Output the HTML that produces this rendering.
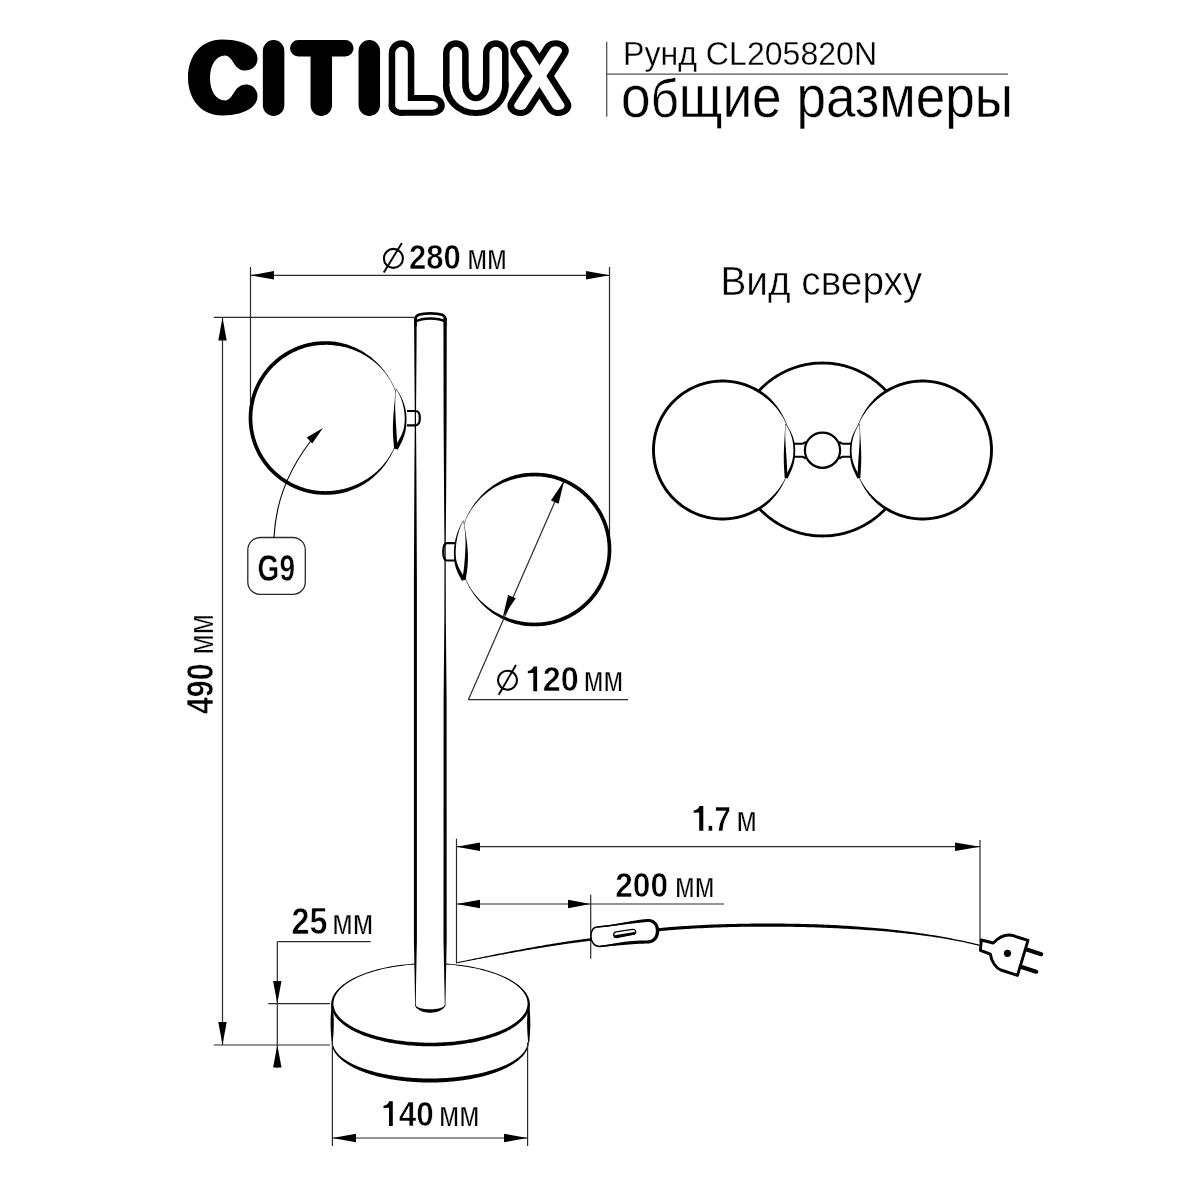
<!DOCTYPE html>
<html><head><meta charset="utf-8"><style>
html,body{margin:0;padding:0;background:#fff;width:1200px;height:1200px;overflow:hidden}
svg{display:block;will-change:transform}
text{font-family:"Liberation Sans",sans-serif;fill:#000}
</style></head><body>
<svg width="1200" height="1200" viewBox="0 0 1200 1200">
<rect width="1200" height="1200" fill="#fff"/>
<g fill="none" stroke="#000" stroke-linecap="round" stroke-linejoin="round">
<path d="M222 39.5 C236 39.5 246 43 251 47 C255 50 257.5 54 257.5 59 C257.5 65.5 252 70.5 245.5 70.5 C240.5 70.5 237.5 68.5 235 65 C232 60 229 55.5 225 55.5 C216 55.5 210 65 210 78 C210 91 216 100.5 225 100.5 C229 100.5 232 96 235 91 C237.5 87.5 240.5 84.5 246 84.5 C252 84.5 257.5 89 257.5 96 C257.5 101 255 105 251 108 C245 112.5 235 115.5 222 115.5 C201 115.5 188 99 188 77.5 C188 56 201 39.5 222 39.5 Z" fill="#000" stroke="none"/>
</g>
<g fill="none" stroke="#000" stroke-linecap="round"><path d="M273.6 50.75 V105.25 M369.3 50.75 V105.25 M321.3 56 V105.25" stroke-width="21.5"/><path d="M298.3 48.25 H345.3" stroke-width="16.5"/></g>
<g fill="none" stroke="#000" stroke-linecap="round" stroke-linejoin="round"><path d="M401.5 53.15 V103 M455.85 53.15 V85 M495.75 53.15 V85" stroke-width="25.6"/></g>
<g transform="translate(380 0) scale(1.25 1)" fill="none" stroke="#000" stroke-width="20.8" stroke-linecap="round" stroke-linejoin="round"><path d="M17.2 105.4 L41.44 105.4"/><path d="M60.68 85 A15.96 20.65 0 0 0 92.6 85"/><path d="M114.56 50.7 L142.64 105.6"/><path d="M140.64 50.7 L112.32 105.6"/></g>
<g fill="none" stroke="#fff" stroke-linecap="round" stroke-linejoin="round"><path d="M401.5 53.15 V103 M455.85 53.15 V85 M495.75 53.15 V85" stroke-width="12.6"/></g>
<g transform="translate(380 0) scale(1.43 1)" fill="none" stroke="#fff" stroke-width="8.8" stroke-linecap="round" stroke-linejoin="round"><path d="M15.03 105.4 L36.22 105.4"/><path d="M53.04 85 A13.95 20.65 0 0 0 80.94 85"/><path d="M100.14 50.7 L124.69 105.6"/><path d="M122.94 50.7 L98.18 105.6"/></g>
<line x1="606.7" y1="41.7" x2="606.7" y2="116.7" stroke="#555" stroke-width="1.3" stroke-linecap="butt"/>
<line x1="606.7" y1="74.2" x2="1008" y2="74.2" stroke="#555" stroke-width="1.3" stroke-linecap="butt"/>
<text x="623.1" y="65" font-size="33.8" font-weight="normal" textLength="254" lengthAdjust="spacingAndGlyphs" stroke="#fff" stroke-width="0.3" >Рунд CL205820N</text>
<text x="621.1" y="116.7" font-size="58.5" font-weight="normal" textLength="391.9" lengthAdjust="spacingAndGlyphs" stroke="#fff" stroke-width="0.45" >о<tspan font-size="54">б</tspan>щие размеры</text>
<line x1="250.5" y1="267" x2="250.5" y2="403" stroke="#2a2a2a" stroke-width="1.2" stroke-linecap="butt"/>
<line x1="609.5" y1="267" x2="609.5" y2="535" stroke="#2a2a2a" stroke-width="1.2" stroke-linecap="butt"/>
<line x1="250.5" y1="275.3" x2="609.5" y2="275.3" stroke="#2a2a2a" stroke-width="1.2" stroke-linecap="butt"/>
<path d="M250.5 275.3L274 271.1L274 279.5Z" fill="#000"/>
<path d="M609.5 275.3L586 279.5L586 271.1Z" fill="#000"/>
<circle cx="393.4" cy="258.4" r="9.5" fill="none" stroke="#000" stroke-width="2.1"/>
<line x1="383.75" y1="272.5" x2="401.9" y2="243" stroke="#000" stroke-width="1.9" stroke-linecap="butt"/>
<text x="409" y="269" font-size="35.6" font-weight="bold" textLength="51.75" lengthAdjust="spacingAndGlyphs" stroke="#fff" stroke-width="0.6" >280</text>
<text x="467.2" y="269" font-size="35" font-weight="normal" textLength="39.8" lengthAdjust="spacingAndGlyphs" stroke="#fff" stroke-width="0.25" >мм</text>
<line x1="213.75" y1="317.3" x2="414" y2="317.3" stroke="#2a2a2a" stroke-width="1.2" stroke-linecap="butt"/>
<line x1="213.75" y1="1045" x2="330" y2="1045" stroke="#2a2a2a" stroke-width="1.2" stroke-linecap="butt"/>
<line x1="222.5" y1="317.5" x2="222.5" y2="1045" stroke="#2a2a2a" stroke-width="1.2" stroke-linecap="butt"/>
<path d="M222.5 317.5L226.7 340.5L218.3 340.5Z" fill="#000"/>
<path d="M222.5 1045L218.3 1022L226.7 1022Z" fill="#000"/>
<g transform="translate(212.5 713) rotate(-90)">
<text x="-1" y="0" font-size="37.5" font-weight="bold" textLength="50.6" lengthAdjust="spacingAndGlyphs" stroke="#fff" stroke-width="0.6" >490</text>
<text x="58.6" y="0" font-size="35" font-weight="normal" textLength="40.4" lengthAdjust="spacingAndGlyphs" stroke="#fff" stroke-width="0.25" >мм</text>
</g>
<ellipse cx="325.5" cy="418" rx="75" ry="75" fill="#fff"/>
<path d="M400.73 418 400.7 416.03 400.62 414.06 400.49 412.1 400.31 410.14 400.08 408.18 399.8 406.23 399.47 404.29 399.08 402.36 398.65 400.44 398.16 398.53 397.63 396.63 397.04 394.75 396.41 392.89 395.73 391.04 395 389.21 394.22 387.4 393.4 385.61 392.53 383.85 391.61 382.1 390.66 380.38 389.66 378.68 388.62 377.01 387.55 375.36 386.43 373.73 385.28 372.13 384.08 370.56 382.85 369.02 381.58 367.51 380.27 366.03 378.92 364.58 377.54 363.16 376.12 361.78 374.66 360.44 373.17 359.13 371.65 357.86 370.09 356.62 368.5 355.43 366.88 354.28 365.23 353.17 363.55 352.1 361.84 351.08 360.1 350.1 358.33 349.16 356.54 348.28 354.73 347.44 352.89 346.65 351.03 345.91 349.15 345.22 347.25 344.58 345.33 343.99 343.4 343.46 341.45 342.98 339.48 342.56 337.51 342.19 335.52 341.87 333.53 341.61 331.53 341.41 329.52 341.27 327.51 341.18 325.5 341.15 323.49 341.18 321.48 341.26 319.47 341.39 317.47 341.57 315.47 341.81 313.48 342.1 311.5 342.44 309.52 342.83 307.56 343.27 305.61 343.77 303.67 344.31 301.75 344.91 299.85 345.56 297.96 346.25 296.09 347 294.24 347.79 292.42 348.64 290.61 349.53 288.83 350.46 287.08 351.45 285.35 352.47 283.64 353.55 281.97 354.67 280.33 355.83 278.72 357.03 277.14 358.28 275.59 359.56 274.08 360.89 272.6 362.25 271.16 363.66 269.75 365.1 268.39 366.58 267.06 368.09 265.78 369.64 264.53 371.22 263.33 372.83 262.17 374.47 261.05 376.14 259.97 377.85 258.95 379.57 257.96 381.33 257.03 383.11 256.14 384.92 255.29 386.74 254.5 388.59 253.75 390.46 253.06 392.35 252.41 394.25 251.81 396.17 251.27 398.11 250.77 400.06 250.33 402.02 249.94 404 249.6 405.98 249.31 407.97 249.07 409.97 248.89 411.97 248.76 413.98 248.68 415.99 248.65 418 248.68 420.01 248.76 422.02 248.89 424.03 249.07 426.03 249.31 428.03 249.6 430.02 249.94 432 250.33 433.98 250.77 435.94 251.27 437.89 251.81 439.83 252.41 441.75 253.06 443.65 253.75 445.54 254.5 447.41 255.29 449.26 256.14 451.08 257.03 452.89 257.96 454.67 258.95 456.43 259.97 458.15 261.05 459.86 262.17 461.53 263.33 463.17 264.53 464.78 265.78 466.36 267.06 467.91 268.39 469.42 269.75 470.9 271.16 472.34 272.6 473.75 274.08 475.11 275.59 476.44 277.14 477.72 278.72 478.97 280.33 480.17 281.97 481.33 283.64 482.45 285.35 483.53 287.07 484.55 288.83 485.54 290.61 486.47 292.42 487.36 294.24 488.21 296.09 489 297.96 489.75 299.85 490.44 301.75 491.09 303.67 491.69 305.61 492.23 307.56 492.73 309.52 493.17 311.5 493.56 313.48 493.9 315.47 494.19 317.47 494.43 319.47 494.61 321.48 494.74 323.49 494.82 325.5 494.85 327.51 494.82 329.52 494.74 331.53 494.61 333.53 494.43 335.53 494.19 337.52 493.9 339.5 493.56 341.48 493.17 343.44 492.71 345.38 492.2 347.31 491.64 349.23 491.02 351.12 490.35 352.99 489.62 354.85 488.85 356.67 488.02 358.48 487.14 360.26 486.21 362.01 485.24 363.73 484.22 365.42 483.15 367.09 482.04 368.72 480.88 370.32 479.69 371.88 478.45 373.41 477.17 374.91 475.85 376.37 474.49 377.79 473.1 379.17 471.67 380.52 470.21 381.82 468.71 383.09 467.19 384.32 465.63 385.5 464.04 386.64 462.42 387.75 460.78 388.81 459.11 389.83 457.42 390.8 455.7 391.73 453.96 392.62 452.2 393.47 450.42 394.27 448.62 395.03 446.8 395.75 444.96 396.42 443.11 397.04 441.25 397.63 439.37 398.16 437.47 398.65 435.56 399.08 433.64 399.47 431.71 399.8 429.77 400.08 427.82 400.31 425.86 400.49 423.9 400.62 421.94 400.7 419.97 400.73 418Z M400.27 418 400.25 419.96 400.17 421.91 400.04 423.87 399.87 425.82 399.64 427.76 399.35 429.7 399.02 431.63 398.64 433.55 398.21 435.46 397.73 437.35 397.2 439.24 396.61 441.11 395.98 442.96 395.29 444.79 394.55 446.6 393.76 448.39 392.92 450.16 392.03 451.9 391.09 453.61 390.1 455.3 389.07 456.96 387.99 458.58 386.87 460.18 385.71 461.74 384.5 463.27 383.26 464.77 381.97 466.23 380.65 467.66 379.29 469.04 377.89 470.39 376.47 471.71 375 472.98 373.51 474.21 371.99 475.4 370.43 476.56 368.85 477.67 367.24 478.73 365.61 479.76 363.95 480.74 362.27 481.69 360.57 482.58 358.84 483.44 357.1 484.25 355.34 485.01 353.56 485.74 351.76 486.41 349.95 487.05 348.13 487.64 346.29 488.18 344.44 488.69 342.58 489.14 340.71 489.56 338.83 489.93 336.94 490.25 335.05 490.52 333.15 490.75 331.24 490.92 329.33 491.05 327.41 491.12 325.5 491.15 323.59 491.12 321.67 491.05 319.76 490.92 317.85 490.75 315.95 490.52 314.06 490.25 312.17 489.93 310.29 489.55 308.42 489.13 306.57 488.66 304.72 488.14 302.9 487.57 301.08 486.95 299.29 486.29 297.51 485.58 295.75 484.83 294.01 484.02 292.29 483.18 290.6 482.29 288.92 481.35 287.28 480.37 285.66 479.35 284.07 478.28 282.5 477.18 280.97 476.03 279.47 474.85 277.99 473.62 276.55 472.36 275.15 471.06 273.78 469.72 272.44 468.35 271.14 466.95 269.88 465.51 268.65 464.03 267.47 462.53 266.32 461 265.22 459.43 264.15 457.84 263.13 456.22 262.15 454.57 261.21 452.9 260.32 451.21 259.48 449.49 258.67 447.75 257.92 445.99 257.21 444.21 256.55 442.42 255.93 440.6 255.36 438.78 254.84 436.93 254.37 435.08 253.95 433.21 253.57 431.33 253.25 429.44 252.98 427.55 252.75 425.65 252.58 423.74 252.45 421.83 252.38 419.91 252.35 418 252.38 416.09 252.45 414.17 252.58 412.26 252.75 410.35 252.98 408.45 253.25 406.56 253.57 404.67 253.95 402.79 254.37 400.92 254.84 399.07 255.36 397.22 255.93 395.4 256.55 393.58 257.21 391.79 257.92 390.01 258.67 388.25 259.48 386.51 260.32 384.79 261.21 383.1 262.15 381.43 263.13 379.78 264.15 378.16 265.22 376.57 266.32 375 267.47 373.47 268.65 371.97 269.88 370.49 271.14 369.05 272.44 367.65 273.78 366.28 275.15 364.94 276.55 363.64 277.99 362.38 279.47 361.15 280.97 359.97 282.5 358.82 284.07 357.72 285.66 356.65 287.28 355.63 288.93 354.65 290.6 353.71 292.29 352.82 294.01 351.98 295.75 351.17 297.51 350.42 299.29 349.71 301.08 349.05 302.9 348.43 304.72 347.86 306.57 347.34 308.42 346.87 310.29 346.45 312.17 346.07 314.06 345.75 315.95 345.48 317.85 345.25 319.76 345.08 321.67 344.95 323.59 344.88 325.5 344.85 327.41 344.87 329.33 344.94 331.24 345.05 333.15 345.21 335.06 345.41 336.96 345.66 338.85 345.96 340.74 346.3 342.62 346.68 344.49 347.12 346.35 347.6 348.2 348.12 350.04 348.7 351.87 349.32 353.67 349.98 355.47 350.69 357.24 351.45 359 352.25 360.74 353.1 362.45 354 364.15 354.94 365.81 355.92 367.46 356.95 369.08 358.02 370.67 359.14 372.23 360.3 373.75 361.5 375.25 362.74 376.72 364.03 378.15 365.35 379.54 366.72 380.9 368.12 382.21 369.56 383.49 371.04 384.73 372.55 385.92 374.1 387.07 375.68 388.18 377.3 389.24 378.94 390.25 380.62 391.21 382.32 392.13 384.05 392.99 385.81 393.81 387.59 394.58 389.38 395.31 391.2 395.99 393.04 396.62 394.89 397.2 396.76 397.73 398.65 398.21 400.54 398.64 402.45 399.02 404.37 399.35 406.3 399.64 408.24 399.87 410.18 400.04 412.13 400.17 414.09 400.25 416.04 400.27 418Z" fill="#000" fill-rule="evenodd"/>
<path d="M396 388.8 C393.9 406.8 393.9 430.8 396 448.8 C401.76 438.37 405.6 432.41 405.6 419 C405.6 405.41 400.32 394.84 396 388.8 Z" fill="#fff"/>
<path d="M395.8 388.78 395.75 389.23 395.7 389.68 395.65 390.14 395.6 390.6 395.55 391.06 395.5 391.52 395.45 391.99 395.41 392.46 395.36 392.93 395.32 393.4 395.28 393.87 395.23 394.35 395.19 394.83 395.15 395.31 395.11 395.79 395.07 396.28 395.03 396.76 394.99 397.25 394.94 397.74 394.9 398.23 394.86 398.72 394.81 399.21 394.77 399.71 394.72 400.21 394.68 400.71 394.63 401.21 394.58 401.71 394.54 402.21 394.49 402.71 394.44 403.22 394.4 403.72 394.35 404.23 394.3 404.74 394.25 405.25 394.21 405.76 394.16 406.27 394.11 406.79 394.07 407.3 394.02 407.82 393.97 408.33 393.93 408.85 393.88 409.37 393.84 409.89 393.79 410.41 393.75 410.93 393.71 411.45 393.66 411.97 393.62 412.49 393.58 413.02 393.54 413.54 393.5 414.07 393.46 414.59 393.42 415.12 393.38 415.64 393.35 416.17 393.31 416.69 393.28 417.22 393.24 417.75 393.21 418.27 393.18 418.8 393.15 419.33 393.12 419.85 393.1 420.38 393.07 420.91 393.05 421.44 393.02 421.96 393 422.49 392.98 423.02 392.96 423.54 392.95 424.07 392.93 424.59 392.92 425.12 392.91 425.64 392.9 426.17 392.89 426.69 392.88 427.22 392.88 427.74 392.88 428.26 392.88 428.78 392.88 429.3 392.88 429.82 392.89 430.34 392.9 430.86 392.91 431.38 392.92 431.89 392.94 432.41 392.95 432.92 392.97 433.43 393 433.95 393.02 434.46 393.05 434.96 393.08 435.47 393.1 435.98 393.13 436.48 393.16 436.99 393.2 437.49 393.23 437.99 393.26 438.49 393.29 438.99 393.33 439.48 393.37 439.98 393.4 440.47 393.44 440.96 393.48 441.45 393.52 441.94 393.56 442.42 393.6 442.91 393.64 443.39 393.68 443.87 393.73 444.35 393.77 444.82 393.82 445.3 393.86 445.77 393.91 446.24 393.96 446.71 394.01 447.17 394.06 447.63 394.11 448.09 394.16 448.55 394.21 449.01 L397.79 448.59 397.74 448.14 397.69 447.7 397.64 447.24 397.59 446.79 397.54 446.33 397.49 445.87 397.45 445.41 397.4 444.95 397.35 444.48 397.31 444.02 397.27 443.55 397.23 443.07 397.18 442.6 397.14 442.12 397.1 441.65 397.07 441.17 397.03 440.68 396.99 440.2 396.96 439.71 396.92 439.23 396.89 438.74 396.85 438.25 396.82 437.76 396.79 437.26 396.76 436.77 396.73 436.27 396.7 435.77 396.67 435.27 396.64 434.77 396.62 434.27 396.59 433.77 396.56 433.26 396.53 432.76 396.51 432.25 396.48 431.74 396.45 431.23 396.42 430.72 396.39 430.21 396.35 429.7 396.32 429.19 396.29 428.67 396.26 428.16 396.23 427.64 396.19 427.13 396.16 426.61 396.13 426.09 396.09 425.57 396.06 425.06 396.03 424.54 395.99 424.02 395.96 423.5 395.93 422.98 395.89 422.46 395.86 421.93 395.83 421.41 395.79 420.89 395.76 420.37 395.73 419.85 395.7 419.32 395.67 418.8 395.64 418.28 395.61 417.75 395.58 417.23 395.55 416.71 395.52 416.18 395.5 415.66 395.47 415.14 395.45 414.62 395.42 414.09 395.4 413.57 395.38 413.05 395.36 412.53 395.33 412.01 395.32 411.49 395.3 410.97 395.28 410.45 395.26 409.93 395.25 409.41 395.24 408.89 395.23 408.38 395.22 407.86 395.21 407.35 395.2 406.83 395.19 406.32 395.19 405.8 395.19 405.29 395.19 404.78 395.19 404.27 395.19 403.76 395.19 403.26 395.2 402.75 395.21 402.25 395.22 401.74 395.23 401.24 395.25 400.74 395.26 400.24 395.28 399.74 395.3 399.25 395.32 398.75 395.35 398.26 395.38 397.77 395.41 397.28 395.44 396.79 395.47 396.31 395.51 395.82 395.55 395.34 395.59 394.86 395.63 394.39 395.67 393.91 395.72 393.44 395.76 392.97 395.81 392.5 395.85 392.03 395.9 391.56 395.95 391.1 396 390.64 396.05 390.18 396.1 389.73 396.15 389.27 396.2 388.82Z" fill="#000"/>
<path d="M397.66 449.72 397.81 449.46 397.95 449.2 398.09 448.95 398.23 448.69 398.37 448.44 398.5 448.19 398.64 447.94 398.78 447.69 398.91 447.44 399.04 447.19 399.17 446.95 399.31 446.7 399.44 446.46 399.56 446.22 399.69 445.97 399.82 445.73 399.94 445.49 400.07 445.25 400.19 445.02 400.31 444.78 400.43 444.54 400.55 444.31 400.67 444.07 400.79 443.84 400.91 443.6 401.02 443.37 401.14 443.13 401.25 442.9 401.36 442.67 401.47 442.44 401.58 442.21 401.69 441.98 401.8 441.75 401.91 441.51 402.01 441.28 402.12 441.05 402.22 440.82 402.32 440.6 402.42 440.37 402.52 440.14 402.62 439.91 402.72 439.68 402.82 439.45 402.91 439.22 403.01 438.99 403.1 438.76 403.19 438.53 403.28 438.3 403.37 438.07 403.46 437.84 403.54 437.61 403.63 437.38 403.71 437.14 403.8 436.91 403.88 436.68 403.96 436.45 404.04 436.21 404.12 435.98 404.19 435.74 404.27 435.51 404.34 435.27 404.42 435.04 404.49 434.8 404.56 434.56 404.63 434.33 404.7 434.09 404.77 433.85 404.83 433.61 404.9 433.36 404.96 433.12 405.02 432.88 405.08 432.63 405.14 432.39 405.2 432.14 405.25 431.89 405.31 431.65 405.36 431.4 405.42 431.14 405.47 430.89 405.52 430.64 405.57 430.38 405.61 430.13 405.66 429.87 405.71 429.61 405.75 429.35 405.79 429.09 405.83 428.83 405.87 428.56 405.91 428.29 405.95 428.03 405.99 427.76 406.02 427.49 406.06 427.21 406.09 426.94 406.12 426.66 406.15 426.38 406.18 426.1 406.21 425.82 406.23 425.53 406.26 425.24 406.28 424.96 406.3 424.66 406.32 424.37 406.34 424.08 406.36 423.78 406.38 423.48 406.4 423.17 406.41 422.87 406.43 422.56 406.44 422.25 406.45 421.94 406.46 421.62 406.47 421.3 406.48 420.98 406.48 420.66 406.49 420.33 406.49 420.01 406.5 419.67 406.5 419.34 406.5 419 L404.7 419 404.7 419.33 404.7 419.66 404.69 419.98 404.68 420.3 404.68 420.62 404.66 420.93 404.65 421.24 404.64 421.55 404.62 421.85 404.6 422.16 404.58 422.46 404.56 422.75 404.54 423.05 404.51 423.34 404.48 423.63 404.45 423.91 404.42 424.2 404.39 424.48 404.36 424.76 404.32 425.03 404.28 425.31 404.24 425.58 404.2 425.85 404.16 426.11 404.12 426.38 404.07 426.64 404.02 426.9 403.97 427.16 403.92 427.41 403.87 427.67 403.82 427.92 403.76 428.17 403.7 428.42 403.64 428.66 403.58 428.91 403.52 429.15 403.46 429.39 403.4 429.63 403.33 429.86 403.26 430.1 403.2 430.33 403.13 430.56 403.05 430.79 402.98 431.02 402.91 431.25 402.83 431.48 402.76 431.7 402.68 431.92 402.6 432.15 402.52 432.37 402.44 432.59 402.36 432.81 402.27 433.02 402.19 433.24 402.1 433.46 402.01 433.67 401.92 433.89 401.83 434.1 401.74 434.31 401.65 434.52 401.56 434.74 401.46 434.95 401.37 435.16 401.27 435.37 401.17 435.58 401.07 435.79 400.97 435.99 400.87 436.2 400.77 436.41 400.66 436.62 400.56 436.83 400.45 437.03 400.35 437.24 400.24 437.45 400.13 437.66 400.02 437.87 399.91 438.07 399.8 438.28 399.69 438.49 399.57 438.7 399.46 438.91 399.34 439.12 399.23 439.33 399.11 439.54 398.99 439.75 398.87 439.97 398.75 440.18 398.63 440.39 398.51 440.61 398.39 440.82 398.26 441.04 398.14 441.25 398.01 441.47 397.88 441.69 397.76 441.91 397.63 442.13 397.5 442.35 397.37 442.58 397.24 442.8 397.11 443.03 396.98 443.25 396.84 443.48 396.71 443.71 396.58 443.94 396.44 444.18 396.31 444.41 396.17 444.65 396.03 444.88 395.89 445.12 395.76 445.37 395.62 445.61 395.48 445.85 395.34 446.1 395.19 446.35 395.05 446.6 394.91 446.85 394.77 447.11 394.62 447.36 394.48 447.62 394.34 447.88Z" fill="#000"/>
<path d="M406.5 419 406.5 418.66 406.49 418.31 406.49 417.97 406.48 417.63 406.47 417.29 406.46 416.95 406.44 416.61 406.42 416.28 406.4 415.94 406.38 415.61 406.35 415.28 406.33 414.95 406.3 414.62 406.26 414.29 406.23 413.97 406.19 413.64 406.16 413.32 406.12 413 406.07 412.68 406.03 412.36 405.98 412.04 405.94 411.72 405.89 411.41 405.83 411.1 405.78 410.79 405.72 410.48 405.67 410.17 405.61 409.86 405.55 409.56 405.48 409.25 405.42 408.95 405.35 408.65 405.29 408.35 405.22 408.05 405.15 407.76 405.07 407.46 405 407.17 404.92 406.88 404.85 406.59 404.77 406.3 404.69 406.01 404.61 405.73 404.52 405.45 404.44 405.16 404.36 404.88 404.27 404.61 404.18 404.33 404.09 404.05 404 403.78 403.91 403.51 403.82 403.24 403.72 402.97 403.63 402.7 403.53 402.44 403.44 402.17 403.34 401.91 403.24 401.65 403.14 401.39 403.04 401.14 402.94 400.88 402.83 400.63 402.73 400.37 402.63 400.12 402.52 399.88 402.42 399.63 402.31 399.38 402.2 399.14 402.09 398.9 401.98 398.66 401.88 398.42 401.77 398.18 401.65 397.95 401.54 397.71 401.43 397.48 401.32 397.25 401.21 397.02 401.09 396.8 400.98 396.57 400.87 396.35 400.75 396.13 400.64 395.91 400.52 395.69 400.41 395.48 400.29 395.26 400.18 395.05 400.06 394.84 399.94 394.63 399.83 394.42 399.71 394.21 399.6 394.01 399.48 393.81 399.36 393.61 399.24 393.41 399.13 393.21 399.01 393.01 398.89 392.82 398.78 392.63 398.66 392.44 398.54 392.25 398.43 392.06 398.31 391.88 398.2 391.69 398.08 391.51 397.96 391.33 397.85 391.15 397.73 390.98 397.62 390.8 397.5 390.63 397.39 390.46 397.28 390.29 397.16 390.12 397.05 389.95 396.94 389.79 396.82 389.62 396.71 389.46 396.6 389.3 396.49 389.15 396.38 388.99 396.27 388.84 396.16 388.68 L395.84 388.92 395.94 389.07 396.05 389.22 396.16 389.38 396.27 389.53 396.38 389.69 396.48 389.85 396.59 390.02 396.7 390.18 396.81 390.35 396.92 390.52 397.03 390.69 397.13 390.87 397.24 391.04 397.35 391.22 397.46 391.4 397.57 391.58 397.67 391.76 397.78 391.94 397.89 392.13 397.99 392.32 398.1 392.51 398.21 392.7 398.31 392.9 398.42 393.09 398.53 393.29 398.63 393.49 398.74 393.69 398.84 393.89 398.95 394.1 399.05 394.3 399.15 394.51 399.26 394.72 399.36 394.93 399.46 395.14 399.56 395.36 399.66 395.58 399.77 395.79 399.87 396.01 399.97 396.24 400.06 396.46 400.16 396.68 400.26 396.91 400.36 397.14 400.46 397.37 400.55 397.6 400.65 397.83 400.74 398.07 400.84 398.3 400.93 398.54 401.02 398.78 401.11 399.02 401.2 399.26 401.29 399.51 401.38 399.75 401.47 400 401.56 400.25 401.65 400.5 401.73 400.75 401.82 401 401.9 401.26 401.99 401.51 402.07 401.77 402.15 402.03 402.23 402.29 402.31 402.55 402.39 402.81 402.47 403.08 402.54 403.35 402.62 403.61 402.69 403.88 402.77 404.15 402.84 404.42 402.91 404.7 402.98 404.97 403.05 405.25 403.12 405.52 403.18 405.8 403.25 406.08 403.31 406.36 403.37 406.65 403.44 406.93 403.5 407.21 403.55 407.5 403.61 407.79 403.67 408.08 403.72 408.37 403.78 408.66 403.83 408.95 403.88 409.25 403.93 409.54 403.98 409.84 404.03 410.14 404.07 410.44 404.11 410.74 404.16 411.04 404.2 411.34 404.24 411.65 404.28 411.95 404.31 412.26 404.35 412.57 404.38 412.88 404.41 413.19 404.44 413.5 404.47 413.82 404.5 414.13 404.52 414.45 404.55 414.76 404.57 415.08 404.59 415.4 404.61 415.72 404.63 416.05 404.64 416.37 404.66 416.69 404.67 417.02 404.68 417.35 404.69 417.67 404.69 418 404.7 418.33 404.7 418.67 404.7 419Z" fill="#000"/>
<ellipse cx="534.5" cy="549.5" rx="75" ry="75" fill="#fff"/>
<path d="M611.35 549.5 611.32 547.49 611.24 545.48 611.11 543.47 610.93 541.47 610.69 539.47 610.4 537.48 610.06 535.5 609.67 533.52 609.23 531.56 608.73 529.61 608.19 527.67 607.59 525.75 606.94 523.85 606.25 521.96 605.5 520.09 604.71 518.24 603.86 516.42 602.97 514.61 602.04 512.83 601.05 511.07 600.03 509.35 598.95 507.64 597.83 505.97 596.67 504.33 595.47 502.72 594.22 501.14 592.94 499.59 591.61 498.08 590.25 496.6 588.84 495.16 587.4 493.75 585.92 492.39 584.41 491.06 582.86 489.78 581.28 488.53 579.67 487.33 578.03 486.17 576.36 485.05 574.65 483.97 572.92 482.95 571.17 481.96 569.39 481.03 567.58 480.14 565.76 479.29 563.91 478.5 562.04 477.75 560.15 477.06 558.25 476.41 556.33 475.81 554.39 475.27 552.44 474.77 550.48 474.33 548.5 473.94 546.52 473.6 544.53 473.31 542.53 473.07 540.53 472.89 538.52 472.76 536.51 472.68 534.5 472.65 532.49 472.68 530.48 472.76 528.47 472.89 526.47 473.07 524.47 473.31 522.48 473.61 520.5 473.97 518.53 474.38 516.58 474.85 514.64 475.37 512.71 475.95 510.81 476.58 508.92 477.26 507.05 478 505.21 478.78 503.39 479.62 501.59 480.5 499.82 481.43 498.07 482.41 496.36 483.43 494.67 484.5 493.01 485.62 491.39 486.77 489.79 487.97 488.23 489.21 486.71 490.48 485.22 491.8 483.76 493.15 482.34 494.54 480.96 495.96 479.62 497.42 478.31 498.91 477.04 500.43 475.81 501.98 474.62 503.56 473.48 505.16 472.37 506.8 471.3 508.46 470.28 510.14 469.29 511.85 468.35 513.58 467.45 515.34 466.59 517.11 465.77 518.9 465 520.71 464.27 522.54 463.59 524.39 462.96 526.25 462.37 528.13 461.84 530.03 461.35 531.94 460.92 533.86 460.53 535.79 460.2 537.73 459.92 539.68 459.69 541.64 459.51 543.6 459.38 545.56 459.3 547.53 459.27 549.5 459.3 551.47 459.38 553.44 459.51 555.4 459.69 557.36 459.92 559.32 460.2 561.27 460.53 563.21 460.92 565.14 461.35 567.06 461.84 568.97 462.37 570.87 462.96 572.75 463.59 574.61 464.27 576.46 465 578.29 465.77 580.1 466.59 581.89 467.45 583.66 468.35 585.42 469.29 587.15 470.28 588.86 471.3 590.54 472.37 592.2 473.48 593.84 474.62 595.44 475.81 597.02 477.04 598.57 478.31 600.09 479.62 601.58 480.96 603.04 482.34 604.46 483.76 605.85 485.22 607.2 486.71 608.52 488.23 609.79 489.79 611.03 491.39 612.23 493.01 613.38 494.67 614.5 496.36 615.57 498.07 616.59 499.82 617.57 501.59 618.5 503.39 619.38 505.21 620.22 507.05 621 508.92 621.74 510.81 622.42 512.71 623.05 514.64 623.63 516.58 624.15 518.53 624.62 520.5 625.03 522.48 625.39 524.47 625.69 526.47 625.93 528.47 626.11 530.48 626.24 532.49 626.32 534.5 626.35 536.51 626.32 538.52 626.24 540.53 626.11 542.53 625.93 544.53 625.69 546.52 625.4 548.5 625.06 550.48 624.67 552.44 624.23 554.39 623.73 556.33 623.19 558.25 622.59 560.15 621.94 562.04 621.25 563.91 620.5 565.76 619.71 567.58 618.86 569.39 617.97 571.17 617.04 572.92 616.05 574.65 615.03 576.36 613.95 578.03 612.83 579.67 611.67 581.28 610.47 582.86 609.22 584.41 607.94 585.92 606.61 587.4 605.25 588.84 603.84 590.25 602.4 591.61 600.92 592.94 599.41 594.22 597.86 595.47 596.28 596.67 594.67 597.83 593.03 598.95 591.36 600.03 589.65 601.05 587.93 602.04 586.17 602.97 584.39 603.86 582.58 604.71 580.76 605.5 578.91 606.25 577.04 606.94 575.15 607.59 573.25 608.19 571.33 608.73 569.39 609.23 567.44 609.67 565.48 610.06 563.5 610.4 561.52 610.69 559.53 610.93 557.53 611.11 555.53 611.24 553.52 611.32 551.51 611.35 549.5Z M607.65 549.5 607.62 551.41 607.55 553.33 607.42 555.24 607.25 557.15 607.02 559.05 606.75 560.94 606.43 562.83 606.05 564.71 605.63 566.58 605.16 568.43 604.64 570.28 604.07 572.1 603.45 573.92 602.79 575.71 602.08 577.49 601.33 579.25 600.52 580.99 599.68 582.71 598.79 584.4 597.85 586.08 596.87 587.72 595.85 589.34 594.78 590.93 593.68 592.5 592.53 594.03 591.35 595.53 590.12 597.01 588.86 598.45 587.56 599.85 586.22 601.22 584.85 602.56 583.45 603.86 582.01 605.12 580.53 606.35 579.03 607.53 577.5 608.68 575.93 609.78 574.34 610.85 572.72 611.87 571.08 612.85 569.4 613.79 567.71 614.68 565.99 615.52 564.25 616.33 562.49 617.08 560.71 617.79 558.92 618.45 557.1 619.07 555.28 619.64 553.43 620.16 551.58 620.63 549.71 621.05 547.83 621.43 545.94 621.75 544.05 622.02 542.15 622.25 540.24 622.42 538.33 622.55 536.41 622.62 534.5 622.65 532.59 622.62 530.67 622.55 528.76 622.42 526.85 622.25 524.95 622.03 523.05 621.77 521.16 621.46 519.28 621.11 517.4 620.71 515.54 620.26 513.68 619.77 511.84 619.24 510.01 618.66 508.19 618.04 506.39 617.36 504.6 616.65 502.83 615.89 501.08 615.08 499.35 614.23 497.64 613.34 495.95 612.4 494.29 611.42 492.65 610.39 491.04 609.32 489.45 608.21 487.89 607.05 486.37 605.86 484.87 604.62 483.4 603.34 481.97 602.03 480.58 600.67 479.22 599.28 477.9 597.84 476.62 596.37 475.37 594.87 474.17 593.33 473.01 591.76 471.9 590.15 470.83 588.52 469.81 586.85 468.83 585.16 467.9 583.43 467.02 581.69 466.19 579.91 465.42 578.12 464.69 576.3 464.01 574.46 463.38 572.61 462.8 570.74 462.27 568.85 461.79 566.96 461.36 565.05 460.98 563.13 460.65 561.2 460.36 559.26 460.13 557.32 459.96 555.37 459.83 553.41 459.75 551.46 459.73 549.5 459.75 547.54 459.83 545.59 459.96 543.63 460.13 541.68 460.36 539.74 460.65 537.8 460.98 535.87 461.36 533.95 461.79 532.04 462.27 530.15 462.8 528.26 463.38 526.39 464.01 524.54 464.69 522.7 465.42 520.88 466.19 519.09 467.02 517.31 467.9 515.57 468.83 513.84 469.81 512.15 470.83 510.48 471.9 508.85 473.01 507.24 474.17 505.67 475.37 504.13 476.62 502.63 477.9 501.16 479.22 499.72 480.58 498.33 481.97 496.97 483.4 495.66 484.87 494.38 486.37 493.14 487.89 491.95 489.45 490.79 491.04 489.68 492.65 488.61 494.29 487.58 495.95 486.6 497.64 485.66 499.35 484.77 501.08 483.92 502.83 483.11 504.6 482.35 506.39 481.64 508.19 480.96 510.01 480.34 511.84 479.76 513.68 479.23 515.54 478.74 517.4 478.29 519.28 477.89 521.16 477.54 523.05 477.23 524.95 476.97 526.85 476.75 528.76 476.58 530.67 476.45 532.59 476.38 534.5 476.35 536.41 476.38 538.33 476.45 540.24 476.58 542.15 476.75 544.05 476.98 545.94 477.25 547.83 477.57 549.71 477.95 551.58 478.37 553.43 478.84 555.28 479.36 557.1 479.93 558.92 480.55 560.71 481.21 562.49 481.92 564.25 482.67 565.99 483.48 567.71 484.32 569.4 485.21 571.08 486.15 572.72 487.13 574.34 488.15 575.93 489.22 577.5 490.32 579.03 491.47 580.53 492.65 582.01 493.88 583.45 495.14 584.85 496.44 586.22 497.78 587.56 499.15 588.86 500.55 590.12 501.99 591.35 503.47 592.53 504.97 593.68 506.5 594.78 508.07 595.85 509.66 596.87 511.28 597.85 512.92 598.79 514.6 599.68 516.29 600.52 518.01 601.33 519.75 602.08 521.51 602.79 523.29 603.45 525.08 604.07 526.9 604.64 528.72 605.16 530.57 605.63 532.42 606.05 534.29 606.43 536.17 606.75 538.06 607.02 539.95 607.25 541.85 607.42 543.76 607.55 545.67 607.62 547.59 607.65 549.5Z" fill="#000" fill-rule="evenodd"/>
<path d="M463.3 520.7 C467.3 538.49 467.7 562.21 463.7 580 C458.36 570.55 454.8 565.15 454.8 553 C454.8 538.47 459.48 527.16 463.3 520.7 Z" fill="#fff"/>
<path d="M463.1 520.74 463.2 521.19 463.3 521.64 463.4 522.09 463.49 522.54 463.59 522.99 463.68 523.45 463.77 523.91 463.86 524.37 463.94 524.83 464.03 525.3 464.11 525.77 464.19 526.24 464.28 526.71 464.35 527.18 464.43 527.66 464.51 528.14 464.58 528.62 464.65 529.1 464.71 529.58 464.78 530.07 464.83 530.55 464.89 531.04 464.95 531.53 465 532.02 465.05 532.52 465.09 533.01 465.14 533.51 465.18 534.01 465.21 534.51 465.25 535.01 465.28 535.51 465.31 536.01 465.34 536.52 465.37 537.02 465.39 537.53 465.41 538.04 465.43 538.54 465.45 539.05 465.46 539.56 465.47 540.07 465.48 540.58 465.49 541.09 465.5 541.61 465.5 542.12 465.5 542.63 465.5 543.15 465.5 543.66 465.5 544.17 465.49 544.69 465.48 545.2 465.47 545.72 465.46 546.24 465.45 546.75 465.44 547.27 465.42 547.78 465.4 548.3 465.39 548.81 465.37 549.33 465.34 549.85 465.32 550.36 465.3 550.88 465.27 551.39 465.24 551.91 465.22 552.42 465.19 552.93 465.16 553.45 465.13 553.96 465.09 554.47 465.06 554.99 465.03 555.5 464.99 556.01 464.95 556.52 464.92 557.03 464.88 557.54 464.84 558.05 464.8 558.56 464.76 559.06 464.72 559.57 464.68 560.08 464.64 560.58 464.59 561.08 464.55 561.59 464.51 562.09 464.46 562.59 464.42 563.09 464.38 563.59 464.33 564.09 464.29 564.58 464.24 565.08 464.19 565.57 464.15 566.07 464.1 566.56 464.05 567.05 464 567.54 463.94 568.03 463.89 568.51 463.83 569 463.77 569.48 463.71 569.96 463.65 570.44 463.59 570.92 463.52 571.4 463.45 571.87 463.39 572.35 463.31 572.82 463.24 573.29 463.17 573.75 463.09 574.22 463.01 574.68 462.93 575.14 462.85 575.6 462.77 576.06 462.68 576.51 462.6 576.96 462.51 577.41 462.42 577.86 462.33 578.31 462.23 578.75 462.14 579.19 462.04 579.63 L465.36 580.37 465.46 579.92 465.56 579.46 465.66 579 465.75 578.54 465.84 578.08 465.94 577.61 466.03 577.14 466.11 576.67 466.2 576.2 466.28 575.73 466.37 575.25 466.45 574.78 466.52 574.3 466.6 573.81 466.68 573.33 466.75 572.85 466.82 572.36 466.89 571.87 466.96 571.38 467.02 570.89 467.09 570.39 467.15 569.9 467.21 569.4 467.27 568.9 467.32 568.4 467.38 567.9 467.43 567.4 467.48 566.9 467.53 566.39 467.58 565.89 467.63 565.38 467.67 564.87 467.71 564.36 467.74 563.85 467.77 563.34 467.8 562.83 467.83 562.31 467.85 561.8 467.87 561.28 467.89 560.76 467.9 560.25 467.91 559.73 467.92 559.21 467.93 558.69 467.93 558.17 467.93 557.65 467.93 557.13 467.92 556.61 467.92 556.09 467.91 555.56 467.89 555.04 467.88 554.52 467.86 554 467.84 553.47 467.82 552.95 467.8 552.43 467.77 551.91 467.74 551.38 467.71 550.86 467.68 550.34 467.64 549.82 467.61 549.29 467.57 548.77 467.53 548.25 467.49 547.73 467.44 547.21 467.4 546.69 467.35 546.17 467.3 545.65 467.25 545.13 467.2 544.61 467.15 544.1 467.09 543.58 467.03 543.06 466.98 542.55 466.92 542.03 466.86 541.52 466.8 541.01 466.73 540.49 466.67 539.98 466.6 539.47 466.54 538.96 466.47 538.46 466.4 537.95 466.33 537.44 466.26 536.94 466.19 536.43 466.12 535.93 466.05 535.43 465.98 534.93 465.9 534.43 465.83 533.93 465.75 533.44 465.68 532.94 465.6 532.45 465.53 531.96 465.45 531.47 465.37 530.98 465.3 530.49 465.22 530 465.14 529.52 465.06 529.03 464.98 528.55 464.91 528.07 464.83 527.59 464.75 527.12 464.67 526.64 464.59 526.17 464.51 525.7 464.42 525.23 464.34 524.76 464.25 524.3 464.16 523.83 464.07 523.37 463.98 522.91 463.88 522.46 463.79 522 463.69 521.55 463.59 521.1 463.5 520.66Z" fill="#000"/>
<path d="M465.4 579.04 465.26 578.8 465.13 578.57 465 578.34 464.86 578.11 464.73 577.88 464.6 577.65 464.47 577.43 464.34 577.2 464.21 576.98 464.08 576.76 463.95 576.54 463.82 576.33 463.7 576.11 463.57 575.9 463.44 575.69 463.32 575.48 463.19 575.27 463.07 575.06 462.94 574.85 462.82 574.65 462.7 574.44 462.58 574.24 462.46 574.04 462.34 573.84 462.22 573.64 462.1 573.44 461.98 573.25 461.86 573.05 461.75 572.85 461.63 572.66 461.52 572.47 461.4 572.27 461.29 572.08 461.18 571.89 461.07 571.7 460.95 571.51 460.85 571.32 460.74 571.13 460.63 570.94 460.52 570.75 460.42 570.56 460.31 570.38 460.21 570.19 460.1 570 460 569.82 459.9 569.63 459.8 569.44 459.7 569.26 459.6 569.07 459.5 568.88 459.4 568.7 459.31 568.51 459.21 568.32 459.12 568.13 459.03 567.95 458.93 567.76 458.84 567.57 458.75 567.38 458.67 567.19 458.58 567 458.49 566.81 458.41 566.62 458.32 566.43 458.24 566.24 458.15 566.04 458.07 565.85 457.99 565.65 457.91 565.46 457.84 565.26 457.76 565.06 457.68 564.86 457.61 564.66 457.54 564.46 457.47 564.26 457.39 564.06 457.32 563.85 457.26 563.65 457.19 563.44 457.12 563.23 457.06 563.02 457 562.81 456.93 562.6 456.87 562.38 456.81 562.16 456.76 561.95 456.7 561.73 456.64 561.51 456.59 561.28 456.54 561.06 456.49 560.83 456.44 560.6 456.39 560.37 456.34 560.14 456.3 559.9 456.25 559.67 456.21 559.43 456.17 559.19 456.13 558.95 456.1 558.7 456.06 558.45 456.03 558.2 455.99 557.95 455.96 557.7 455.93 557.44 455.91 557.18 455.88 556.92 455.86 556.66 455.83 556.39 455.81 556.13 455.79 555.86 455.78 555.58 455.76 555.31 455.75 555.03 455.73 554.75 455.72 554.46 455.72 554.17 455.71 553.89 455.7 553.59 455.7 553.3 455.7 553 L453.9 553 453.9 553.31 453.9 553.61 453.9 553.91 453.91 554.21 453.91 554.51 453.92 554.8 453.93 555.09 453.93 555.38 453.94 555.67 453.95 555.95 453.97 556.23 453.98 556.51 453.99 556.79 454.01 557.06 454.02 557.34 454.04 557.61 454.06 557.88 454.08 558.14 454.1 558.41 454.12 558.67 454.14 558.93 454.16 559.19 454.19 559.45 454.21 559.7 454.24 559.96 454.27 560.21 454.3 560.46 454.33 560.71 454.36 560.96 454.39 561.2 454.43 561.44 454.46 561.69 454.5 561.93 454.53 562.17 454.57 562.41 454.61 562.64 454.65 562.88 454.69 563.11 454.74 563.35 454.78 563.58 454.83 563.81 454.87 564.04 454.92 564.27 454.97 564.5 455.02 564.72 455.07 564.95 455.13 565.17 455.18 565.4 455.23 565.62 455.29 565.84 455.35 566.07 455.41 566.29 455.47 566.51 455.53 566.72 455.59 566.94 455.65 567.16 455.72 567.38 455.78 567.59 455.85 567.81 455.92 568.02 455.99 568.24 456.06 568.45 456.13 568.67 456.2 568.88 456.27 569.09 456.35 569.3 456.43 569.52 456.5 569.73 456.58 569.94 456.66 570.15 456.74 570.36 456.82 570.57 456.91 570.78 456.99 570.99 457.08 571.2 457.16 571.41 457.25 571.62 457.34 571.83 457.43 572.04 457.52 572.25 457.61 572.46 457.7 572.67 457.8 572.88 457.89 573.09 457.99 573.29 458.08 573.5 458.18 573.71 458.28 573.93 458.38 574.14 458.48 574.35 458.58 574.56 458.69 574.77 458.79 574.98 458.9 575.19 459 575.41 459.11 575.62 459.22 575.83 459.33 576.05 459.44 576.26 459.55 576.48 459.67 576.69 459.78 576.91 459.89 577.13 460.01 577.34 460.13 577.56 460.24 577.78 460.36 578 460.48 578.22 460.6 578.45 460.73 578.67 460.85 578.89 460.97 579.12 461.1 579.34 461.22 579.57 461.35 579.8 461.48 580.03 461.61 580.26 461.74 580.49 461.87 580.72 462 580.96Z" fill="#000"/>
<path d="M455.7 553 455.7 552.64 455.7 552.29 455.71 551.93 455.71 551.58 455.72 551.22 455.73 550.87 455.74 550.52 455.75 550.17 455.76 549.83 455.78 549.48 455.8 549.14 455.81 548.79 455.83 548.45 455.85 548.11 455.88 547.77 455.9 547.43 455.92 547.1 455.95 546.76 455.98 546.43 456.01 546.1 456.04 545.77 456.07 545.44 456.1 545.11 456.14 544.78 456.17 544.46 456.21 544.13 456.25 543.81 456.29 543.49 456.33 543.17 456.37 542.85 456.41 542.53 456.46 542.22 456.51 541.9 456.55 541.59 456.6 541.28 456.65 540.97 456.7 540.66 456.75 540.36 456.8 540.05 456.86 539.75 456.91 539.44 456.97 539.14 457.03 538.84 457.08 538.54 457.14 538.25 457.2 537.95 457.26 537.66 457.33 537.37 457.39 537.08 457.45 536.79 457.52 536.5 457.58 536.21 457.65 535.93 457.72 535.65 457.79 535.36 457.86 535.08 457.93 534.81 458 534.53 458.07 534.25 458.14 533.98 458.22 533.71 458.29 533.44 458.37 533.17 458.44 532.9 458.52 532.64 458.6 532.37 458.67 532.11 458.75 531.85 458.83 531.59 458.91 531.33 458.99 531.08 459.08 530.83 459.16 530.57 459.24 530.32 459.32 530.07 459.41 529.83 459.49 529.58 459.58 529.34 459.66 529.1 459.75 528.86 459.84 528.62 459.93 528.38 460.01 528.15 460.1 527.91 460.19 527.68 460.28 527.45 460.37 527.23 460.46 527 460.55 526.78 460.64 526.55 460.73 526.33 460.82 526.12 460.92 525.9 461.01 525.68 461.1 525.47 461.19 525.26 461.29 525.05 461.38 524.85 461.47 524.64 461.57 524.44 461.66 524.24 461.76 524.04 461.85 523.84 461.95 523.65 462.04 523.45 462.14 523.26 462.23 523.07 462.33 522.88 462.42 522.7 462.52 522.52 462.61 522.34 462.71 522.16 462.8 521.98 462.9 521.81 462.99 521.63 463.09 521.46 463.19 521.29 463.28 521.13 463.38 520.96 463.47 520.8 L463.13 520.6 463.03 520.76 462.93 520.93 462.84 521.09 462.74 521.26 462.64 521.43 462.54 521.6 462.44 521.78 462.34 521.96 462.24 522.13 462.14 522.31 462.04 522.5 461.94 522.68 461.84 522.86 461.73 523.05 461.63 523.24 461.53 523.43 461.43 523.62 461.32 523.82 461.22 524.02 461.12 524.21 461.01 524.42 460.91 524.62 460.8 524.82 460.7 525.03 460.6 525.24 460.49 525.45 460.39 525.66 460.28 525.87 460.18 526.09 460.08 526.3 459.97 526.52 459.87 526.74 459.76 526.96 459.66 527.19 459.56 527.42 459.45 527.64 459.35 527.87 459.25 528.11 459.14 528.34 459.04 528.57 458.94 528.81 458.84 529.05 458.74 529.29 458.64 529.53 458.53 529.78 458.43 530.03 458.33 530.27 458.24 530.52 458.14 530.78 458.04 531.03 457.94 531.28 457.84 531.54 457.75 531.8 457.65 532.06 457.56 532.32 457.46 532.59 457.37 532.85 457.27 533.12 457.18 533.39 457.09 533.66 457 533.94 456.91 534.21 456.82 534.49 456.73 534.77 456.64 535.05 456.56 535.33 456.47 535.61 456.38 535.9 456.3 536.18 456.22 536.47 456.14 536.76 456.06 537.06 455.98 537.35 455.9 537.65 455.82 537.94 455.74 538.24 455.67 538.54 455.59 538.85 455.52 539.15 455.45 539.46 455.38 539.76 455.31 540.07 455.24 540.39 455.18 540.7 455.11 541.01 455.05 541.33 454.99 541.65 454.93 541.96 454.87 542.29 454.81 542.61 454.75 542.93 454.7 543.26 454.65 543.59 454.59 543.91 454.54 544.24 454.5 544.58 454.45 544.91 454.4 545.25 454.36 545.58 454.32 545.92 454.28 546.26 454.24 546.6 454.21 546.95 454.17 547.29 454.14 547.64 454.11 547.98 454.08 548.33 454.06 548.68 454.03 549.03 454.01 549.39 453.99 549.74 453.97 550.1 453.95 550.46 453.94 550.82 453.93 551.18 453.92 551.54 453.91 551.9 453.9 552.27 453.9 552.63 453.9 553Z" fill="#000"/>
<line x1="564" y1="481" x2="468.3" y2="699.7" stroke="#2a2a2a" stroke-width="1.2" stroke-linecap="butt"/>
<line x1="468.3" y1="699.7" x2="628" y2="699.7" stroke="#2a2a2a" stroke-width="1.2" stroke-linecap="butt"/>
<path d="M564 481L558.63 503.75L550.93 500.39Z" fill="#000"/>
<path d="M502.7 617.7L508.07 594.95L515.77 598.31Z" fill="#000"/>
<circle cx="507.5" cy="680.2" r="9.5" fill="none" stroke="#000" stroke-width="2.1"/>
<line x1="498.7" y1="694.7" x2="516" y2="665" stroke="#000" stroke-width="1.9" stroke-linecap="butt"/>
<text x="542.7" y="691" font-size="35.6" font-weight="bold" textLength="35.9" lengthAdjust="spacingAndGlyphs" stroke="#fff" stroke-width="0.6" >20</text>
<path d="M537.1 691.2 L537.1 666.4 L533.5 666.4 C532.8 668.9 530.8 670.6 527.8 671 L527.8 673.3 L533.3 672.9 L533.3 691.2 Z" fill="#000"/>
<text x="583.8" y="691" font-size="35" font-weight="normal" textLength="39.4" lengthAdjust="spacingAndGlyphs" stroke="#fff" stroke-width="0.25" >мм</text>
<rect x="247.8" y="537.5" width="57.5" height="56.9" rx="12.5" fill="#fff" stroke="#2a2a2a" stroke-width="1.3"/>
<text x="257.6" y="580.8" font-size="36" font-weight="bold" textLength="37.4" lengthAdjust="spacingAndGlyphs" stroke="#fff" stroke-width="0.6" >G9</text>
<path d="M274 537.5 Q276.5 480.6 318 432" fill="none" stroke="#000" stroke-width="1.1"/>
<path d="M323 428L312.22 443.44L306.78 437.56Z" fill="#000"/>
<path d="M529.85 1004 529.79 1002.91 529.66 1001.82 529.47 1000.74 529.2 999.66 528.87 998.58 528.48 997.51 528.01 996.44 527.48 995.38 526.89 994.33 526.23 993.28 525.5 992.25 524.71 991.22 523.86 990.2 522.94 989.19 521.96 988.2 520.92 987.21 519.82 986.24 518.65 985.28 517.43 984.33 516.15 983.4 514.81 982.48 513.42 981.58 511.97 980.69 510.47 979.82 508.91 978.96 507.3 978.12 505.63 977.3 503.92 976.5 502.16 975.72 500.34 974.96 498.49 974.21 496.58 973.49 494.63 972.78 492.64 972.1 490.61 971.44 488.53 970.8 486.42 970.19 484.27 969.59 482.08 969.02 479.86 968.48 477.6 967.96 475.31 967.46 473 966.99 470.65 966.54 468.27 966.12 465.87 965.72 463.45 965.35 461 965 458.53 964.69 456.05 964.4 453.54 964.13 451.02 963.9 448.49 963.69 445.94 963.5 443.38 963.35 440.82 963.22 438.24 963.13 435.67 963.06 433.08 963.01 430.5 963 427.92 963.01 425.33 963.06 422.76 963.13 420.18 963.22 417.62 963.35 415.06 963.5 412.51 963.69 409.98 963.9 407.46 964.13 404.95 964.4 402.47 964.69 400 965 397.55 965.35 395.13 965.72 392.73 966.12 390.35 966.54 388 966.99 385.69 967.46 383.4 967.96 381.14 968.48 378.92 969.02 376.73 969.59 374.58 970.19 372.47 970.8 370.39 971.44 368.36 972.1 366.37 972.78 364.42 973.49 362.51 974.21 360.66 974.96 358.84 975.72 357.08 976.5 355.37 977.3 353.7 978.12 352.09 978.96 350.53 979.82 349.03 980.69 347.58 981.58 346.19 982.48 344.85 983.4 343.57 984.33 342.35 985.28 341.18 986.24 340.08 987.21 339.04 988.2 338.06 989.19 337.14 990.2 336.29 991.22 335.5 992.25 334.77 993.28 334.11 994.33 333.52 995.38 332.99 996.44 332.52 997.51 332.13 998.58 331.8 999.66 331.53 1000.74 331.34 1001.82 331.21 1002.91 331.15 1004 331.16 1005.09 331.24 1006.18 331.38 1007.27 331.59 1008.36 331.87 1009.45 332.22 1010.54 332.64 1011.62 333.13 1012.7 333.68 1013.78 334.3 1014.84 334.98 1015.91 335.74 1016.96 336.55 1018.01 337.44 1019.05 338.38 1020.07 339.4 1021.09 340.47 1022.1 341.61 1023.1 342.81 1024.08 344.07 1025.05 345.4 1026 346.78 1026.94 348.22 1027.87 349.71 1028.78 351.27 1029.67 352.88 1030.55 354.54 1031.4 356.26 1032.24 358.02 1033.06 359.84 1033.86 361.71 1034.63 363.63 1035.39 365.59 1036.13 367.6 1036.84 369.65 1037.53 371.74 1038.19 373.88 1038.84 376.05 1039.46 378.26 1040.05 380.51 1040.62 382.79 1041.16 385.11 1041.68 387.45 1042.17 389.83 1042.64 392.23 1043.08 394.66 1043.49 397.12 1043.87 399.6 1044.23 402.1 1044.56 404.62 1044.86 407.16 1045.13 409.71 1045.38 412.28 1045.59 414.86 1045.78 417.45 1045.94 420.05 1046.07 422.65 1046.17 425.27 1046.24 427.88 1046.29 430.5 1046.3 433.12 1046.29 435.73 1046.24 438.35 1046.17 440.95 1046.07 443.55 1045.94 446.14 1045.78 448.72 1045.59 451.29 1045.38 453.84 1045.13 456.38 1044.86 458.9 1044.56 461.4 1044.23 463.88 1043.87 466.34 1043.49 468.77 1043.08 471.17 1042.64 473.55 1042.17 475.89 1041.68 478.21 1041.16 480.49 1040.62 482.74 1040.05 484.95 1039.46 487.12 1038.84 489.26 1038.19 491.35 1037.53 493.4 1036.84 495.41 1036.13 497.37 1035.39 499.29 1034.63 501.16 1033.86 502.98 1033.06 504.74 1032.24 506.46 1031.4 508.12 1030.55 509.73 1029.67 511.29 1028.78 512.78 1027.87 514.22 1026.94 515.6 1026 516.93 1025.05 518.19 1024.08 519.39 1023.1 520.53 1022.1 521.6 1021.09 522.62 1020.07 523.56 1019.05 524.45 1018.01 525.26 1016.96 526.02 1015.91 526.7 1014.84 527.32 1013.78 527.87 1012.7 528.36 1011.62 528.78 1010.54 529.13 1009.45 529.41 1008.36 529.62 1007.27 529.76 1006.18 529.84 1005.09 529.85 1004Z M527.55 1004 527.49 1005.03 527.37 1006.06 527.17 1007.08 526.92 1008.1 526.59 1009.12 526.21 1010.13 525.75 1011.14 525.23 1012.14 524.65 1013.13 524 1014.12 523.3 1015.1 522.52 1016.07 521.69 1017.03 520.79 1017.98 519.83 1018.92 518.82 1019.85 517.74 1020.77 516.6 1021.68 515.41 1022.57 514.16 1023.45 512.85 1024.32 511.49 1025.17 510.07 1026.01 508.6 1026.83 507.08 1027.64 505.51 1028.43 503.88 1029.2 502.21 1029.96 500.49 1030.7 498.72 1031.42 496.9 1032.12 495.04 1032.8 493.14 1033.47 491.19 1034.11 489.21 1034.73 487.18 1035.34 485.12 1035.92 483.02 1036.48 480.88 1037.01 478.71 1037.53 476.5 1038.02 474.27 1038.49 472.01 1038.94 469.71 1039.36 467.39 1039.76 465.05 1040.13 462.68 1040.48 460.29 1040.81 457.88 1041.11 455.45 1041.38 453 1041.63 450.54 1041.85 448.07 1042.05 445.58 1042.22 443.08 1042.37 440.58 1042.49 438.06 1042.58 435.55 1042.65 433.02 1042.69 430.5 1042.7 427.98 1042.69 425.45 1042.65 422.94 1042.58 420.42 1042.49 417.92 1042.37 415.42 1042.22 412.93 1042.05 410.46 1041.85 408 1041.63 405.55 1041.38 403.12 1041.11 400.71 1040.81 398.32 1040.48 395.95 1040.13 393.61 1039.76 391.29 1039.36 388.99 1038.94 386.73 1038.49 384.5 1038.02 382.29 1037.53 380.12 1037.01 377.98 1036.48 375.88 1035.92 373.82 1035.34 371.79 1034.73 369.81 1034.11 367.86 1033.47 365.96 1032.8 364.1 1032.12 362.28 1031.42 360.51 1030.7 358.79 1029.96 357.12 1029.2 355.49 1028.43 353.92 1027.64 352.4 1026.83 350.93 1026.01 349.51 1025.17 348.15 1024.32 346.84 1023.45 345.59 1022.57 344.4 1021.68 343.26 1020.77 342.18 1019.85 341.17 1018.92 340.21 1017.98 339.31 1017.03 338.48 1016.07 337.7 1015.1 337 1014.12 336.35 1013.13 335.77 1012.14 335.25 1011.14 334.79 1010.13 334.41 1009.12 334.08 1008.1 333.83 1007.08 333.63 1006.06 333.51 1005.03 333.45 1004 333.46 1002.97 333.53 1001.94 333.67 1000.91 333.88 999.88 334.15 998.85 334.5 997.82 334.9 996.8 335.38 995.78 335.91 994.76 336.52 993.75 337.19 992.75 337.92 991.75 338.72 990.76 339.58 989.78 340.51 988.81 341.5 987.84 342.55 986.89 343.66 985.95 344.83 985.02 346.07 984.1 347.36 983.2 348.71 982.31 350.11 981.43 351.57 980.57 353.09 979.73 354.66 978.9 356.29 978.09 357.97 977.3 359.69 976.52 361.47 975.77 363.29 975.03 365.17 974.32 367.08 973.62 369.04 972.95 371.05 972.3 373.09 971.67 375.18 971.06 377.3 970.47 379.46 969.91 381.66 969.37 383.89 968.86 386.15 968.37 388.44 967.9 390.76 967.46 393.11 967.05 395.49 966.66 397.89 966.3 400.31 965.96 402.75 965.65 405.21 965.36 407.69 965.11 410.19 964.87 412.7 964.67 415.22 964.49 417.75 964.34 420.29 964.22 422.83 964.12 425.39 964.05 427.94 964.01 430.5 964 433.06 964.01 435.61 964.05 438.17 964.12 440.71 964.22 443.25 964.34 445.78 964.49 448.3 964.67 450.81 964.87 453.31 965.11 455.79 965.36 458.25 965.65 460.69 965.96 463.11 966.3 465.51 966.66 467.89 967.05 470.24 967.46 472.56 967.9 474.85 968.37 477.11 968.86 479.34 969.37 481.54 969.91 483.7 970.47 485.82 971.06 487.91 971.67 489.95 972.3 491.96 972.95 493.92 973.62 495.83 974.32 497.71 975.03 499.53 975.77 501.31 976.52 503.03 977.3 504.71 978.09 506.34 978.9 507.91 979.73 509.43 980.57 510.89 981.43 512.29 982.31 513.64 983.2 514.93 984.1 516.17 985.02 517.34 985.95 518.45 986.89 519.5 987.84 520.49 988.81 521.42 989.78 522.28 990.76 523.08 991.75 523.81 992.75 524.48 993.75 525.09 994.76 525.62 995.78 526.1 996.8 526.5 997.82 526.85 998.85 527.12 999.88 527.33 1000.91 527.47 1001.94 527.54 1002.97 527.55 1004Z" fill="#000" fill-rule="evenodd"/>
<path d="M331.6 1042 331.61 1042.51 331.63 1043.02 331.67 1043.54 331.72 1044.05 331.79 1044.56 331.88 1045.07 331.98 1045.58 332.1 1046.09 332.23 1046.6 332.38 1047.11 332.54 1047.62 332.72 1048.13 332.92 1048.64 333.13 1049.15 333.36 1049.66 333.6 1050.16 333.86 1050.67 334.14 1051.17 334.43 1051.68 334.73 1052.18 335.06 1052.68 335.4 1053.18 335.75 1053.68 336.12 1054.18 336.51 1054.68 336.91 1055.17 337.33 1055.67 337.77 1056.16 338.22 1056.65 338.68 1057.14 339.16 1057.62 339.66 1058.11 340.18 1058.59 340.7 1059.07 341.25 1059.55 341.81 1060.03 342.38 1060.5 342.98 1060.97 343.58 1061.44 344.2 1061.9 344.84 1062.36 345.49 1062.82 346.16 1063.28 346.84 1063.73 347.54 1064.18 348.25 1064.62 348.98 1065.06 349.72 1065.5 350.47 1065.94 351.24 1066.37 352.03 1066.79 352.82 1067.21 353.63 1067.63 354.46 1068.05 355.3 1068.46 356.15 1068.86 357.02 1069.26 357.9 1069.66 358.79 1070.05 359.69 1070.43 360.61 1070.81 361.54 1071.19 362.49 1071.56 363.44 1071.93 364.41 1072.29 365.39 1072.64 366.38 1072.99 367.38 1073.34 368.39 1073.68 369.42 1074.01 370.45 1074.34 371.5 1074.66 372.56 1074.97 373.62 1075.28 374.7 1075.59 375.79 1075.88 376.89 1076.18 377.99 1076.46 379.11 1076.74 380.23 1077.01 381.37 1077.28 382.51 1077.54 383.66 1077.8 384.82 1078.04 385.99 1078.29 387.16 1078.52 388.35 1078.75 389.54 1078.97 390.74 1079.19 391.94 1079.4 393.15 1079.6 394.37 1079.79 395.59 1079.98 396.82 1080.16 398.06 1080.34 399.3 1080.51 400.55 1080.67 401.8 1080.83 403.06 1080.97 404.32 1081.12 405.59 1081.25 406.86 1081.38 408.13 1081.5 409.41 1081.61 410.69 1081.72 411.98 1081.82 413.27 1081.91 414.56 1082 415.85 1082.08 417.15 1082.15 418.45 1082.22 419.75 1082.28 421.05 1082.33 422.35 1082.38 423.66 1082.41 424.97 1082.44 426.27 1082.47 427.58 1082.49 428.89 1082.5 430.2 1082.5 431.51 1082.5 432.82 1082.49 434.13 1082.47 435.43 1082.44 436.74 1082.41 438.05 1082.38 439.35 1082.33 440.65 1082.28 441.95 1082.22 443.25 1082.15 444.55 1082.08 445.84 1082 447.13 1081.91 448.42 1081.82 449.71 1081.72 450.99 1081.61 452.27 1081.5 453.54 1081.38 454.81 1081.25 456.08 1081.12 457.34 1080.97 458.6 1080.83 459.85 1080.67 461.1 1080.51 462.34 1080.34 463.58 1080.16 464.81 1079.98 466.03 1079.79 467.25 1079.6 468.46 1079.4 469.66 1079.19 470.86 1078.97 472.05 1078.75 473.24 1078.52 474.41 1078.29 475.58 1078.04 476.74 1077.8 477.89 1077.54 479.03 1077.28 480.17 1077.01 481.29 1076.74 482.41 1076.46 483.51 1076.18 484.61 1075.88 485.7 1075.59 486.78 1075.28 487.84 1074.97 488.9 1074.66 489.95 1074.34 490.98 1074.01 492.01 1073.68 493.02 1073.34 494.02 1072.99 495.01 1072.64 495.99 1072.29 496.96 1071.93 497.91 1071.56 498.86 1071.19 499.79 1070.81 500.71 1070.43 501.61 1070.05 502.5 1069.66 503.38 1069.26 504.25 1068.86 505.1 1068.46 505.94 1068.05 506.77 1067.63 507.58 1067.21 508.37 1066.79 509.16 1066.37 509.93 1065.94 510.68 1065.5 511.42 1065.06 512.15 1064.62 512.86 1064.18 513.56 1063.73 514.24 1063.28 514.91 1062.82 515.56 1062.36 516.2 1061.9 516.82 1061.44 517.42 1060.97 518.02 1060.5 518.59 1060.03 519.15 1059.55 519.7 1059.07 520.22 1058.59 520.74 1058.11 521.24 1057.62 521.72 1057.14 522.18 1056.65 522.63 1056.16 523.07 1055.67 523.49 1055.17 523.89 1054.68 524.28 1054.18 524.65 1053.68 525 1053.18 525.34 1052.68 525.67 1052.18 525.97 1051.68 526.26 1051.17 526.54 1050.67 526.8 1050.16 527.04 1049.66 527.27 1049.15 527.48 1048.64 527.68 1048.13 527.86 1047.62 528.02 1047.11 528.17 1046.6 528.3 1046.09 528.42 1045.58 528.52 1045.07 528.61 1044.56 528.68 1044.05 528.73 1043.54 528.77 1043.02 528.79 1042.51 528.8 1042 L527.6 1042 527.59 1042.5 527.56 1042.99 527.52 1043.49 527.46 1043.98 527.37 1044.48 527.28 1044.97 527.16 1045.46 527.02 1045.96 526.87 1046.45 526.7 1046.94 526.51 1047.43 526.31 1047.91 526.09 1048.4 525.85 1048.88 525.59 1049.37 525.32 1049.85 525.03 1050.33 524.72 1050.8 524.4 1051.28 524.06 1051.75 523.7 1052.22 523.33 1052.69 522.94 1053.15 522.53 1053.61 522.11 1054.07 521.67 1054.53 521.22 1054.98 520.75 1055.44 520.26 1055.88 519.76 1056.33 519.25 1056.77 518.72 1057.21 518.17 1057.65 517.61 1058.08 517.04 1058.51 516.45 1058.93 515.84 1059.35 515.22 1059.77 514.59 1060.19 513.94 1060.6 513.28 1061.01 512.61 1061.41 511.92 1061.81 511.22 1062.21 510.51 1062.6 509.78 1062.99 509.04 1063.38 508.28 1063.76 507.52 1064.14 506.74 1064.51 505.95 1064.88 505.14 1065.24 504.33 1065.6 503.5 1065.96 502.66 1066.31 501.81 1066.66 500.95 1067.01 500.07 1067.35 499.18 1067.68 498.29 1068.01 497.38 1068.34 496.46 1068.66 495.53 1068.98 494.59 1069.3 493.64 1069.6 492.68 1069.91 491.71 1070.21 490.73 1070.5 489.74 1070.79 488.74 1071.08 487.73 1071.36 486.71 1071.64 485.68 1071.91 484.64 1072.18 483.59 1072.44 482.54 1072.69 481.47 1072.94 480.4 1073.19 479.32 1073.43 478.23 1073.67 477.14 1073.9 476.03 1074.13 474.92 1074.35 473.8 1074.56 472.68 1074.77 471.55 1074.98 470.41 1075.18 469.26 1075.37 468.11 1075.56 466.95 1075.74 465.78 1075.92 464.61 1076.09 463.43 1076.26 462.25 1076.42 461.06 1076.57 459.87 1076.72 458.67 1076.87 457.47 1077 456.26 1077.14 455.05 1077.26 453.83 1077.38 452.61 1077.49 451.39 1077.6 450.16 1077.7 448.93 1077.8 447.69 1077.89 446.46 1077.97 445.22 1078.05 443.98 1078.12 442.73 1078.19 441.48 1078.25 440.23 1078.3 438.98 1078.35 437.73 1078.39 436.48 1078.42 435.22 1078.45 433.97 1078.47 432.71 1078.49 431.46 1078.5 430.2 1078.5 428.94 1078.5 427.69 1078.49 426.43 1078.47 425.18 1078.45 423.92 1078.42 422.67 1078.39 421.42 1078.35 420.17 1078.3 418.92 1078.25 417.67 1078.19 416.42 1078.12 415.18 1078.05 413.94 1077.97 412.71 1077.89 411.47 1077.8 410.24 1077.7 409.01 1077.6 407.79 1077.49 406.57 1077.38 405.35 1077.26 404.14 1077.14 402.93 1077 401.73 1076.87 400.53 1076.72 399.34 1076.57 398.15 1076.42 396.97 1076.26 395.79 1076.09 394.62 1075.92 393.45 1075.74 392.29 1075.56 391.14 1075.37 389.99 1075.18 388.85 1074.98 387.72 1074.77 386.6 1074.56 385.48 1074.35 384.37 1074.13 383.26 1073.9 382.17 1073.67 381.08 1073.43 380 1073.19 378.93 1072.94 377.86 1072.69 376.81 1072.44 375.76 1072.18 374.72 1071.91 373.69 1071.64 372.67 1071.36 371.66 1071.08 370.66 1070.79 369.67 1070.5 368.69 1070.21 367.72 1069.91 366.76 1069.6 365.81 1069.3 364.87 1068.98 363.94 1068.66 363.02 1068.34 362.11 1068.01 361.22 1067.68 360.33 1067.35 359.45 1067.01 358.59 1066.66 357.74 1066.31 356.9 1065.96 356.07 1065.6 355.26 1065.24 354.45 1064.88 353.66 1064.51 352.88 1064.14 352.12 1063.76 351.36 1063.38 350.62 1062.99 349.89 1062.6 349.18 1062.21 348.48 1061.81 347.79 1061.41 347.12 1061.01 346.46 1060.6 345.81 1060.19 345.18 1059.77 344.56 1059.35 343.95 1058.93 343.36 1058.51 342.79 1058.08 342.23 1057.65 341.68 1057.21 341.15 1056.77 340.64 1056.33 340.14 1055.88 339.65 1055.44 339.18 1054.98 338.73 1054.53 338.29 1054.07 337.87 1053.61 337.46 1053.15 337.07 1052.69 336.7 1052.22 336.34 1051.75 336 1051.28 335.68 1050.8 335.37 1050.33 335.08 1049.85 334.81 1049.37 334.55 1048.88 334.31 1048.4 334.09 1047.91 333.89 1047.43 333.7 1046.94 333.53 1046.45 333.38 1045.96 333.24 1045.46 333.12 1044.97 333.03 1044.48 332.94 1043.98 332.88 1043.49 332.84 1042.99 332.81 1042.5 332.8 1042Z" fill="#000" fill-rule="evenodd"/>
<path d="M331.6 1004 331.57 1004.32 331.55 1004.63 331.52 1004.95 331.5 1005.27 331.47 1005.58 331.44 1005.9 331.42 1006.22 331.39 1006.53 331.37 1006.85 331.34 1007.17 331.32 1007.48 331.29 1007.8 331.27 1008.12 331.24 1008.43 331.22 1008.75 331.19 1009.07 331.17 1009.38 331.15 1009.7 331.12 1010.02 331.1 1010.33 331.08 1010.65 331.06 1010.97 331.03 1011.28 331.01 1011.6 330.99 1011.92 330.97 1012.23 330.95 1012.55 330.93 1012.87 330.91 1013.18 330.89 1013.5 330.87 1013.82 330.86 1014.13 330.84 1014.45 330.82 1014.77 330.81 1015.08 330.79 1015.4 330.78 1015.72 330.76 1016.03 330.75 1016.35 330.73 1016.67 330.72 1016.98 330.71 1017.3 330.7 1017.62 330.69 1017.93 330.68 1018.25 330.67 1018.57 330.66 1018.88 330.65 1019.2 330.64 1019.52 330.63 1019.83 330.63 1020.15 330.62 1020.47 330.62 1020.78 330.61 1021.1 330.61 1021.42 330.61 1021.73 330.6 1022.05 330.6 1022.37 330.6 1022.68 330.6 1023 330.6 1023.32 330.6 1023.63 330.6 1023.95 330.61 1024.27 330.61 1024.58 330.61 1024.9 330.62 1025.22 330.62 1025.53 330.63 1025.85 330.63 1026.17 330.64 1026.48 330.65 1026.8 330.66 1027.12 330.67 1027.43 330.68 1027.75 330.69 1028.07 330.7 1028.38 330.71 1028.7 330.72 1029.02 330.73 1029.33 330.75 1029.65 330.76 1029.97 330.78 1030.28 330.79 1030.6 330.81 1030.92 330.82 1031.23 330.84 1031.55 330.86 1031.87 330.87 1032.18 330.89 1032.5 330.91 1032.82 330.93 1033.13 330.95 1033.45 330.97 1033.77 330.99 1034.08 331.01 1034.4 331.03 1034.72 331.06 1035.03 331.08 1035.35 331.1 1035.67 331.12 1035.98 331.15 1036.3 331.17 1036.62 331.19 1036.93 331.22 1037.25 331.24 1037.57 331.27 1037.88 331.29 1038.2 331.32 1038.52 331.34 1038.83 331.37 1039.15 331.39 1039.47 331.42 1039.78 331.44 1040.1 331.47 1040.42 331.5 1040.73 331.52 1041.05 331.55 1041.37 331.57 1041.68 331.6 1042 L332.8 1042 332.83 1041.68 332.85 1041.37 332.88 1041.05 332.9 1040.73 332.93 1040.42 332.96 1040.1 332.98 1039.78 333.01 1039.47 333.03 1039.15 333.06 1038.83 333.08 1038.52 333.11 1038.2 333.13 1037.88 333.16 1037.57 333.18 1037.25 333.21 1036.93 333.23 1036.62 333.25 1036.3 333.28 1035.98 333.3 1035.67 333.32 1035.35 333.34 1035.03 333.37 1034.72 333.39 1034.4 333.41 1034.08 333.43 1033.77 333.45 1033.45 333.47 1033.13 333.49 1032.82 333.51 1032.5 333.53 1032.18 333.54 1031.87 333.56 1031.55 333.58 1031.23 333.59 1030.92 333.61 1030.6 333.62 1030.28 333.64 1029.97 333.65 1029.65 333.67 1029.33 333.68 1029.02 333.69 1028.7 333.7 1028.38 333.71 1028.07 333.72 1027.75 333.73 1027.43 333.74 1027.12 333.75 1026.8 333.76 1026.48 333.77 1026.17 333.77 1025.85 333.78 1025.53 333.78 1025.22 333.79 1024.9 333.79 1024.58 333.79 1024.27 333.8 1023.95 333.8 1023.63 333.8 1023.32 333.8 1023 333.8 1022.68 333.8 1022.37 333.8 1022.05 333.79 1021.73 333.79 1021.42 333.79 1021.1 333.78 1020.78 333.78 1020.47 333.77 1020.15 333.77 1019.83 333.76 1019.52 333.75 1019.2 333.74 1018.88 333.73 1018.57 333.72 1018.25 333.71 1017.93 333.7 1017.62 333.69 1017.3 333.68 1016.98 333.67 1016.67 333.65 1016.35 333.64 1016.03 333.62 1015.72 333.61 1015.4 333.59 1015.08 333.58 1014.77 333.56 1014.45 333.54 1014.13 333.53 1013.82 333.51 1013.5 333.49 1013.18 333.47 1012.87 333.45 1012.55 333.43 1012.23 333.41 1011.92 333.39 1011.6 333.37 1011.28 333.34 1010.97 333.32 1010.65 333.3 1010.33 333.28 1010.02 333.25 1009.7 333.23 1009.38 333.21 1009.07 333.18 1008.75 333.16 1008.43 333.13 1008.12 333.11 1007.8 333.08 1007.48 333.06 1007.17 333.03 1006.85 333.01 1006.53 332.98 1006.22 332.96 1005.9 332.93 1005.58 332.9 1005.27 332.88 1004.95 332.85 1004.63 332.83 1004.32 332.8 1004Z" fill="#000"/>
<path d="M528.1 1004 528.07 1004.32 528.05 1004.63 528.02 1004.95 528 1005.27 527.97 1005.58 527.94 1005.9 527.92 1006.22 527.89 1006.53 527.87 1006.85 527.84 1007.17 527.82 1007.48 527.79 1007.8 527.77 1008.12 527.74 1008.43 527.72 1008.75 527.69 1009.07 527.67 1009.38 527.65 1009.7 527.62 1010.02 527.6 1010.33 527.58 1010.65 527.56 1010.97 527.53 1011.28 527.51 1011.6 527.49 1011.92 527.47 1012.23 527.45 1012.55 527.43 1012.87 527.41 1013.18 527.39 1013.5 527.37 1013.82 527.36 1014.13 527.34 1014.45 527.32 1014.77 527.31 1015.08 527.29 1015.4 527.28 1015.72 527.26 1016.03 527.25 1016.35 527.23 1016.67 527.22 1016.98 527.21 1017.3 527.2 1017.62 527.19 1017.93 527.18 1018.25 527.17 1018.57 527.16 1018.88 527.15 1019.2 527.14 1019.52 527.13 1019.83 527.13 1020.15 527.12 1020.47 527.12 1020.78 527.11 1021.1 527.11 1021.42 527.11 1021.73 527.1 1022.05 527.1 1022.37 527.1 1022.68 527.1 1023 527.1 1023.32 527.1 1023.63 527.1 1023.95 527.11 1024.27 527.11 1024.58 527.11 1024.9 527.12 1025.22 527.12 1025.53 527.13 1025.85 527.13 1026.17 527.14 1026.48 527.15 1026.8 527.16 1027.12 527.17 1027.43 527.18 1027.75 527.19 1028.07 527.2 1028.38 527.21 1028.7 527.22 1029.02 527.23 1029.33 527.25 1029.65 527.26 1029.97 527.28 1030.28 527.29 1030.6 527.31 1030.92 527.32 1031.23 527.34 1031.55 527.36 1031.87 527.37 1032.18 527.39 1032.5 527.41 1032.82 527.43 1033.13 527.45 1033.45 527.47 1033.77 527.49 1034.08 527.51 1034.4 527.53 1034.72 527.56 1035.03 527.58 1035.35 527.6 1035.67 527.62 1035.98 527.65 1036.3 527.67 1036.62 527.69 1036.93 527.72 1037.25 527.74 1037.57 527.77 1037.88 527.79 1038.2 527.82 1038.52 527.84 1038.83 527.87 1039.15 527.89 1039.47 527.92 1039.78 527.94 1040.1 527.97 1040.42 528 1040.73 528.02 1041.05 528.05 1041.37 528.07 1041.68 528.1 1042 L529.3 1042 529.33 1041.68 529.35 1041.37 529.38 1041.05 529.4 1040.73 529.43 1040.42 529.46 1040.1 529.48 1039.78 529.51 1039.47 529.53 1039.15 529.56 1038.83 529.58 1038.52 529.61 1038.2 529.63 1037.88 529.66 1037.57 529.68 1037.25 529.71 1036.93 529.73 1036.62 529.75 1036.3 529.78 1035.98 529.8 1035.67 529.82 1035.35 529.84 1035.03 529.87 1034.72 529.89 1034.4 529.91 1034.08 529.93 1033.77 529.95 1033.45 529.97 1033.13 529.99 1032.82 530.01 1032.5 530.03 1032.18 530.04 1031.87 530.06 1031.55 530.08 1031.23 530.09 1030.92 530.11 1030.6 530.12 1030.28 530.14 1029.97 530.15 1029.65 530.17 1029.33 530.18 1029.02 530.19 1028.7 530.2 1028.38 530.21 1028.07 530.22 1027.75 530.23 1027.43 530.24 1027.12 530.25 1026.8 530.26 1026.48 530.27 1026.17 530.27 1025.85 530.28 1025.53 530.28 1025.22 530.29 1024.9 530.29 1024.58 530.29 1024.27 530.3 1023.95 530.3 1023.63 530.3 1023.32 530.3 1023 530.3 1022.68 530.3 1022.37 530.3 1022.05 530.29 1021.73 530.29 1021.42 530.29 1021.1 530.28 1020.78 530.28 1020.47 530.27 1020.15 530.27 1019.83 530.26 1019.52 530.25 1019.2 530.24 1018.88 530.23 1018.57 530.22 1018.25 530.21 1017.93 530.2 1017.62 530.19 1017.3 530.18 1016.98 530.17 1016.67 530.15 1016.35 530.14 1016.03 530.12 1015.72 530.11 1015.4 530.09 1015.08 530.08 1014.77 530.06 1014.45 530.04 1014.13 530.03 1013.82 530.01 1013.5 529.99 1013.18 529.97 1012.87 529.95 1012.55 529.93 1012.23 529.91 1011.92 529.89 1011.6 529.87 1011.28 529.84 1010.97 529.82 1010.65 529.8 1010.33 529.78 1010.02 529.75 1009.7 529.73 1009.38 529.71 1009.07 529.68 1008.75 529.66 1008.43 529.63 1008.12 529.61 1007.8 529.58 1007.48 529.56 1007.17 529.53 1006.85 529.51 1006.53 529.48 1006.22 529.46 1005.9 529.43 1005.58 529.4 1005.27 529.38 1004.95 529.35 1004.63 529.33 1004.32 529.3 1004Z" fill="#000"/>
<rect x="416" y="318" width="28.5" height="688" fill="#fff"/>
<path d="M414.1 318 414.12 321.44 414.14 324.88 414.16 328.32 414.18 331.76 414.2 335.2 414.22 338.64 414.24 342.08 414.26 345.52 414.28 348.96 414.3 352.4 414.33 355.84 414.35 359.28 414.37 362.72 414.4 366.16 414.42 369.6 414.45 373.04 414.48 376.48 414.5 379.92 414.53 383.36 414.56 386.8 414.58 390.24 414.61 393.68 414.64 397.12 414.66 400.56 414.69 404 414.72 407.44 414.74 410.88 414.77 414.32 414.8 417.76 414.78 421.2 414.75 424.64 414.72 428.08 414.7 431.52 414.67 434.96 414.64 438.4 414.62 441.84 414.59 445.28 414.56 448.72 414.54 452.16 414.51 455.6 414.48 459.04 414.46 462.48 414.43 465.92 414.4 469.36 414.39 472.8 414.37 476.24 414.36 479.68 414.34 483.12 414.32 486.56 414.31 490 414.29 493.44 414.28 496.88 414.26 500.32 414.25 503.76 414.23 507.2 414.22 510.64 414.2 514.08 414.18 517.52 414.17 520.96 414.15 524.4 414.14 527.84 414.12 531.28 414.11 534.72 414.09 538.16 414.07 541.6 414.06 545.04 414.04 548.48 414.03 551.92 414.01 555.36 414 558.8 413.98 562.24 413.97 565.68 413.95 569.12 413.93 572.56 413.92 576 413.9 579.44 413.9 582.88 413.9 586.32 413.9 589.76 413.9 593.2 413.9 596.64 413.9 600.08 413.9 603.52 413.9 606.96 413.9 610.4 413.9 613.84 413.9 617.28 413.9 620.72 413.9 624.16 413.9 627.6 413.9 631.04 413.9 634.48 413.9 637.92 413.9 641.36 413.9 644.8 413.9 648.24 413.9 651.68 413.9 655.12 413.9 658.56 413.9 662 413.9 665.44 413.9 668.88 413.9 672.32 413.9 675.76 413.9 679.2 413.9 682.64 413.9 686.08 413.9 689.52 413.9 692.96 413.9 696.4 413.9 699.84 413.9 703.28 413.9 706.72 413.9 710.16 413.9 713.6 413.9 717.04 413.9 720.48 413.9 723.92 413.9 727.36 413.9 730.8 413.9 734.24 413.9 737.68 413.9 741.12 413.9 744.56 413.9 748 413.9 751.44 413.9 754.88 413.9 758.32 413.9 761.76 413.9 765.2 413.9 768.64 413.9 772.08 413.9 775.52 413.9 778.96 413.9 782.4 413.9 785.84 413.9 789.28 413.9 792.72 413.9 796.16 413.9 799.6 413.9 803.04 413.9 806.48 413.9 809.92 413.9 813.36 413.9 816.8 413.9 820.24 413.9 823.68 413.9 827.12 413.9 830.56 413.9 834 413.9 837.44 413.9 840.88 413.9 844.32 413.9 847.76 413.9 851.2 413.9 854.64 413.9 858.08 413.9 861.52 413.9 864.96 413.9 868.4 413.9 871.84 413.9 875.28 413.9 878.72 413.9 882.16 413.9 885.6 413.9 889.04 413.9 892.48 413.9 895.92 413.9 899.36 413.9 902.8 413.9 906.24 413.9 909.68 413.9 913.12 413.9 916.56 413.9 920 413.9 923.44 413.9 926.88 413.9 930.32 413.9 933.76 413.9 937.2 413.91 940.64 413.98 944.08 414.05 947.52 414.12 950.96 414.19 954.4 414.26 957.84 414.33 961.28 414.39 964.72 414.46 968.16 414.53 971.6 414.6 975.04 414.66 978.48 414.71 981.92 414.77 985.36 414.82 988.8 414.88 992.24 414.93 995.68 414.99 999.12 415.04 1002.56 415.1 1006 L415.7 1006 415.76 1002.56 415.81 999.12 415.87 995.68 415.92 992.24 415.98 988.8 416.03 985.36 416.09 981.92 416.14 978.48 416.2 975.04 416.27 971.6 416.34 968.16 416.41 964.72 416.47 961.28 416.54 957.84 416.61 954.4 416.68 950.96 416.75 947.52 416.82 944.08 416.89 940.64 416.9 937.2 416.9 933.76 416.9 930.32 416.9 926.88 416.9 923.44 416.9 920 416.9 916.56 416.9 913.12 416.9 909.68 416.9 906.24 416.9 902.8 416.9 899.36 416.9 895.92 416.9 892.48 416.9 889.04 416.9 885.6 416.9 882.16 416.9 878.72 416.9 875.28 416.9 871.84 416.9 868.4 416.9 864.96 416.9 861.52 416.9 858.08 416.9 854.64 416.9 851.2 416.9 847.76 416.9 844.32 416.9 840.88 416.9 837.44 416.9 834 416.9 830.56 416.9 827.12 416.9 823.68 416.9 820.24 416.9 816.8 416.9 813.36 416.9 809.92 416.9 806.48 416.9 803.04 416.9 799.6 416.9 796.16 416.9 792.72 416.9 789.28 416.9 785.84 416.9 782.4 416.9 778.96 416.9 775.52 416.9 772.08 416.9 768.64 416.9 765.2 416.9 761.76 416.9 758.32 416.9 754.88 416.9 751.44 416.9 748 416.9 744.56 416.9 741.12 416.9 737.68 416.9 734.24 416.9 730.8 416.9 727.36 416.9 723.92 416.9 720.48 416.9 717.04 416.9 713.6 416.9 710.16 416.9 706.72 416.9 703.28 416.9 699.84 416.9 696.4 416.9 692.96 416.9 689.52 416.9 686.08 416.9 682.64 416.9 679.2 416.9 675.76 416.9 672.32 416.9 668.88 416.9 665.44 416.9 662 416.9 658.56 416.9 655.12 416.9 651.68 416.9 648.24 416.9 644.8 416.9 641.36 416.9 637.92 416.9 634.48 416.9 631.04 416.9 627.6 416.9 624.16 416.9 620.72 416.9 617.28 416.9 613.84 416.9 610.4 416.9 606.96 416.9 603.52 416.9 600.08 416.9 596.64 416.9 593.2 416.9 589.76 416.9 586.32 416.9 582.88 416.9 579.44 416.88 576 416.87 572.56 416.85 569.12 416.83 565.68 416.82 562.24 416.8 558.8 416.79 555.36 416.77 551.92 416.76 548.48 416.74 545.04 416.73 541.6 416.71 538.16 416.69 534.72 416.68 531.28 416.66 527.84 416.65 524.4 416.63 520.96 416.62 517.52 416.6 514.08 416.58 510.64 416.57 507.2 416.55 503.76 416.54 500.32 416.52 496.88 416.51 493.44 416.49 490 416.48 486.56 416.46 483.12 416.44 479.68 416.43 476.24 416.41 472.8 416.4 469.36 416.37 465.92 416.34 462.48 416.32 459.04 416.29 455.6 416.26 452.16 416.24 448.72 416.21 445.28 416.18 441.84 416.16 438.4 416.13 434.96 416.1 431.52 416.08 428.08 416.05 424.64 416.02 421.2 416 417.76 416.03 414.32 416.06 410.88 416.08 407.44 416.11 404 416.14 400.56 416.16 397.12 416.19 393.68 416.22 390.24 416.24 386.8 416.27 383.36 416.3 379.92 416.32 376.48 416.35 373.04 416.38 369.6 416.4 366.16 416.43 362.72 416.45 359.28 416.47 355.84 416.5 352.4 416.52 348.96 416.54 345.52 416.56 342.08 416.58 338.64 416.6 335.2 416.62 331.76 416.64 328.32 416.66 324.88 416.68 321.44 416.7 318Z" fill="#000"/>
<path d="M443.45 318 443.46 321.44 443.46 324.88 443.47 328.32 443.47 331.76 443.48 335.2 443.48 338.64 443.49 342.08 443.49 345.52 443.5 348.96 443.5 352.4 443.51 355.84 443.51 359.28 443.52 362.72 443.52 366.16 443.53 369.6 443.53 373.04 443.54 376.48 443.54 379.92 443.55 383.36 443.55 386.8 443.56 390.24 443.56 393.68 443.57 397.12 443.57 400.56 443.58 404 443.58 407.44 443.59 410.88 443.59 414.32 443.6 417.76 443.61 421.2 443.63 424.64 443.65 428.08 443.67 431.52 443.69 434.96 443.72 438.4 443.74 441.84 443.76 445.28 443.78 448.72 443.8 452.16 443.82 455.6 443.84 459.04 443.87 462.48 443.89 465.92 443.91 469.36 443.93 472.8 443.95 476.24 443.97 479.68 443.99 483.12 444.02 486.56 444.04 490 444.06 493.44 444.08 496.88 444.1 500.32 444.13 503.76 444.16 507.2 444.19 510.64 444.21 514.08 444.24 517.52 444.27 520.96 444.3 524.4 444.32 527.84 444.35 531.28 444.38 534.72 444.41 538.16 444.43 541.6 444.46 545.04 444.49 548.48 444.5 551.92 444.49 555.36 444.48 558.8 444.47 562.24 444.47 565.68 444.46 569.12 444.45 572.56 444.44 576 444.44 579.44 444.43 582.88 444.42 586.32 444.41 589.76 444.41 593.2 444.4 596.64 444.39 600.08 444.39 603.52 444.38 606.96 444.37 610.4 444.36 613.84 444.36 617.28 444.34 620.72 444.31 624.16 444.28 627.6 444.25 631.04 444.21 634.48 444.18 637.92 444.15 641.36 444.12 644.8 444.09 648.24 444.05 651.68 444.02 655.12 443.99 658.56 443.96 662 443.92 665.44 443.89 668.88 443.86 672.32 443.83 675.76 443.8 679.2 443.76 682.64 443.73 686.08 443.7 689.52 443.67 692.96 443.63 696.4 443.6 699.84 443.6 703.28 443.6 706.72 443.6 710.16 443.59 713.6 443.59 717.04 443.59 720.48 443.59 723.92 443.59 727.36 443.59 730.8 443.59 734.24 443.58 737.68 443.58 741.12 443.58 744.56 443.58 748 443.58 751.44 443.58 754.88 443.58 758.32 443.57 761.76 443.57 765.2 443.57 768.64 443.57 772.08 443.57 775.52 443.57 778.96 443.57 782.4 443.56 785.84 443.56 789.28 443.56 792.72 443.56 796.16 443.56 799.6 443.56 803.04 443.56 806.48 443.55 809.92 443.55 813.36 443.55 816.8 443.55 820.24 443.55 823.68 443.55 827.12 443.55 830.56 443.54 834 443.54 837.44 443.54 840.88 443.54 844.32 443.54 847.76 443.54 851.2 443.54 854.64 443.53 858.08 443.53 861.52 443.53 864.96 443.53 868.4 443.53 871.84 443.53 875.28 443.53 878.72 443.52 882.16 443.52 885.6 443.52 889.04 443.52 892.48 443.52 895.92 443.52 899.36 443.52 902.8 443.51 906.24 443.51 909.68 443.51 913.12 443.51 916.56 443.51 920 443.51 923.44 443.51 926.88 443.5 930.32 443.5 933.76 443.5 937.2 443.51 940.64 443.58 944.08 443.65 947.52 443.72 950.96 443.79 954.4 443.86 957.84 443.93 961.28 443.99 964.72 444.06 968.16 444.13 971.6 444.2 975.04 444.27 978.48 444.33 981.92 444.4 985.36 444.47 988.8 444.53 992.24 444.6 995.68 444.67 999.12 444.73 1002.56 444.8 1006 L445.4 1006 445.47 1002.56 445.53 999.12 445.6 995.68 445.67 992.24 445.73 988.8 445.8 985.36 445.87 981.92 445.93 978.48 446 975.04 446.07 971.6 446.14 968.16 446.21 964.72 446.27 961.28 446.34 957.84 446.41 954.4 446.48 950.96 446.55 947.52 446.62 944.08 446.69 940.64 446.7 937.2 446.7 933.76 446.7 930.32 446.69 926.88 446.69 923.44 446.69 920 446.69 916.56 446.69 913.12 446.69 909.68 446.69 906.24 446.68 902.8 446.68 899.36 446.68 895.92 446.68 892.48 446.68 889.04 446.68 885.6 446.68 882.16 446.67 878.72 446.67 875.28 446.67 871.84 446.67 868.4 446.67 864.96 446.67 861.52 446.67 858.08 446.66 854.64 446.66 851.2 446.66 847.76 446.66 844.32 446.66 840.88 446.66 837.44 446.66 834 446.65 830.56 446.65 827.12 446.65 823.68 446.65 820.24 446.65 816.8 446.65 813.36 446.65 809.92 446.64 806.48 446.64 803.04 446.64 799.6 446.64 796.16 446.64 792.72 446.64 789.28 446.64 785.84 446.63 782.4 446.63 778.96 446.63 775.52 446.63 772.08 446.63 768.64 446.63 765.2 446.63 761.76 446.62 758.32 446.62 754.88 446.62 751.44 446.62 748 446.62 744.56 446.62 741.12 446.62 737.68 446.61 734.24 446.61 730.8 446.61 727.36 446.61 723.92 446.61 720.48 446.61 717.04 446.61 713.6 446.6 710.16 446.6 706.72 446.6 703.28 446.6 699.84 446.57 696.4 446.53 692.96 446.5 689.52 446.47 686.08 446.44 682.64 446.41 679.2 446.37 675.76 446.34 672.32 446.31 668.88 446.28 665.44 446.24 662 446.21 658.56 446.18 655.12 446.15 651.68 446.11 648.24 446.08 644.8 446.05 641.36 446.02 637.92 445.99 634.48 445.95 631.04 445.92 627.6 445.89 624.16 445.86 620.72 445.84 617.28 445.84 613.84 445.83 610.4 445.82 606.96 445.81 603.52 445.81 600.08 445.8 596.64 445.79 593.2 445.79 589.76 445.78 586.32 445.77 582.88 445.76 579.44 445.76 576 445.75 572.56 445.74 569.12 445.73 565.68 445.73 562.24 445.72 558.8 445.71 555.36 445.7 551.92 445.71 548.48 445.74 545.04 445.77 541.6 445.79 538.16 445.82 534.72 445.85 531.28 445.88 527.84 445.9 524.4 445.93 520.96 445.96 517.52 445.99 514.08 446.01 510.64 446.04 507.2 446.07 503.76 446.1 500.32 446.12 496.88 446.14 493.44 446.16 490 446.18 486.56 446.21 483.12 446.23 479.68 446.25 476.24 446.27 472.8 446.29 469.36 446.31 465.92 446.33 462.48 446.36 459.04 446.38 455.6 446.4 452.16 446.42 448.72 446.44 445.28 446.46 441.84 446.49 438.4 446.51 434.96 446.53 431.52 446.55 428.08 446.57 424.64 446.59 421.2 446.6 417.76 446.61 414.32 446.61 410.88 446.62 407.44 446.62 404 446.63 400.56 446.63 397.12 446.64 393.68 446.64 390.24 446.65 386.8 446.65 383.36 446.66 379.92 446.66 376.48 446.67 373.04 446.67 369.6 446.68 366.16 446.68 362.72 446.69 359.28 446.69 355.84 446.7 352.4 446.7 348.96 446.71 345.52 446.71 342.08 446.72 338.64 446.72 335.2 446.73 331.76 446.73 328.32 446.74 324.88 446.74 321.44 446.75 318Z" fill="#000"/>
<path d="M415.5 326 L415.5 318.5 C415.5 314.5 422 313.4 430.4 313.4 C438.8 313.4 445.2 314.5 445.2 318.5 L445.2 326" fill="none" stroke="#000" stroke-width="2.7" stroke-linejoin="round"/>
<path d="M416.2 321.2 C419.5 319.2 425 318.4 430.4 318.4 C435.8 318.4 441.3 319.2 444.6 321.2" fill="none" stroke="#000" stroke-width="2.5"/>
<path d="M415.05 1004.5 415.05 1004.78 415.07 1005.06 415.11 1005.34 415.16 1005.63 415.24 1005.92 415.35 1006.22 415.48 1006.51 415.63 1006.81 415.8 1007.1 416 1007.4 416.22 1007.69 416.47 1007.98 416.73 1008.26 417.02 1008.55 417.34 1008.82 417.67 1009.09 418.02 1009.36 418.4 1009.62 418.79 1009.87 419.2 1010.12 419.63 1010.35 420.08 1010.58 420.55 1010.79 421.03 1011 421.52 1011.2 422.03 1011.39 422.55 1011.56 423.09 1011.73 423.64 1011.88 424.19 1012.02 424.76 1012.15 425.34 1012.26 425.92 1012.36 426.51 1012.45 427.11 1012.53 427.71 1012.59 428.32 1012.64 428.93 1012.67 429.54 1012.69 430.15 1012.7 430.76 1012.69 431.37 1012.67 431.98 1012.64 432.59 1012.59 433.19 1012.53 433.79 1012.45 434.38 1012.36 434.96 1012.26 435.54 1012.15 436.11 1012.02 436.66 1011.88 437.21 1011.73 437.75 1011.56 438.27 1011.39 438.78 1011.2 439.27 1011 439.75 1010.79 440.22 1010.58 440.67 1010.35 441.1 1010.12 441.51 1009.87 441.9 1009.62 442.28 1009.36 442.63 1009.09 442.96 1008.82 443.28 1008.55 443.57 1008.26 443.83 1007.98 444.08 1007.69 444.3 1007.4 444.5 1007.1 444.67 1006.81 444.82 1006.51 444.95 1006.22 445.06 1005.92 445.14 1005.63 445.19 1005.34 445.23 1005.06 445.25 1004.78 445.25 1004.5 L444.75 1004.5 444.73 1004.73 444.68 1004.96 444.6 1005.18 444.5 1005.4 444.37 1005.61 444.23 1005.82 444.06 1006.02 443.87 1006.21 443.67 1006.4 443.44 1006.58 443.19 1006.76 442.93 1006.92 442.65 1007.09 442.35 1007.25 442.03 1007.4 441.7 1007.55 441.35 1007.69 440.98 1007.82 440.6 1007.95 440.2 1008.08 439.79 1008.2 439.37 1008.31 438.93 1008.41 438.48 1008.51 438.02 1008.61 437.55 1008.7 437.07 1008.78 436.57 1008.86 436.07 1008.93 435.56 1008.99 435.04 1009.05 434.51 1009.1 433.98 1009.15 433.45 1009.19 432.9 1009.22 432.36 1009.25 431.81 1009.27 431.26 1009.29 430.7 1009.3 430.15 1009.3 429.6 1009.3 429.04 1009.29 428.49 1009.27 427.94 1009.25 427.4 1009.22 426.85 1009.19 426.32 1009.15 425.79 1009.1 425.26 1009.05 424.74 1008.99 424.23 1008.93 423.73 1008.86 423.23 1008.78 422.75 1008.7 422.28 1008.61 421.82 1008.51 421.37 1008.41 420.93 1008.31 420.51 1008.2 420.1 1008.08 419.7 1007.95 419.32 1007.82 418.95 1007.69 418.6 1007.55 418.27 1007.4 417.95 1007.25 417.65 1007.09 417.37 1006.92 417.11 1006.76 416.86 1006.58 416.63 1006.4 416.43 1006.21 416.24 1006.02 416.07 1005.82 415.93 1005.61 415.8 1005.4 415.7 1005.18 415.62 1004.96 415.57 1004.73 415.55 1004.5Z" fill="#000"/>
<path d="M407 411 L415.5 411 C418.5 411 419.8 414 419.8 418 C419.8 422 418.5 425.3 415.5 425.3 L407 425.3" fill="none" stroke="#000" stroke-width="2.2"/>
<path d="M455.5 543.2 L447 543.2 C444.5 543.2 443.2 546.5 443.2 551.8 C443.2 557 444.5 560.5 447 560.5 L455.5 560.5" fill="none" stroke="#000" stroke-width="2.2"/>
<line x1="277.3" y1="941.6" x2="277.3" y2="1068" stroke="#2a2a2a" stroke-width="1.2" stroke-linecap="butt"/>
<line x1="277.3" y1="941.6" x2="370.75" y2="941.6" stroke="#2a2a2a" stroke-width="1.2" stroke-linecap="butt"/>
<line x1="268.3" y1="1003.6" x2="330" y2="1003.6" stroke="#2a2a2a" stroke-width="1.2" stroke-linecap="butt"/>
<path d="M277.3 1003.6L273.1 981L281.5 981Z" fill="#000"/>
<path d="M277.3 1045L281.5 1067.6L273.1 1067.6Z" fill="#000"/>
<text x="291.4" y="933.7" font-size="36" font-weight="bold" textLength="36" lengthAdjust="spacingAndGlyphs" stroke="#fff" stroke-width="0.6" >25</text>
<text x="332.2" y="933.5" font-size="35" font-weight="normal" textLength="41" lengthAdjust="spacingAndGlyphs" stroke="#fff" stroke-width="0.25" >мм</text>
<line x1="332.4" y1="1043" x2="332.4" y2="1146" stroke="#2a2a2a" stroke-width="1.2" stroke-linecap="butt"/>
<line x1="527.6" y1="1043" x2="527.6" y2="1146" stroke="#2a2a2a" stroke-width="1.2" stroke-linecap="butt"/>
<line x1="332.4" y1="1138" x2="527.6" y2="1138" stroke="#2a2a2a" stroke-width="1.2" stroke-linecap="butt"/>
<path d="M332.4 1138L356 1133.8L356 1142.2Z" fill="#000"/>
<path d="M527.6 1138L504 1142.2L504 1133.8Z" fill="#000"/>
<text x="398.7" y="1126.2" font-size="35.6" font-weight="bold" textLength="35" lengthAdjust="spacingAndGlyphs" stroke="#fff" stroke-width="0.6" >40</text>
<path d="M392.8 1126 L392.8 1101.2 L389.2 1101.2 C388.5 1103.7 386.5 1105.4 383.5 1105.8 L383.5 1108.1 L389 1107.7 L389 1126 Z" fill="#000"/>
<text x="439" y="1126" font-size="35" font-weight="normal" textLength="40.4" lengthAdjust="spacingAndGlyphs" stroke="#fff" stroke-width="0.25" >мм</text>
<line x1="456.5" y1="838.7" x2="456.5" y2="963" stroke="#2a2a2a" stroke-width="1.2" stroke-linecap="butt"/>
<line x1="980" y1="840" x2="980" y2="942" stroke="#2a2a2a" stroke-width="1.2" stroke-linecap="butt"/>
<line x1="456.5" y1="846.7" x2="980" y2="846.7" stroke="#2a2a2a" stroke-width="1.2" stroke-linecap="butt"/>
<path d="M456.5 846.7L480 842.5L480 850.9Z" fill="#000"/>
<path d="M980 846.7L955 850.9L955 842.5Z" fill="#000"/>
<text x="706.3" y="830.5" font-size="35.6" font-weight="bold" textLength="24.4" lengthAdjust="spacingAndGlyphs" stroke="#fff" stroke-width="0.6" >.7</text>
<path d="M703.3 830.7 L703.3 805.9 L699.4 805.9 C698.7 808.4 696.7 810.1 693.7 810.5 L693.7 812.8 L699.2 812.4 L699.2 830.7 Z" fill="#000"/>
<text x="736.6" y="830.5" font-size="35" font-weight="normal" textLength="20.4" lengthAdjust="spacingAndGlyphs" stroke="#fff" stroke-width="0.25" >м</text>
<line x1="456.5" y1="904" x2="724" y2="904" stroke="#2a2a2a" stroke-width="1.2" stroke-linecap="butt"/>
<line x1="590.7" y1="894.7" x2="590.7" y2="958.7" stroke="#2a2a2a" stroke-width="1.2" stroke-linecap="butt"/>
<path d="M456.5 904L480 899.8L480 908.2Z" fill="#000"/>
<path d="M590.7 904L568 908.2L568 899.8Z" fill="#000"/>
<text x="615.2" y="897" font-size="35.6" font-weight="bold" textLength="52.8" lengthAdjust="spacingAndGlyphs" stroke="#fff" stroke-width="0.6" >200</text>
<text x="675" y="897" font-size="35" font-weight="normal" textLength="39.4" lengthAdjust="spacingAndGlyphs" stroke="#fff" stroke-width="0.25" >мм</text>
<path d="M456.09 963.44 456.95 963.27 457.81 963.1 458.69 962.93 459.58 962.75 460.48 962.58 461.39 962.4 462.31 962.22 463.23 962.03 464.17 961.85 465.12 961.66 466.08 961.48 467.04 961.29 468.02 961.1 469 960.9 469.99 960.71 470.99 960.52 472 960.32 473.02 960.12 474.04 959.92 475.08 959.72 476.12 959.52 477.17 959.32 478.22 959.11 479.29 958.91 480.36 958.7 481.43 958.49 482.52 958.29 483.61 958.08 484.7 957.87 485.81 957.66 486.92 957.45 488.03 957.23 489.15 957.02 490.28 956.81 491.41 956.59 492.55 956.38 493.7 956.16 494.85 955.95 496 955.73 497.16 955.52 498.32 955.3 499.49 955.08 500.66 954.87 501.84 954.65 503.02 954.43 504.2 954.21 505.39 953.99 506.58 953.78 507.77 953.56 508.97 953.34 510.17 953.12 511.38 952.9 512.58 952.69 513.79 952.47 515 952.25 516.22 952.04 517.43 951.82 518.65 951.6 519.87 951.39 521.09 951.17 522.32 950.96 523.54 950.74 524.77 950.53 525.99 950.32 527.22 950.11 528.45 949.9 529.68 949.69 530.91 949.48 532.14 949.27 533.37 949.06 534.6 948.85 535.83 948.65 537.06 948.44 538.29 948.24 539.52 948.03 540.75 947.83 541.97 947.63 543.2 947.43 544.42 947.24 545.65 947.04 546.87 946.85 548.09 946.65 549.31 946.46 550.52 946.27 551.74 946.08 552.95 945.89 554.16 945.71 555.36 945.52 556.57 945.34 557.77 945.16 558.97 944.98 560.16 944.81 561.35 944.63 562.54 944.46 563.72 944.29 564.9 944.12 566.08 943.95 567.25 943.79 568.42 943.62 569.58 943.46 570.74 943.31 571.89 943.15 573.04 943 574.18 942.85 575.32 942.7 576.45 942.55 577.58 942.41 578.7 942.27 579.81 942.13 580.92 941.99 582.02 941.86 583.12 941.73 584.21 941.6 585.29 941.48 586.37 941.36 587.44 941.24 588.5 941.12 589.55 941.01 590.6 940.9 591.64 940.79 L591.36 938.21 590.32 938.33 589.27 938.45 588.21 938.58 587.14 938.71 586.07 938.84 584.99 938.98 583.91 939.12 582.81 939.26 581.71 939.41 580.61 939.55 579.5 939.7 578.38 939.86 577.26 940.01 576.13 940.17 575 940.33 573.86 940.49 572.71 940.66 571.56 940.83 570.41 941 569.25 941.17 568.09 941.35 566.92 941.52 565.75 941.7 564.57 941.88 563.39 942.07 562.21 942.25 561.02 942.44 559.83 942.63 558.63 942.82 557.43 943.01 556.23 943.21 555.03 943.4 553.82 943.6 552.61 943.8 551.4 944 550.19 944.21 548.97 944.41 547.76 944.62 546.54 944.82 545.32 945.03 544.09 945.24 542.87 945.46 541.64 945.67 540.42 945.88 539.19 946.1 537.96 946.32 536.73 946.53 535.5 946.75 534.28 946.97 533.05 947.2 531.82 947.42 530.59 947.64 529.36 947.86 528.13 948.09 526.9 948.31 525.68 948.54 524.45 948.77 523.23 948.99 522 949.22 520.78 949.45 519.56 949.68 518.34 949.91 517.13 950.14 515.91 950.37 514.7 950.6 513.49 950.83 512.28 951.06 511.08 951.3 509.87 951.53 508.67 951.76 507.48 951.99 506.29 952.22 505.1 952.46 503.91 952.69 502.73 952.92 501.55 953.15 500.38 953.38 499.21 953.61 498.04 953.85 496.88 954.08 495.72 954.31 494.57 954.54 493.43 954.77 492.28 955 491.15 955.22 490.02 955.45 488.89 955.68 487.77 955.91 486.66 956.13 485.55 956.36 484.45 956.58 483.36 956.81 482.27 957.03 481.19 957.25 480.11 957.47 479.04 957.69 477.98 957.91 476.93 958.13 475.88 958.35 474.84 958.56 473.81 958.78 472.79 958.99 471.78 959.2 470.77 959.41 469.77 959.62 468.78 959.83 467.8 960.03 466.83 960.24 465.87 960.44 464.91 960.64 463.97 960.84 463.03 961.04 462.11 961.24 461.19 961.43 460.28 961.62 459.39 961.82 458.5 962 457.63 962.19 456.76 962.38 455.91 962.56Z" fill="#000"/>
<path d="M656.17 931.54 657.78 931.37 659.44 931.2 661.13 931.03 662.86 930.86 664.63 930.69 666.44 930.53 668.28 930.36 670.16 930.21 672.08 930.05 674.03 929.89 676.02 929.74 678.04 929.59 680.09 929.44 682.18 929.3 684.3 929.16 686.45 929.02 688.63 928.88 690.84 928.75 693.09 928.62 695.36 928.49 697.66 928.37 699.99 928.25 702.35 928.14 704.74 928.02 707.15 927.91 709.59 927.81 712.06 927.71 714.55 927.61 717.07 927.52 719.61 927.43 722.17 927.34 724.76 927.26 727.37 927.19 730 927.12 732.65 927.05 735.33 926.99 738.02 926.93 740.74 926.87 743.47 926.83 746.23 926.78 749 926.74 751.79 926.71 754.59 926.68 757.42 926.66 760.25 926.64 763.11 926.63 765.98 926.63 768.86 926.63 771.76 926.63 774.67 926.64 777.6 926.66 780.53 926.68 783.48 926.71 786.44 926.74 789.41 926.79 792.39 926.83 795.38 926.89 798.38 926.95 801.38 927.01 804.4 927.09 807.42 927.17 810.45 927.25 813.48 927.35 816.53 927.45 819.57 927.56 822.62 927.67 825.68 927.79 828.74 927.92 831.8 928.05 834.86 928.19 837.93 928.33 841 928.48 844.06 928.64 847.13 928.8 850.2 928.97 853.27 929.15 856.34 929.33 859.4 929.52 862.47 929.72 865.53 929.92 868.58 930.13 871.64 930.35 874.68 930.58 877.73 930.81 880.77 931.06 883.8 931.31 886.82 931.57 889.84 931.84 892.85 932.11 895.86 932.4 898.85 932.69 901.83 933 904.81 933.31 907.77 933.63 910.72 933.97 913.67 934.31 916.6 934.66 919.51 935.02 922.42 935.4 925.31 935.78 928.18 936.18 931.04 936.58 933.89 937 936.72 937.42 939.53 937.86 942.33 938.31 945.1 938.77 947.86 939.24 950.6 939.73 953.33 940.22 956.03 940.73 958.71 941.25 961.37 941.79 964.01 942.33 966.62 942.89 969.22 943.46 971.79 944.05 974.33 944.65 976.86 945.26 979.35 945.88 L979.65 944.72 977.14 944.09 974.62 943.47 972.06 942.86 969.49 942.26 966.89 941.67 964.27 941.1 961.63 940.53 958.97 939.97 956.29 939.42 953.58 938.88 950.86 938.35 948.12 937.83 945.36 937.32 942.58 936.81 939.78 936.32 936.97 935.84 934.14 935.37 931.3 934.91 928.44 934.45 925.56 934.01 922.67 933.58 919.77 933.15 916.85 932.74 913.92 932.33 910.98 931.94 908.02 931.55 905.06 931.18 902.08 930.81 899.09 930.45 896.1 930.1 893.09 929.77 890.08 929.44 887.06 929.12 884.03 928.81 880.99 928.51 877.95 928.22 874.91 927.93 871.85 927.66 868.79 927.4 865.73 927.15 862.67 926.9 859.6 926.67 856.53 926.44 853.46 926.23 850.38 926.02 847.31 925.82 844.23 925.63 841.16 925.45 838.08 925.28 835.01 925.12 831.94 924.97 828.87 924.83 825.8 924.7 822.74 924.57 819.68 924.46 816.63 924.35 813.58 924.25 810.54 924.16 807.51 924.07 804.48 923.99 801.46 923.91 798.44 923.85 795.44 923.79 792.44 923.73 789.45 923.69 786.48 923.64 783.51 923.61 780.56 923.58 777.62 923.56 774.69 923.54 771.77 923.53 768.87 923.53 765.98 923.53 763.1 923.53 760.24 923.54 757.39 923.56 754.57 923.58 751.75 923.61 748.96 923.65 746.18 923.68 743.42 923.73 740.68 923.78 737.96 923.83 735.26 923.89 732.58 923.95 729.92 924.02 727.28 924.09 724.67 924.16 722.07 924.25 719.5 924.33 716.96 924.42 714.43 924.51 711.94 924.61 709.46 924.71 707.02 924.82 704.6 924.93 702.2 925.04 699.84 925.16 697.5 925.27 695.19 925.4 692.91 925.52 690.66 925.65 688.44 925.79 686.25 925.92 684.09 926.06 681.97 926.21 679.87 926.35 677.81 926.5 675.78 926.65 673.79 926.8 671.83 926.96 669.9 927.12 668.02 927.28 666.16 927.44 664.35 927.6 662.57 927.77 660.83 927.94 659.12 928.11 657.46 928.28 655.83 928.46Z" fill="#000"/>
<path d="M597 927 C612 926 630 922 647 920.5 C654 920 657.5 925 657.5 931 C657.5 937 654 942 647 942 C630 942 612 945 600 946.5 C594 946.5 591 942 591 936.5 C591 931 592.5 927.3 597 927 Z" fill="#fff" stroke="#000" stroke-width="1.4"/>
<path d="M597.04 927.6 597.42 927.57 597.8 927.55 598.18 927.52 598.56 927.49 598.94 927.46 599.32 927.43 599.71 927.39 600.09 927.36 600.48 927.32 600.87 927.29 601.26 927.25 601.65 927.21 602.04 927.17 602.43 927.13 602.82 927.09 603.22 927.05 603.61 927.01 604.01 926.96 604.4 926.92 604.8 926.87 605.2 926.82 605.6 926.78 606 926.73 606.4 926.68 606.8 926.63 607.21 926.58 607.61 926.53 608.02 926.48 608.42 926.43 608.83 926.38 609.24 926.33 609.65 926.28 610.06 926.23 610.47 926.17 610.88 926.12 611.29 926.07 611.7 926.02 612.12 925.97 612.53 925.92 612.95 925.86 613.36 925.81 613.78 925.76 614.2 925.71 614.62 925.65 615.03 925.6 615.45 925.55 615.87 925.5 616.29 925.44 616.72 925.39 617.14 925.34 617.56 925.29 617.98 925.23 618.41 925.18 618.83 925.13 619.26 925.08 619.68 925.02 620.11 924.97 620.53 924.92 620.96 924.86 621.39 924.81 621.81 924.76 622.24 924.71 622.67 924.65 623.1 924.6 623.53 924.55 623.95 924.5 624.38 924.45 624.81 924.39 625.24 924.34 625.67 924.29 626.1 924.24 626.53 924.19 626.97 924.13 627.4 924.08 627.83 924.03 628.26 923.98 628.69 923.93 629.12 923.88 629.55 923.83 629.99 923.78 630.42 923.73 630.85 923.68 631.28 923.63 631.71 923.58 632.14 923.53 632.58 923.48 633.01 923.43 633.44 923.38 633.87 923.33 634.3 923.29 634.73 923.24 635.17 923.19 635.6 923.14 636.03 923.1 636.46 923.05 636.89 923 637.32 922.96 637.75 922.91 638.18 922.87 638.61 922.82 639.04 922.78 639.47 922.73 639.9 922.69 640.33 922.64 640.76 922.6 641.18 922.56 641.61 922.51 642.04 922.47 642.47 922.43 642.89 922.39 643.32 922.35 643.74 922.31 644.17 922.27 644.59 922.23 645.02 922.19 645.44 922.15 645.86 922.11 646.29 922.07 646.71 922.03 647.13 921.99 L646.87 919.01 646.44 919.04 646.01 919.08 645.58 919.13 645.15 919.17 644.72 919.21 644.29 919.26 643.86 919.31 643.43 919.36 643 919.41 642.57 919.46 642.14 919.51 641.71 919.57 641.28 919.62 640.85 919.68 640.42 919.74 639.98 919.8 639.55 919.86 639.12 919.92 638.69 919.98 638.26 920.04 637.83 920.11 637.4 920.17 636.97 920.24 636.53 920.31 636.1 920.38 635.67 920.45 635.24 920.52 634.81 920.59 634.38 920.66 633.95 920.73 633.52 920.8 633.08 920.87 632.65 920.95 632.22 921.02 631.79 921.1 631.36 921.17 630.93 921.25 630.5 921.33 630.07 921.4 629.64 921.48 629.22 921.56 628.79 921.64 628.36 921.71 627.93 921.79 627.5 921.87 627.07 921.95 626.64 922.03 626.22 922.11 625.79 922.19 625.36 922.27 624.94 922.35 624.51 922.43 624.09 922.51 623.66 922.59 623.23 922.67 622.81 922.75 622.39 922.83 621.96 922.91 621.54 922.98 621.11 923.06 620.69 923.14 620.27 923.22 619.85 923.3 619.43 923.38 619.01 923.45 618.59 923.53 618.17 923.61 617.75 923.68 617.33 923.76 616.91 923.83 616.49 923.91 616.07 923.98 615.66 924.05 615.24 924.13 614.83 924.2 614.41 924.27 614 924.34 613.58 924.41 613.17 924.48 612.76 924.54 612.34 924.61 611.93 924.68 611.52 924.74 611.11 924.81 610.7 924.87 610.3 924.93 609.89 924.99 609.48 925.05 609.08 925.11 608.67 925.17 608.27 925.23 607.86 925.28 607.46 925.33 607.06 925.39 606.65 925.44 606.25 925.49 605.85 925.54 605.46 925.59 605.06 925.63 604.66 925.68 604.27 925.73 603.87 925.77 603.48 925.81 603.09 925.86 602.69 925.9 602.3 925.94 601.91 925.98 601.53 926.02 601.14 926.06 600.75 926.09 600.37 926.13 599.99 926.16 599.6 926.2 599.22 926.23 598.84 926.26 598.46 926.29 598.09 926.32 597.71 926.35 597.33 926.38 596.96 926.4Z" fill="#000"/>
<path d="M647.11 922 647.26 921.99 647.42 921.98 647.57 921.98 647.72 921.97 647.87 921.97 648.01 921.98 648.16 921.98 648.3 921.98 648.45 921.99 648.59 922 648.72 922.01 648.86 922.02 649 922.04 649.13 922.06 649.26 922.07 649.39 922.09 649.52 922.11 649.65 922.14 649.77 922.16 649.9 922.19 650.02 922.22 650.14 922.25 650.26 922.28 650.38 922.31 650.49 922.34 650.61 922.38 650.72 922.42 650.83 922.46 650.94 922.5 651.05 922.54 651.16 922.58 651.26 922.62 651.37 922.67 651.47 922.72 651.57 922.77 651.67 922.82 651.77 922.87 651.87 922.92 651.96 922.97 652.06 923.03 652.15 923.08 652.24 923.14 652.33 923.2 652.42 923.26 652.51 923.32 652.6 923.38 652.68 923.45 652.77 923.51 652.85 923.58 652.93 923.65 653.01 923.71 653.09 923.78 653.17 923.85 653.25 923.93 653.32 924 653.4 924.07 653.47 924.15 653.55 924.23 653.62 924.31 653.69 924.38 653.76 924.47 653.83 924.55 653.89 924.63 653.96 924.71 654.02 924.8 654.09 924.89 654.15 924.97 654.21 925.06 654.27 925.15 654.33 925.24 654.39 925.33 654.45 925.43 654.5 925.52 654.56 925.62 654.61 925.71 654.66 925.81 654.71 925.91 654.77 926.01 654.81 926.11 654.86 926.21 654.91 926.31 654.96 926.42 655 926.52 655.04 926.63 655.09 926.73 655.13 926.84 655.17 926.95 655.21 927.06 655.24 927.17 655.28 927.28 655.31 927.39 655.35 927.51 655.38 927.62 655.41 927.74 655.44 927.85 655.47 927.97 655.5 928.09 655.53 928.21 655.55 928.33 655.58 928.45 655.6 928.57 655.62 928.69 655.64 928.81 655.66 928.94 655.68 929.06 655.7 929.19 655.71 929.31 655.73 929.44 655.74 929.56 655.75 929.69 655.76 929.82 655.77 929.95 655.78 930.08 655.79 930.21 655.79 930.34 655.8 930.47 655.8 930.6 655.8 930.73 655.8 930.87 655.8 931 L659.2 931 659.2 930.83 659.19 930.67 659.19 930.5 659.18 930.34 659.17 930.17 659.16 930.01 659.15 929.84 659.13 929.68 659.12 929.52 659.1 929.36 659.08 929.19 659.06 929.03 659.04 928.87 659.02 928.71 658.99 928.55 658.96 928.39 658.94 928.23 658.91 928.07 658.87 927.92 658.84 927.76 658.8 927.6 658.77 927.45 658.73 927.29 658.69 927.14 658.65 926.99 658.6 926.84 658.56 926.68 658.51 926.53 658.46 926.38 658.41 926.23 658.36 926.08 658.3 925.94 658.25 925.79 658.19 925.64 658.13 925.5 658.07 925.36 658 925.21 657.94 925.07 657.87 924.93 657.8 924.79 657.73 924.65 657.66 924.51 657.59 924.38 657.51 924.24 657.44 924.11 657.36 923.97 657.28 923.84 657.19 923.71 657.11 923.58 657.02 923.45 656.94 923.32 656.85 923.2 656.75 923.07 656.66 922.95 656.57 922.83 656.47 922.71 656.37 922.59 656.27 922.47 656.17 922.35 656.06 922.24 655.96 922.13 655.85 922.02 655.74 921.91 655.63 921.8 655.51 921.69 655.4 921.59 655.28 921.48 655.16 921.38 655.04 921.28 654.92 921.18 654.8 921.09 654.67 920.99 654.55 920.9 654.42 920.81 654.29 920.72 654.16 920.63 654.02 920.55 653.89 920.47 653.75 920.39 653.61 920.31 653.47 920.23 653.33 920.16 653.19 920.08 653.04 920.01 652.89 919.94 652.75 919.88 652.6 919.81 652.44 919.75 652.29 919.69 652.14 919.63 651.98 919.58 651.83 919.53 651.67 919.48 651.51 919.43 651.35 919.38 651.18 919.34 651.02 919.3 650.85 919.26 650.69 919.22 650.52 919.19 650.35 919.15 650.18 919.12 650.01 919.1 649.83 919.07 649.66 919.05 649.48 919.03 649.31 919.01 649.13 919 648.95 918.98 648.77 918.97 648.59 918.97 648.4 918.96 648.22 918.96 648.03 918.96 647.85 918.96 647.66 918.96 647.47 918.97 647.28 918.98 647.09 918.99 646.89 919Z" fill="#000"/>
<path d="M655.8 931 655.8 931.13 655.8 931.27 655.8 931.4 655.79 931.53 655.79 931.66 655.78 931.79 655.77 931.92 655.77 932.05 655.76 932.18 655.74 932.31 655.73 932.44 655.72 932.56 655.7 932.69 655.69 932.81 655.67 932.94 655.65 933.06 655.63 933.19 655.61 933.31 655.58 933.43 655.56 933.55 655.54 933.67 655.51 933.79 655.48 933.91 655.45 934.03 655.42 934.15 655.39 934.26 655.36 934.38 655.33 934.49 655.29 934.61 655.25 934.72 655.22 934.83 655.18 934.94 655.14 935.05 655.1 935.16 655.06 935.27 655.01 935.38 654.97 935.49 654.92 935.59 654.88 935.7 654.83 935.8 654.78 935.9 654.73 936.01 654.68 936.11 654.63 936.21 654.57 936.3 654.52 936.4 654.46 936.5 654.41 936.6 654.35 936.69 654.29 936.78 654.23 936.88 654.17 936.97 654.1 937.06 654.04 937.15 653.97 937.24 653.91 937.32 653.84 937.41 653.77 937.5 653.7 937.58 653.63 937.66 653.56 937.75 653.49 937.83 653.41 937.91 653.34 937.99 653.26 938.06 653.19 938.14 653.11 938.21 653.03 938.29 652.95 938.36 652.86 938.43 652.78 938.51 652.7 938.58 652.61 938.64 652.52 938.71 652.43 938.78 652.34 938.84 652.25 938.91 652.16 938.97 652.07 939.03 651.97 939.09 651.88 939.15 651.78 939.21 651.68 939.27 651.58 939.32 651.48 939.38 651.38 939.43 651.27 939.48 651.17 939.53 651.06 939.58 650.95 939.63 650.84 939.68 650.73 939.72 650.62 939.77 650.51 939.81 650.39 939.85 650.27 939.89 650.16 939.93 650.04 939.97 649.91 940.01 649.79 940.04 649.67 940.07 649.54 940.1 649.41 940.13 649.28 940.16 649.15 940.19 649.02 940.22 648.89 940.24 648.75 940.26 648.62 940.28 648.48 940.3 648.34 940.32 648.19 940.34 648.05 940.35 647.91 940.36 647.76 940.37 647.61 940.38 647.46 940.39 647.31 940.39 647.16 940.4 647 940.4 L647 943.6 647.19 943.6 647.39 943.6 647.58 943.59 647.77 943.58 647.95 943.58 648.14 943.56 648.33 943.55 648.51 943.53 648.7 943.51 648.88 943.49 649.06 943.47 649.24 943.45 649.42 943.42 649.59 943.39 649.77 943.36 649.94 943.32 650.11 943.29 650.29 943.25 650.46 943.21 650.62 943.16 650.79 943.12 650.96 943.07 651.12 943.02 651.29 942.97 651.45 942.92 651.61 942.86 651.77 942.8 651.92 942.74 652.08 942.68 652.23 942.62 652.39 942.55 652.54 942.48 652.69 942.41 652.84 942.34 652.98 942.27 653.13 942.19 653.27 942.12 653.41 942.04 653.55 941.95 653.69 941.87 653.83 941.78 653.97 941.7 654.1 941.61 654.23 941.52 654.36 941.43 654.49 941.33 654.62 941.23 654.74 941.14 654.87 941.04 654.99 940.94 655.11 940.83 655.23 940.73 655.35 940.62 655.46 940.51 655.58 940.41 655.69 940.29 655.8 940.18 655.91 940.07 656.01 939.95 656.12 939.84 656.22 939.72 656.32 939.6 656.42 939.48 656.52 939.36 656.61 939.23 656.71 939.11 656.8 938.98 656.89 938.85 656.98 938.73 657.07 938.6 657.15 938.46 657.23 938.33 657.32 938.2 657.4 938.06 657.47 937.93 657.55 937.79 657.62 937.66 657.7 937.52 657.77 937.38 657.84 937.24 657.9 937.09 657.97 936.95 658.03 936.81 658.1 936.66 658.16 936.52 658.22 936.37 658.27 936.23 658.33 936.08 658.38 935.93 658.43 935.78 658.48 935.63 658.53 935.48 658.58 935.33 658.62 935.17 658.67 935.02 658.71 934.87 658.75 934.71 658.78 934.56 658.82 934.4 658.86 934.24 658.89 934.09 658.92 933.93 658.95 933.77 658.98 933.61 659 933.45 659.03 933.29 659.05 933.13 659.07 932.97 659.09 932.81 659.11 932.65 659.13 932.48 659.14 932.32 659.15 932.16 659.17 931.99 659.18 931.83 659.18 931.66 659.19 931.5 659.2 931.33 659.2 931.17 659.2 931Z" fill="#000"/>
<path d="M647 940.4 646.57 940.4 646.14 940.4 645.71 940.41 645.28 940.41 644.85 940.42 644.42 940.42 643.98 940.43 643.55 940.44 643.12 940.45 642.69 940.46 642.26 940.47 641.83 940.49 641.39 940.5 640.96 940.52 640.53 940.53 640.1 940.55 639.66 940.57 639.23 940.59 638.8 940.61 638.37 940.63 637.94 940.65 637.5 940.68 637.07 940.7 636.64 940.73 636.21 940.75 635.78 940.78 635.35 940.81 634.92 940.84 634.49 940.87 634.06 940.9 633.63 940.93 633.2 940.96 632.77 940.99 632.34 941.03 631.92 941.06 631.49 941.09 631.06 941.13 630.64 941.17 630.21 941.21 629.78 941.25 629.36 941.29 628.94 941.33 628.51 941.37 628.09 941.42 627.67 941.46 627.25 941.51 626.83 941.56 626.41 941.61 625.99 941.66 625.58 941.71 625.16 941.76 624.75 941.82 624.33 941.87 623.92 941.93 623.51 941.98 623.1 942.04 622.69 942.1 622.28 942.16 621.87 942.22 621.46 942.28 621.06 942.34 620.65 942.4 620.25 942.46 619.85 942.52 619.45 942.58 619.05 942.65 618.65 942.71 618.25 942.77 617.85 942.84 617.46 942.9 617.07 942.97 616.68 943.03 616.29 943.1 615.9 943.16 615.51 943.23 615.12 943.29 614.74 943.36 614.36 943.43 613.97 943.49 613.6 943.56 613.22 943.62 612.84 943.69 612.47 943.76 612.09 943.82 611.72 943.89 611.35 943.95 610.98 944.02 610.61 944.08 610.25 944.15 609.89 944.21 609.53 944.27 609.17 944.34 608.81 944.4 608.45 944.46 608.1 944.52 607.75 944.59 607.4 944.65 607.05 944.71 606.7 944.77 606.36 944.82 606.01 944.88 605.67 944.94 605.33 945 605 945.05 604.66 945.11 604.33 945.16 604 945.21 603.67 945.27 603.35 945.32 603.02 945.37 602.7 945.42 602.38 945.46 602.07 945.51 601.75 945.56 601.44 945.6 601.13 945.65 600.82 945.69 600.52 945.73 600.21 945.77 599.91 945.81 L600.09 947.19 600.39 947.16 600.69 947.12 601 947.08 601.31 947.05 601.62 947.01 601.94 946.97 602.25 946.93 602.57 946.9 602.89 946.86 603.22 946.83 603.54 946.79 603.87 946.75 604.2 946.72 604.54 946.68 604.87 946.64 605.21 946.61 605.55 946.57 605.89 946.54 606.23 946.5 606.58 946.47 606.93 946.43 607.28 946.4 607.63 946.36 607.98 946.33 608.34 946.29 608.7 946.26 609.06 946.22 609.42 946.19 609.78 946.15 610.14 946.12 610.51 946.08 610.88 946.05 611.25 946.01 611.62 945.98 612 945.95 612.37 945.91 612.75 945.88 613.13 945.84 613.51 945.81 613.89 945.78 614.27 945.74 614.65 945.71 615.04 945.67 615.43 945.64 615.81 945.61 616.2 945.57 616.6 945.54 616.99 945.5 617.38 945.47 617.78 945.44 618.17 945.4 618.57 945.37 618.97 945.34 619.37 945.3 619.77 945.27 620.17 945.23 620.57 945.2 620.98 945.17 621.38 945.13 621.79 945.1 622.19 945.07 622.6 945.03 623.01 945 623.42 944.96 623.83 944.93 624.24 944.9 624.65 944.86 625.07 944.83 625.48 944.8 625.89 944.76 626.31 944.73 626.72 944.69 627.14 944.66 627.56 944.63 627.97 944.59 628.39 944.56 628.81 944.52 629.23 944.49 629.65 944.46 630.07 944.42 630.49 944.39 630.91 944.35 631.33 944.32 631.75 944.28 632.17 944.25 632.59 944.22 633.02 944.18 633.44 944.15 633.86 944.12 634.29 944.09 634.71 944.06 635.13 944.03 635.56 944 635.98 943.97 636.41 943.95 636.83 943.92 637.26 943.9 637.68 943.87 638.11 943.85 638.53 943.83 638.96 943.81 639.38 943.79 639.81 943.77 640.23 943.75 640.66 943.73 641.08 943.71 641.5 943.7 641.93 943.68 642.35 943.67 642.78 943.66 643.2 943.65 643.62 943.64 644.05 943.63 644.47 943.62 644.89 943.62 645.32 943.61 645.74 943.61 646.16 943.6 646.58 943.6 647 943.6Z" fill="#000"/>
<path d="M616 931.8 L632.5 929.4 C635.5 929 637 932.3 634.5 934 L616.5 937.5 C613 938 612.7 932.3 616 931.8 Z" fill="#fff" stroke="#000" stroke-width="1.3"/>
<path d="M614.28 938.07 614.42 938.04 614.57 938.01 614.72 937.98 614.87 937.94 615.02 937.91 615.18 937.88 615.33 937.85 615.48 937.82 615.64 937.79 615.79 937.76 615.95 937.73 616.11 937.69 616.26 937.66 616.42 937.63 616.58 937.6 616.74 937.57 616.9 937.54 617.06 937.51 617.23 937.48 617.39 937.45 617.55 937.42 617.72 937.39 617.88 937.36 618.05 937.33 618.21 937.3 618.38 937.27 618.55 937.24 618.71 937.21 618.88 937.18 619.05 937.15 619.22 937.12 619.39 937.09 619.56 937.06 619.73 937.04 619.9 937.01 620.08 936.98 620.25 936.95 620.42 936.92 620.6 936.89 620.77 936.86 620.94 936.83 621.12 936.8 621.29 936.77 621.47 936.74 621.65 936.72 621.82 936.69 622 936.66 622.18 936.63 622.35 936.6 622.53 936.57 622.71 936.54 622.89 936.51 623.07 936.48 623.25 936.46 623.43 936.43 623.61 936.4 623.79 936.37 623.97 936.34 624.15 936.31 624.33 936.28 624.51 936.26 624.69 936.23 624.87 936.2 625.05 936.17 625.24 936.14 625.42 936.11 625.6 936.08 625.78 936.05 625.97 936.03 626.15 936 626.33 935.97 626.51 935.94 626.7 935.91 626.88 935.88 627.06 935.85 627.25 935.82 627.43 935.79 627.61 935.76 627.8 935.74 627.98 935.71 628.17 935.68 628.35 935.65 628.53 935.62 628.72 935.59 628.9 935.56 629.08 935.53 629.27 935.5 629.45 935.47 629.63 935.44 629.82 935.41 630 935.38 630.18 935.35 630.37 935.32 630.55 935.29 630.73 935.26 630.92 935.23 631.1 935.2 631.28 935.17 631.46 935.14 631.65 935.11 631.83 935.08 632.01 935.05 632.19 935.02 632.37 934.99 632.55 934.96 632.73 934.92 632.92 934.89 633.1 934.86 633.28 934.83 633.46 934.8 633.64 934.77 633.81 934.74 633.99 934.7 634.17 934.67 634.35 934.64 634.53 934.61 634.71 934.58 634.88 934.54 635.06 934.51 635.24 934.48 L634.76 931.92 634.59 931.95 634.41 931.99 634.24 932.02 634.06 932.05 633.89 932.08 633.71 932.11 633.54 932.14 633.36 932.18 633.18 932.21 633.01 932.24 632.83 932.27 632.65 932.3 632.47 932.33 632.29 932.36 632.11 932.39 631.94 932.42 631.76 932.45 631.58 932.48 631.4 932.52 631.22 932.55 631.03 932.58 630.85 932.61 630.67 932.64 630.49 932.67 630.31 932.7 630.13 932.73 629.95 932.76 629.77 932.79 629.58 932.82 629.4 932.84 629.22 932.87 629.04 932.9 628.85 932.93 628.67 932.96 628.49 932.99 628.31 933.02 628.12 933.05 627.94 933.08 627.76 933.11 627.57 933.14 627.39 933.17 627.21 933.2 627.02 933.23 626.84 933.25 626.66 933.28 626.48 933.31 626.29 933.34 626.11 933.37 625.93 933.4 625.74 933.43 625.56 933.46 625.38 933.49 625.2 933.51 625.01 933.54 624.83 933.57 624.65 933.6 624.47 933.63 624.28 933.66 624.1 933.69 623.92 933.72 623.74 933.74 623.56 933.77 623.38 933.8 623.2 933.83 623.02 933.86 622.84 933.89 622.66 933.92 622.48 933.95 622.3 933.98 622.12 934 621.94 934.03 621.76 934.06 621.58 934.09 621.4 934.12 621.23 934.15 621.05 934.18 620.87 934.21 620.69 934.24 620.52 934.27 620.34 934.3 620.17 934.32 619.99 934.35 619.82 934.38 619.64 934.41 619.47 934.44 619.29 934.47 619.12 934.5 618.95 934.53 618.78 934.56 618.6 934.59 618.43 934.62 618.26 934.65 618.09 934.68 617.92 934.71 617.75 934.74 617.59 934.77 617.42 934.8 617.25 934.83 617.08 934.86 616.92 934.89 616.75 934.92 616.59 934.96 616.42 934.99 616.26 935.02 616.09 935.05 615.93 935.08 615.77 935.11 615.61 935.14 615.45 935.17 615.29 935.21 615.13 935.24 614.97 935.27 614.81 935.3 614.65 935.33 614.5 935.37 614.34 935.4 614.19 935.43 614.03 935.46 613.88 935.5 613.72 935.53Z" fill="#000"/>
<path d="M981.3 940 L993.3 943 C998 938 1003 935 1009 935 C1012 935 1015 936 1017 937 L1028 940.4 L1017.5 975.4 L1000.8 970 C996 968 991.5 962 990.4 954.2 L980.4 950.4 Z" fill="#fff" stroke="#000" stroke-width="2.9" stroke-linejoin="round"/>
<circle cx="1007.5" cy="953.3" r="3.6" fill="#000"/>
<line x1="1026.7" y1="949.6" x2="1041.2" y2="954.2" stroke="#000" stroke-width="4.2" stroke-linecap="round"/>
<line x1="1020.8" y1="966.7" x2="1036.2" y2="971.7" stroke="#000" stroke-width="4.2" stroke-linecap="round"/>
<text x="720.5" y="295" font-size="40.5" font-weight="normal" textLength="201.75" lengthAdjust="spacingAndGlyphs" stroke="#fff" stroke-width="0.5" >Вид сверху</text>
<path d="M910.4 449.5 910.37 447.2 910.28 444.9 910.13 442.6 909.92 440.31 909.65 438.03 909.32 435.75 908.93 433.48 908.48 431.22 907.97 428.98 907.4 426.75 906.78 424.54 906.1 422.34 905.36 420.16 904.56 418 903.71 415.86 902.8 413.75 901.84 411.66 900.82 409.59 899.75 407.56 898.62 405.55 897.45 403.57 896.22 401.63 894.94 399.71 893.61 397.83 892.24 395.99 890.81 394.18 889.34 392.41 887.82 390.68 886.26 388.99 884.65 387.35 883.01 385.74 881.32 384.18 879.59 382.66 877.82 381.19 876.01 379.76 874.17 378.39 872.29 377.06 870.37 375.78 868.43 374.55 866.45 373.38 864.44 372.25 862.41 371.18 860.34 370.16 858.25 369.2 856.14 368.29 854 367.44 851.84 366.64 849.66 365.9 847.46 365.22 845.25 364.6 843.02 364.03 840.78 363.52 838.52 363.07 836.25 362.68 833.97 362.35 831.69 362.08 829.4 361.87 827.1 361.72 824.8 361.63 822.5 361.6 820.2 361.63 817.9 361.72 815.6 361.87 813.31 362.08 811.03 362.35 808.75 362.68 806.48 363.07 804.22 363.52 801.98 364.03 799.75 364.6 797.54 365.22 795.34 365.9 793.16 366.64 791 367.44 788.86 368.29 786.75 369.2 784.66 370.16 782.59 371.18 780.56 372.25 778.55 373.38 776.57 374.55 774.63 375.78 772.71 377.06 770.83 378.39 768.99 379.76 767.18 381.19 765.41 382.66 763.68 384.18 761.99 385.74 760.35 387.35 758.74 388.99 757.18 390.68 755.66 392.41 754.19 394.18 752.76 395.99 751.39 397.83 750.06 399.71 748.78 401.63 747.55 403.57 746.38 405.55 745.25 407.56 744.18 409.59 743.16 411.66 742.2 413.75 741.29 415.86 740.44 418 739.64 420.16 738.9 422.34 738.22 424.54 737.6 426.75 737.03 428.98 736.52 431.22 736.07 433.48 735.68 435.75 735.35 438.03 735.08 440.31 734.87 442.6 734.72 444.9 734.63 447.2 734.6 449.5 734.63 451.8 734.72 454.1 734.87 456.4 735.08 458.69 735.35 460.97 735.68 463.25 736.07 465.52 736.52 467.78 737.03 470.02 737.6 472.25 738.22 474.46 738.9 476.66 739.64 478.84 740.44 481 741.29 483.14 742.2 485.25 743.16 487.34 744.18 489.41 745.25 491.44 746.38 493.45 747.55 495.43 748.78 497.37 750.06 499.29 751.39 501.17 752.76 503.01 754.19 504.82 755.66 506.59 757.18 508.32 758.74 510.01 760.35 511.65 761.99 513.26 763.68 514.82 765.41 516.34 767.18 517.81 768.99 519.24 770.83 520.61 772.71 521.94 774.63 523.22 776.57 524.45 778.55 525.62 780.56 526.75 782.59 527.82 784.66 528.84 786.75 529.8 788.86 530.71 791 531.56 793.16 532.36 795.34 533.1 797.54 533.78 799.75 534.4 801.98 534.97 804.22 535.48 806.48 535.93 808.75 536.32 811.03 536.65 813.31 536.92 815.6 537.13 817.9 537.28 820.2 537.37 822.5 537.4 824.8 537.37 827.1 537.28 829.4 537.13 831.69 536.92 833.97 536.65 836.25 536.32 838.52 535.93 840.78 535.48 843.02 534.97 845.25 534.4 847.46 533.78 849.66 533.1 851.84 532.36 854 531.56 856.14 530.71 858.25 529.8 860.34 528.84 862.41 527.82 864.44 526.75 866.45 525.62 868.43 524.45 870.37 523.22 872.29 521.94 874.17 520.61 876.01 519.24 877.82 517.81 879.59 516.34 881.32 514.82 883.01 513.26 884.65 511.65 886.26 510.01 887.82 508.32 889.34 506.59 890.81 504.82 892.24 503.01 893.61 501.17 894.94 499.29 896.22 497.37 897.45 495.43 898.62 493.45 899.75 491.44 900.82 489.41 901.84 487.34 902.8 485.25 903.71 483.14 904.56 481 905.36 478.84 906.1 476.66 906.78 474.46 907.4 472.25 907.97 470.02 908.48 467.78 908.93 465.52 909.32 463.25 909.65 460.97 909.92 458.69 910.13 456.4 910.28 454.1 910.37 451.8 910.4 449.5Z M907.6 449.5 907.57 451.73 907.48 453.95 907.34 456.18 907.13 458.4 906.87 460.61 906.55 462.81 906.17 465.01 905.74 467.19 905.25 469.37 904.7 471.53 904.1 473.67 903.43 475.8 902.72 477.91 901.95 480 901.12 482.07 900.24 484.11 899.31 486.14 898.32 488.13 897.29 490.11 896.2 492.05 895.06 493.96 893.87 495.85 892.63 497.7 891.35 499.52 890.01 501.31 888.64 503.06 887.21 504.77 885.74 506.44 884.23 508.08 882.67 509.67 881.08 511.23 879.44 512.74 877.77 514.21 876.06 515.64 874.31 517.01 872.52 518.35 870.7 519.63 868.85 520.87 866.96 522.06 865.05 523.2 863.11 524.29 861.13 525.32 859.14 526.31 857.11 527.24 855.07 528.12 853 528.95 850.91 529.72 848.8 530.43 846.67 531.1 844.53 531.7 842.37 532.25 840.19 532.74 838.01 533.17 835.81 533.55 833.61 533.87 831.4 534.13 829.18 534.34 826.95 534.48 824.73 534.57 822.5 534.6 820.27 534.57 818.05 534.48 815.82 534.34 813.6 534.13 811.39 533.87 809.19 533.55 806.99 533.17 804.81 532.74 802.63 532.25 800.47 531.7 798.33 531.1 796.2 530.43 794.09 529.72 792 528.95 789.93 528.12 787.89 527.24 785.86 526.31 783.87 525.32 781.89 524.29 779.95 523.2 778.04 522.06 776.15 520.87 774.3 519.63 772.48 518.35 770.69 517.01 768.94 515.64 767.23 514.21 765.56 512.74 763.92 511.23 762.33 509.67 760.77 508.08 759.26 506.44 757.79 504.77 756.36 503.06 754.99 501.31 753.65 499.52 752.37 497.7 751.13 495.85 749.94 493.96 748.8 492.05 747.71 490.11 746.68 488.13 745.69 486.14 744.76 484.11 743.88 482.07 743.05 480 742.28 477.91 741.57 475.8 740.9 473.67 740.3 471.53 739.75 469.37 739.26 467.19 738.83 465.01 738.45 462.81 738.13 460.61 737.87 458.4 737.66 456.18 737.52 453.95 737.43 451.73 737.4 449.5 737.43 447.27 737.52 445.05 737.66 442.82 737.87 440.6 738.13 438.39 738.45 436.19 738.83 433.99 739.26 431.81 739.75 429.63 740.3 427.47 740.9 425.33 741.57 423.2 742.28 421.09 743.05 419 743.88 416.93 744.76 414.89 745.69 412.86 746.68 410.87 747.71 408.89 748.8 406.95 749.94 405.04 751.13 403.15 752.37 401.3 753.65 399.48 754.99 397.69 756.36 395.94 757.79 394.23 759.26 392.56 760.77 390.92 762.33 389.33 763.92 387.77 765.56 386.26 767.23 384.79 768.94 383.36 770.69 381.99 772.48 380.65 774.3 379.37 776.15 378.13 778.04 376.94 779.95 375.8 781.89 374.71 783.87 373.68 785.86 372.69 787.89 371.76 789.93 370.88 792 370.05 794.09 369.28 796.2 368.57 798.33 367.9 800.47 367.3 802.63 366.75 804.81 366.26 806.99 365.83 809.19 365.45 811.39 365.13 813.6 364.87 815.82 364.66 818.05 364.52 820.27 364.43 822.5 364.4 824.73 364.43 826.95 364.52 829.18 364.66 831.4 364.87 833.61 365.13 835.81 365.45 838.01 365.83 840.19 366.26 842.37 366.75 844.53 367.3 846.67 367.9 848.8 368.57 850.91 369.28 853 370.05 855.07 370.88 857.11 371.76 859.14 372.69 861.13 373.68 863.11 374.71 865.05 375.8 866.96 376.94 868.85 378.13 870.7 379.37 872.52 380.65 874.31 381.99 876.06 383.36 877.77 384.79 879.44 386.26 881.08 387.77 882.67 389.33 884.23 390.92 885.74 392.56 887.21 394.23 888.64 395.94 890.01 397.69 891.35 399.48 892.63 401.3 893.87 403.15 895.06 405.04 896.2 406.95 897.29 408.89 898.32 410.87 899.31 412.86 900.24 414.89 901.12 416.93 901.95 419 902.72 421.09 903.43 423.2 904.1 425.33 904.7 427.47 905.25 429.63 905.74 431.81 906.17 433.99 906.55 436.19 906.87 438.39 907.13 440.6 907.34 442.82 907.48 445.05 907.57 447.27 907.6 449.5Z" fill="#000" fill-rule="evenodd"/>
<ellipse cx="722.5" cy="450" rx="69" ry="69" fill="#fff"/>
<path d="M791.73 450 791.7 448.19 791.63 446.38 791.51 444.57 791.35 442.76 791.13 440.96 790.87 439.17 790.57 437.38 790.21 435.61 789.81 433.84 789.37 432.08 788.87 430.34 788.34 428.61 787.76 426.89 787.14 425.19 786.49 423.49 785.8 421.82 785.07 420.15 784.31 418.51 783.5 416.88 782.66 415.27 781.78 413.67 780.86 412.1 779.9 410.55 778.89 409.03 777.85 407.53 776.77 406.05 775.65 404.6 774.5 403.18 773.3 401.79 772.06 400.44 770.79 399.11 769.48 397.83 768.13 396.57 766.74 395.36 765.32 394.19 763.87 393.06 762.38 391.97 760.86 390.93 759.31 389.94 757.73 388.99 756.12 388.09 754.48 387.23 752.83 386.41 751.15 385.64 749.46 384.91 747.75 384.23 746.02 383.59 744.27 383 742.51 382.45 740.73 381.95 738.95 381.5 737.15 381.09 735.34 380.73 733.52 380.42 731.7 380.15 729.86 379.94 728.03 379.77 726.19 379.65 724.34 379.57 722.5 379.55 720.66 379.57 718.81 379.65 716.97 379.77 715.14 379.94 713.3 380.15 711.48 380.42 709.66 380.73 707.85 381.09 706.05 381.5 704.27 381.95 702.49 382.45 700.73 383 698.98 383.59 697.25 384.23 695.54 384.91 693.85 385.64 692.17 386.41 690.52 387.23 688.88 388.09 687.27 388.99 685.69 389.93 684.13 390.92 682.6 391.94 681.09 393 679.61 394.11 678.16 395.25 676.75 396.43 675.36 397.65 674.01 398.9 672.68 400.18 671.4 401.51 670.15 402.86 668.93 404.25 667.75 405.66 666.61 407.11 665.5 408.59 664.44 410.1 663.42 411.63 662.43 413.19 661.49 414.77 660.59 416.38 659.73 418.02 658.91 419.67 658.14 421.35 657.41 423.04 656.73 424.75 656.09 426.48 655.5 428.23 654.95 429.99 654.45 431.77 654 433.55 653.59 435.35 653.23 437.16 652.92 438.98 652.65 440.8 652.44 442.64 652.27 444.47 652.15 446.31 652.07 448.16 652.05 450 652.07 451.84 652.15 453.69 652.27 455.53 652.44 457.36 652.65 459.2 652.92 461.02 653.23 462.84 653.59 464.65 654 466.45 654.45 468.23 654.95 470.01 655.5 471.77 656.09 473.52 656.73 475.25 657.41 476.96 658.14 478.65 658.91 480.33 659.73 481.98 660.59 483.62 661.49 485.23 662.43 486.81 663.42 488.37 664.44 489.9 665.5 491.41 666.61 492.89 667.75 494.34 668.93 495.75 670.15 497.14 671.4 498.49 672.68 499.82 674.01 501.1 675.36 502.35 676.75 503.57 678.16 504.75 679.61 505.89 681.09 507 682.6 508.06 684.13 509.08 685.69 510.07 687.27 511.01 688.88 511.91 690.52 512.77 692.17 513.59 693.85 514.36 695.54 515.09 697.25 515.77 698.98 516.41 700.73 517 702.49 517.55 704.27 518.05 706.05 518.5 707.85 518.91 709.66 519.27 711.48 519.58 713.3 519.85 715.14 520.06 716.97 520.23 718.81 520.35 720.66 520.43 722.5 520.45 724.34 520.43 726.19 520.35 728.03 520.23 729.86 520.06 731.7 519.85 733.52 519.58 735.34 519.27 737.15 518.91 738.95 518.5 740.73 518.05 742.51 517.55 744.27 517 746.02 516.41 747.75 515.77 749.46 515.09 751.15 514.36 752.83 513.59 754.48 512.77 756.12 511.91 757.73 511.01 759.31 510.06 760.86 509.07 762.38 508.03 763.87 506.94 765.32 505.81 766.74 504.64 768.13 503.43 769.48 502.17 770.79 500.89 772.06 499.56 773.3 498.21 774.5 496.82 775.65 495.4 776.77 493.95 777.85 492.47 778.89 490.97 779.9 489.45 780.86 487.9 781.78 486.33 782.66 484.73 783.5 483.12 784.31 481.49 785.07 479.85 785.8 478.18 786.49 476.51 787.14 474.81 787.76 473.11 788.34 471.39 788.87 469.66 789.37 467.92 789.81 466.16 790.21 464.39 790.57 462.62 790.87 460.83 791.13 459.04 791.35 457.24 791.51 455.43 791.63 453.62 791.7 451.81 791.73 450Z M791.27 450 791.25 451.8 791.18 453.6 791.06 455.4 790.9 457.19 790.69 458.98 790.43 460.76 790.12 462.53 789.77 464.3 789.37 466.06 788.93 467.8 788.44 469.53 787.91 471.25 787.33 472.96 786.69 474.64 786 476.3 785.27 477.95 784.48 479.56 783.65 481.16 782.77 482.73 781.85 484.27 780.89 485.78 779.88 487.26 778.83 488.72 777.75 490.14 776.63 491.53 775.47 492.9 774.28 494.23 773.06 495.52 771.8 496.79 770.52 498.02 769.2 499.22 767.86 500.38 766.49 501.51 765.1 502.61 763.68 503.67 762.24 504.7 760.78 505.7 759.3 506.67 757.8 507.6 756.27 508.5 754.73 509.36 753.17 510.19 751.58 510.97 749.98 511.71 748.35 512.41 746.71 513.06 745.05 513.68 743.37 514.24 741.69 514.77 739.98 515.25 738.27 515.68 736.54 516.07 734.81 516.42 733.07 516.72 731.32 516.97 729.56 517.18 727.8 517.34 726.04 517.46 724.27 517.53 722.5 517.55 720.73 517.53 718.96 517.46 717.2 517.34 715.44 517.18 713.68 516.97 711.93 516.72 710.19 516.42 708.46 516.07 706.73 515.68 705.02 515.25 703.31 514.77 701.63 514.24 699.95 513.68 698.29 513.06 696.65 512.41 695.02 511.71 693.42 510.97 691.83 510.19 690.27 509.36 688.73 508.5 687.21 507.6 685.71 506.65 684.24 505.67 682.8 504.65 681.38 503.59 679.99 502.5 678.63 501.37 677.3 500.2 676 499 674.73 497.77 673.5 496.5 672.3 495.2 671.13 493.87 670 492.51 668.91 491.12 667.85 489.7 666.83 488.26 665.85 486.79 664.9 485.29 664 483.77 663.14 482.23 662.31 480.67 661.53 479.08 660.79 477.48 660.09 475.85 659.44 474.21 658.82 472.55 658.26 470.87 657.73 469.19 657.25 467.48 656.82 465.77 656.43 464.04 656.08 462.31 655.78 460.57 655.53 458.82 655.32 457.06 655.16 455.3 655.04 453.54 654.97 451.77 654.95 450 654.97 448.23 655.04 446.46 655.16 444.7 655.32 442.94 655.53 441.18 655.78 439.43 656.08 437.69 656.43 435.96 656.82 434.23 657.25 432.52 657.73 430.81 658.26 429.13 658.82 427.45 659.44 425.79 660.09 424.15 660.79 422.52 661.53 420.92 662.31 419.33 663.14 417.77 664 416.23 664.9 414.71 665.85 413.21 666.83 411.74 667.85 410.3 668.91 408.88 670 407.49 671.13 406.13 672.3 404.8 673.5 403.5 674.73 402.23 676 401 677.3 399.8 678.63 398.63 679.99 397.5 681.38 396.41 682.8 395.35 684.24 394.33 685.71 393.35 687.21 392.4 688.73 391.5 690.27 390.64 691.83 389.81 693.42 389.03 695.02 388.29 696.65 387.59 698.29 386.94 699.95 386.32 701.63 385.76 703.31 385.23 705.02 384.75 706.73 384.32 708.46 383.93 710.19 383.58 711.93 383.28 713.68 383.03 715.44 382.82 717.2 382.66 718.96 382.54 720.73 382.47 722.5 382.45 724.27 382.47 726.04 382.54 727.8 382.66 729.56 382.82 731.32 383.03 733.07 383.28 734.81 383.58 736.54 383.93 738.27 384.32 739.98 384.75 741.69 385.23 743.37 385.76 745.05 386.32 746.71 386.94 748.35 387.59 749.98 388.29 751.58 389.03 753.17 389.81 754.73 390.64 756.27 391.5 757.8 392.4 759.3 393.33 760.78 394.3 762.24 395.3 763.68 396.33 765.1 397.39 766.49 398.49 767.86 399.62 769.2 400.78 770.52 401.98 771.8 403.21 773.06 404.48 774.28 405.77 775.47 407.1 776.63 408.47 777.75 409.86 778.83 411.28 779.88 412.74 780.89 414.22 781.85 415.73 782.77 417.27 783.65 418.84 784.48 420.44 785.27 422.05 786 423.7 786.69 425.36 787.33 427.04 787.91 428.75 788.44 430.47 788.93 432.2 789.37 433.94 789.77 435.7 790.12 437.47 790.43 439.24 790.69 441.02 790.9 442.81 791.06 444.6 791.18 446.4 791.25 448.2 791.27 450Z" fill="#000" fill-rule="evenodd"/>
<ellipse cx="922.5" cy="450" rx="69" ry="69" fill="#fff"/>
<path d="M992.95 450 992.93 448.16 992.85 446.31 992.73 444.47 992.56 442.64 992.35 440.8 992.08 438.98 991.77 437.16 991.41 435.35 991 433.55 990.55 431.77 990.05 429.99 989.5 428.23 988.91 426.48 988.27 424.75 987.59 423.04 986.86 421.35 986.09 419.67 985.27 418.02 984.41 416.38 983.51 414.77 982.57 413.19 981.58 411.63 980.56 410.1 979.5 408.59 978.39 407.11 977.25 405.66 976.07 404.25 974.85 402.86 973.6 401.51 972.32 400.18 970.99 398.9 969.64 397.65 968.25 396.43 966.84 395.25 965.39 394.11 963.91 393 962.4 391.94 960.87 390.92 959.31 389.93 957.73 388.99 956.12 388.09 954.48 387.23 952.83 386.41 951.15 385.64 949.46 384.91 947.75 384.23 946.02 383.59 944.27 383 942.51 382.45 940.73 381.95 938.95 381.5 937.15 381.09 935.34 380.73 933.52 380.42 931.7 380.15 929.86 379.94 928.03 379.77 926.19 379.65 924.34 379.57 922.5 379.55 920.66 379.57 918.81 379.65 916.97 379.77 915.14 379.94 913.3 380.15 911.48 380.42 909.66 380.73 907.85 381.09 906.05 381.5 904.27 381.95 902.49 382.45 900.73 383 898.98 383.59 897.25 384.23 895.54 384.91 893.85 385.64 892.17 386.41 890.52 387.23 888.88 388.09 887.27 388.99 885.69 389.94 884.14 390.93 882.62 391.97 881.13 393.06 879.68 394.19 878.26 395.36 876.87 396.57 875.52 397.83 874.21 399.11 872.94 400.44 871.7 401.79 870.5 403.18 869.35 404.6 868.23 406.05 867.15 407.53 866.11 409.03 865.1 410.55 864.14 412.1 863.22 413.67 862.34 415.27 861.5 416.88 860.69 418.51 859.93 420.15 859.2 421.82 858.51 423.49 857.86 425.19 857.24 426.89 856.66 428.61 856.13 430.34 855.63 432.08 855.19 433.84 854.79 435.61 854.43 437.38 854.13 439.17 853.87 440.96 853.65 442.76 853.49 444.57 853.37 446.38 853.3 448.19 853.27 450 853.3 451.81 853.37 453.62 853.49 455.43 853.65 457.24 853.87 459.04 854.13 460.83 854.43 462.62 854.79 464.39 855.19 466.16 855.63 467.92 856.13 469.66 856.66 471.39 857.24 473.11 857.86 474.81 858.51 476.51 859.2 478.18 859.93 479.85 860.69 481.49 861.5 483.12 862.34 484.73 863.22 486.33 864.14 487.9 865.1 489.45 866.11 490.97 867.15 492.47 868.23 493.95 869.35 495.4 870.5 496.82 871.7 498.21 872.94 499.56 874.21 500.89 875.52 502.17 876.87 503.43 878.26 504.64 879.68 505.81 881.13 506.94 882.62 508.03 884.14 509.07 885.69 510.06 887.27 511.01 888.88 511.91 890.52 512.77 892.17 513.59 893.85 514.36 895.54 515.09 897.25 515.77 898.98 516.41 900.73 517 902.49 517.55 904.27 518.05 906.05 518.5 907.85 518.91 909.66 519.27 911.48 519.58 913.3 519.85 915.14 520.06 916.97 520.23 918.81 520.35 920.66 520.43 922.5 520.45 924.34 520.43 926.19 520.35 928.03 520.23 929.86 520.06 931.7 519.85 933.52 519.58 935.34 519.27 937.15 518.91 938.95 518.5 940.73 518.05 942.51 517.55 944.27 517 946.02 516.41 947.75 515.77 949.46 515.09 951.15 514.36 952.83 513.59 954.48 512.77 956.12 511.91 957.73 511.01 959.31 510.07 960.87 509.08 962.4 508.06 963.91 507 965.39 505.89 966.84 504.75 968.25 503.57 969.64 502.35 970.99 501.1 972.32 499.82 973.6 498.49 974.85 497.14 976.07 495.75 977.25 494.34 978.39 492.89 979.5 491.41 980.56 489.9 981.58 488.37 982.57 486.81 983.51 485.23 984.41 483.62 985.27 481.98 986.09 480.33 986.86 478.65 987.59 476.96 988.27 475.25 988.91 473.52 989.5 471.77 990.05 470.01 990.55 468.23 991 466.45 991.41 464.65 991.77 462.84 992.08 461.02 992.35 459.2 992.56 457.36 992.73 455.53 992.85 453.69 992.93 451.84 992.95 450Z M990.05 450 990.03 451.77 989.96 453.54 989.84 455.3 989.68 457.06 989.47 458.82 989.22 460.57 988.92 462.31 988.57 464.04 988.18 465.77 987.75 467.48 987.27 469.19 986.74 470.87 986.18 472.55 985.56 474.21 984.91 475.85 984.21 477.48 983.47 479.08 982.69 480.67 981.86 482.23 981 483.78 980.1 485.29 979.15 486.79 978.17 488.26 977.15 489.7 976.09 491.12 975 492.51 973.87 493.87 972.7 495.2 971.5 496.5 970.27 497.77 969 499 967.7 500.2 966.37 501.37 965.01 502.5 963.62 503.59 962.2 504.65 960.76 505.67 959.29 506.65 957.79 507.6 956.27 508.5 954.73 509.36 953.17 510.19 951.58 510.97 949.98 511.71 948.35 512.41 946.71 513.06 945.05 513.68 943.37 514.24 941.69 514.77 939.98 515.25 938.27 515.68 936.54 516.07 934.81 516.42 933.07 516.72 931.32 516.97 929.56 517.18 927.8 517.34 926.04 517.46 924.27 517.53 922.5 517.55 920.73 517.53 918.96 517.46 917.2 517.34 915.44 517.18 913.68 516.97 911.93 516.72 910.19 516.42 908.46 516.07 906.73 515.68 905.02 515.25 903.31 514.77 901.63 514.24 899.95 513.68 898.29 513.06 896.65 512.41 895.02 511.71 893.42 510.97 891.83 510.19 890.27 509.36 888.73 508.5 887.2 507.6 885.7 506.67 884.22 505.7 882.76 504.7 881.32 503.67 879.9 502.61 878.51 501.51 877.14 500.38 875.8 499.22 874.48 498.02 873.2 496.79 871.94 495.52 870.72 494.23 869.53 492.9 868.37 491.53 867.25 490.14 866.17 488.72 865.12 487.26 864.11 485.78 863.15 484.27 862.23 482.73 861.35 481.16 860.52 479.56 859.73 477.95 859 476.3 858.31 474.64 857.67 472.96 857.09 471.25 856.56 469.53 856.07 467.8 855.63 466.06 855.23 464.3 854.88 462.53 854.57 460.76 854.31 458.98 854.1 457.19 853.94 455.4 853.82 453.6 853.75 451.8 853.73 450 853.75 448.2 853.82 446.4 853.94 444.6 854.1 442.81 854.31 441.02 854.57 439.24 854.88 437.47 855.23 435.7 855.63 433.94 856.07 432.2 856.56 430.47 857.09 428.75 857.67 427.04 858.31 425.36 859 423.7 859.73 422.05 860.52 420.44 861.35 418.84 862.23 417.27 863.15 415.73 864.11 414.22 865.12 412.74 866.17 411.28 867.25 409.86 868.37 408.47 869.53 407.1 870.72 405.77 871.94 404.48 873.2 403.21 874.48 401.98 875.8 400.78 877.14 399.62 878.51 398.49 879.9 397.39 881.32 396.33 882.76 395.3 884.22 394.3 885.7 393.33 887.2 392.4 888.73 391.5 890.27 390.64 891.83 389.81 893.42 389.03 895.02 388.29 896.65 387.59 898.29 386.94 899.95 386.32 901.63 385.76 903.31 385.23 905.02 384.75 906.73 384.32 908.46 383.93 910.19 383.58 911.93 383.28 913.68 383.03 915.44 382.82 917.2 382.66 918.96 382.54 920.73 382.47 922.5 382.45 924.27 382.47 926.04 382.54 927.8 382.66 929.56 382.82 931.32 383.03 933.07 383.28 934.81 383.58 936.54 383.93 938.27 384.32 939.98 384.75 941.69 385.23 943.37 385.76 945.05 386.32 946.71 386.94 948.35 387.59 949.98 388.29 951.58 389.03 953.17 389.81 954.73 390.64 956.27 391.5 957.79 392.4 959.29 393.35 960.76 394.33 962.2 395.35 963.62 396.41 965.01 397.5 966.37 398.63 967.7 399.8 969 401 970.27 402.23 971.5 403.5 972.7 404.8 973.87 406.13 975 407.49 976.09 408.88 977.15 410.3 978.17 411.74 979.15 413.21 980.1 414.71 981 416.23 981.86 417.77 982.69 419.33 983.47 420.92 984.21 422.52 984.91 424.15 985.56 425.79 986.18 427.45 986.74 429.13 987.27 430.81 987.75 432.52 988.18 434.23 988.57 435.96 988.92 437.69 989.22 439.43 989.47 441.18 989.68 442.94 989.84 444.7 989.96 446.46 990.03 448.23 990.05 450Z" fill="#000" fill-rule="evenodd"/>
<path d="M794 443.8 L802 443.8 C803.5 443.8 804.5 443 805.8 441.8 M794 456.8 L802 456.8 C803.5 456.8 804.5 457.6 805.8 458.8" fill="none" stroke="#000" stroke-width="2.1"/>
<path d="M851 443.8 L843 443.8 C841.5 443.8 840.5 443 839.2 441.8 M851 456.8 L843 456.8 C841.5 456.8 840.5 457.6 839.2 458.8" fill="none" stroke="#000" stroke-width="2.1"/>
<circle cx="822.5" cy="450.2" r="17.6" fill="#fff" stroke="#000" stroke-width="2.2"/>
<path d="M785.5 423.8 C784.3 440.06 785 461.74 786.2 478 C791.06 468.2 794.3 462.6 794.3 450 C794.3 438.21 789.46 429.04 785.5 423.8 Z" fill="#fff"/>
<path d="M785.3 423.79 785.27 424.19 785.24 424.6 785.21 425.02 785.19 425.43 785.16 425.85 785.13 426.27 785.11 426.69 785.09 427.11 785.06 427.53 785.04 427.96 785.02 428.39 785 428.82 784.98 429.25 784.96 429.69 784.94 430.12 784.92 430.56 784.9 431 784.88 431.44 784.85 431.88 784.83 432.32 784.81 432.77 784.79 433.22 784.76 433.66 784.74 434.11 784.72 434.56 784.69 435.02 784.67 435.47 784.64 435.92 784.62 436.38 784.59 436.84 784.57 437.29 784.54 437.75 784.51 438.21 784.49 438.67 784.46 439.14 784.44 439.6 784.41 440.06 784.39 440.53 784.36 441 784.34 441.46 784.31 441.93 784.28 442.4 784.26 442.87 784.24 443.34 784.21 443.81 784.19 444.28 784.16 444.75 784.14 445.22 784.12 445.7 784.1 446.17 784.07 446.64 784.05 447.12 784.03 447.59 784.01 448.07 783.99 448.54 783.97 449.02 783.95 449.49 783.94 449.97 783.92 450.44 783.9 450.92 783.89 451.4 783.87 451.87 783.86 452.35 783.84 452.82 783.83 453.3 783.82 453.77 783.81 454.25 783.8 454.72 783.79 455.2 783.79 455.67 783.78 456.15 783.78 456.62 783.77 457.09 783.77 457.57 783.77 458.04 783.77 458.51 783.77 458.98 783.77 459.45 783.78 459.92 783.78 460.39 783.79 460.86 783.8 461.32 783.81 461.79 783.82 462.26 783.83 462.72 783.84 463.19 783.86 463.65 783.88 464.11 783.9 464.57 783.92 465.03 783.94 465.49 783.96 465.94 783.98 466.4 784.01 466.85 784.03 467.31 784.05 467.76 784.08 468.21 784.1 468.66 784.13 469.11 784.15 469.55 784.18 470 784.2 470.44 784.23 470.88 784.25 471.32 784.28 471.76 784.31 472.2 784.33 472.63 784.36 473.06 784.39 473.5 784.41 473.93 784.44 474.35 784.47 474.78 784.5 475.2 784.53 475.62 784.56 476.04 784.59 476.46 784.61 476.88 784.64 477.29 784.67 477.7 784.7 478.11 L787.7 477.89 787.67 477.48 787.64 477.07 787.61 476.66 787.58 476.25 787.55 475.84 787.52 475.42 787.49 475 787.46 474.58 787.44 474.16 787.41 473.73 787.38 473.3 787.35 472.88 787.33 472.45 787.3 472.01 787.27 471.58 787.25 471.14 787.22 470.71 787.2 470.27 787.17 469.83 787.15 469.38 787.12 468.94 787.1 468.5 787.07 468.05 787.05 467.6 787.03 467.15 787 466.7 786.98 466.25 786.96 465.8 786.94 465.34 786.91 464.89 786.89 464.43 786.87 463.97 786.85 463.51 786.82 463.06 786.79 462.59 786.77 462.13 786.74 461.67 786.71 461.21 786.68 460.74 786.66 460.28 786.63 459.81 786.59 459.35 786.56 458.88 786.53 458.41 786.5 457.95 786.47 457.48 786.44 457.01 786.4 456.54 786.37 456.07 786.34 455.6 786.3 455.13 786.27 454.66 786.24 454.19 786.2 453.71 786.17 453.24 786.13 452.77 786.1 452.3 786.07 451.83 786.03 451.35 786 450.88 785.96 450.41 785.93 449.94 785.9 449.46 785.87 448.99 785.83 448.52 785.8 448.05 785.77 447.57 785.74 447.1 785.71 446.63 785.68 446.16 785.65 445.69 785.62 445.22 785.6 444.75 785.57 444.28 785.54 443.81 785.52 443.34 785.49 442.87 785.47 442.4 785.45 441.93 785.43 441.47 785.41 441 785.39 440.54 785.37 440.07 785.35 439.61 785.34 439.15 785.32 438.69 785.31 438.22 785.3 437.76 785.29 437.31 785.28 436.85 785.27 436.39 785.26 435.94 785.26 435.48 785.26 435.03 785.25 434.58 785.25 434.13 785.26 433.68 785.26 433.23 785.26 432.78 785.27 432.34 785.28 431.9 785.29 431.45 785.3 431.01 785.32 430.58 785.34 430.14 785.36 429.7 785.37 429.27 785.4 428.84 785.42 428.41 785.44 427.98 785.46 427.56 785.48 427.13 785.51 426.71 785.53 426.29 785.56 425.87 785.59 425.46 785.61 425.04 785.64 424.63 785.67 424.22 785.7 423.81Z" fill="#000"/>
<path d="M787.45 478.62 787.57 478.38 787.69 478.14 787.81 477.9 787.93 477.66 788.05 477.42 788.17 477.18 788.28 476.95 788.4 476.72 788.51 476.48 788.62 476.25 788.74 476.02 788.85 475.79 788.96 475.57 789.07 475.34 789.18 475.11 789.29 474.89 789.39 474.66 789.5 474.44 789.61 474.22 789.71 474 789.82 473.78 789.92 473.56 790.02 473.34 790.12 473.12 790.22 472.9 790.32 472.69 790.42 472.47 790.52 472.26 790.62 472.04 790.71 471.82 790.81 471.61 790.9 471.4 791 471.18 791.09 470.97 791.18 470.76 791.27 470.54 791.36 470.33 791.45 470.12 791.54 469.91 791.62 469.69 791.71 469.48 791.8 469.27 791.88 469.06 791.96 468.84 792.05 468.63 792.13 468.42 792.21 468.21 792.29 468 792.37 467.78 792.44 467.57 792.52 467.36 792.59 467.14 792.67 466.93 792.74 466.71 792.81 466.5 792.89 466.28 792.96 466.07 793.03 465.85 793.09 465.64 793.16 465.42 793.23 465.2 793.29 464.98 793.36 464.76 793.42 464.54 793.48 464.32 793.54 464.1 793.6 463.88 793.66 463.65 793.72 463.43 793.78 463.21 793.83 462.98 793.89 462.75 793.94 462.52 793.99 462.3 794.05 462.07 794.1 461.83 794.15 461.6 794.19 461.37 794.24 461.13 794.29 460.9 794.33 460.66 794.37 460.42 794.42 460.18 794.46 459.94 794.5 459.7 794.54 459.45 794.58 459.21 794.61 458.96 794.65 458.71 794.68 458.46 794.72 458.21 794.75 457.96 794.78 457.7 794.81 457.44 794.84 457.18 794.87 456.92 794.9 456.66 794.92 456.4 794.95 456.13 794.97 455.86 794.99 455.59 795.01 455.32 795.03 455.04 795.05 454.76 795.07 454.48 795.09 454.2 795.1 453.92 795.12 453.63 795.13 453.34 795.14 453.05 795.15 452.76 795.16 452.46 795.17 452.16 795.18 451.86 795.19 451.56 795.19 451.25 795.19 450.94 795.2 450.63 795.2 450.32 795.2 450 L793.4 450 793.4 450.31 793.4 450.62 793.39 450.92 793.39 451.22 793.38 451.52 793.37 451.81 793.36 452.11 793.35 452.4 793.34 452.68 793.32 452.97 793.31 453.25 793.29 453.53 793.27 453.81 793.25 454.08 793.23 454.35 793.21 454.62 793.19 454.89 793.16 455.15 793.13 455.42 793.1 455.68 793.08 455.94 793.04 456.19 793.01 456.44 792.98 456.7 792.94 456.95 792.91 457.19 792.87 457.44 792.83 457.68 792.79 457.92 792.75 458.16 792.71 458.4 792.67 458.64 792.62 458.87 792.57 459.1 792.53 459.33 792.48 459.56 792.43 459.79 792.38 460.02 792.33 460.24 792.27 460.46 792.22 460.69 792.16 460.91 792.11 461.13 792.05 461.34 791.99 461.56 791.93 461.77 791.87 461.99 791.81 462.2 791.75 462.41 791.68 462.62 791.62 462.83 791.55 463.04 791.48 463.25 791.41 463.46 791.34 463.66 791.27 463.87 791.2 464.07 791.13 464.28 791.06 464.48 790.98 464.68 790.91 464.88 790.83 465.09 790.75 465.29 790.68 465.49 790.6 465.69 790.52 465.89 790.43 466.09 790.35 466.29 790.27 466.49 790.19 466.69 790.1 466.88 790.01 467.08 789.93 467.28 789.84 467.48 789.75 467.68 789.66 467.88 789.57 468.08 789.48 468.28 789.39 468.48 789.3 468.68 789.2 468.88 789.11 469.08 789.01 469.28 788.92 469.48 788.82 469.68 788.72 469.88 788.62 470.09 788.52 470.29 788.42 470.5 788.32 470.7 788.22 470.91 788.11 471.11 788.01 471.32 787.91 471.53 787.8 471.74 787.7 471.95 787.59 472.16 787.48 472.37 787.37 472.58 787.26 472.8 787.15 473.01 787.04 473.23 786.93 473.45 786.82 473.67 786.71 473.89 786.6 474.11 786.48 474.33 786.37 474.56 786.25 474.78 786.14 475.01 786.02 475.24 785.9 475.47 785.79 475.7 785.67 475.94 785.55 476.17 785.43 476.41 785.31 476.65 785.19 476.89 785.07 477.13 784.95 477.38Z" fill="#000"/>
<path d="M795.2 450 795.2 449.7 795.2 449.4 795.19 449.1 795.18 448.81 795.17 448.51 795.16 448.21 795.14 447.92 795.13 447.63 795.11 447.34 795.09 447.05 795.06 446.76 795.04 446.47 795.01 446.19 794.98 445.9 794.95 445.62 794.92 445.33 794.88 445.05 794.84 444.77 794.8 444.49 794.76 444.22 794.72 443.94 794.68 443.67 794.63 443.39 794.58 443.12 794.53 442.85 794.48 442.58 794.43 442.31 794.37 442.05 794.32 441.78 794.26 441.52 794.2 441.25 794.14 440.99 794.07 440.73 794.01 440.47 793.94 440.22 793.88 439.96 793.81 439.7 793.74 439.45 793.67 439.2 793.59 438.95 793.52 438.7 793.44 438.45 793.37 438.21 793.29 437.96 793.21 437.72 793.13 437.48 793.05 437.24 792.97 437 792.88 436.76 792.8 436.53 792.71 436.29 792.63 436.06 792.54 435.83 792.45 435.6 792.36 435.37 792.27 435.14 792.18 434.91 792.09 434.69 791.99 434.47 791.9 434.25 791.8 434.03 791.71 433.81 791.61 433.59 791.51 433.38 791.42 433.16 791.32 432.95 791.22 432.74 791.12 432.53 791.02 432.32 790.92 432.11 790.82 431.91 790.71 431.7 790.61 431.5 790.51 431.3 790.41 431.1 790.3 430.9 790.2 430.71 790.09 430.51 789.99 430.32 789.88 430.13 789.78 429.94 789.67 429.75 789.56 429.56 789.46 429.38 789.35 429.19 789.24 429.01 789.14 428.83 789.03 428.65 788.92 428.47 788.81 428.29 788.71 428.12 788.6 427.94 788.49 427.77 788.38 427.6 788.28 427.43 788.17 427.26 788.06 427.1 787.95 426.93 787.85 426.77 787.74 426.61 787.63 426.45 787.53 426.29 787.42 426.13 787.31 425.97 787.21 425.82 787.1 425.67 787 425.52 786.89 425.37 786.79 425.22 786.68 425.07 786.58 424.92 786.47 424.78 786.37 424.64 786.27 424.5 786.16 424.36 786.06 424.22 785.96 424.08 785.86 423.95 785.76 423.81 785.66 423.68 L785.34 423.92 785.44 424.05 785.54 424.18 785.64 424.32 785.74 424.46 785.83 424.59 785.93 424.73 786.03 424.88 786.13 425.02 786.23 425.17 786.33 425.31 786.43 425.46 786.53 425.61 786.63 425.76 786.72 425.92 786.82 426.07 786.92 426.23 787.02 426.39 787.12 426.55 787.22 426.71 787.31 426.88 787.41 427.04 787.51 427.21 787.61 427.38 787.7 427.55 787.8 427.72 787.9 427.89 787.99 428.07 788.09 428.24 788.18 428.42 788.28 428.6 788.37 428.78 788.47 428.96 788.56 429.15 788.65 429.33 788.74 429.52 788.84 429.71 788.93 429.9 789.02 430.09 789.11 430.28 789.2 430.47 789.29 430.67 789.38 430.87 789.47 431.06 789.56 431.26 789.64 431.47 789.73 431.67 789.82 431.87 789.9 432.08 789.99 432.28 790.07 432.49 790.15 432.7 790.24 432.91 790.32 433.12 790.4 433.34 790.48 433.55 790.56 433.77 790.64 433.98 790.72 434.2 790.8 434.42 790.87 434.64 790.95 434.86 791.02 435.09 791.1 435.31 791.17 435.54 791.24 435.76 791.31 435.99 791.38 436.22 791.45 436.45 791.52 436.69 791.59 436.92 791.65 437.15 791.72 437.39 791.78 437.62 791.85 437.86 791.91 438.1 791.97 438.34 792.03 438.58 792.09 438.83 792.15 439.07 792.2 439.31 792.26 439.56 792.31 439.81 792.37 440.05 792.42 440.3 792.47 440.55 792.52 440.81 792.57 441.06 792.62 441.31 792.66 441.57 792.71 441.82 792.75 442.08 792.79 442.34 792.83 442.6 792.87 442.86 792.91 443.12 792.95 443.38 792.98 443.64 793.02 443.91 793.05 444.18 793.08 444.44 793.11 444.71 793.14 444.98 793.17 445.25 793.19 445.52 793.22 445.79 793.24 446.06 793.26 446.34 793.28 446.61 793.3 446.89 793.32 447.17 793.33 447.45 793.35 447.73 793.36 448.01 793.37 448.29 793.38 448.57 793.39 448.85 793.39 449.14 793.4 449.42 793.4 449.71 793.4 450Z" fill="#000"/>
<path d="M859.5 423.8 C860.7 440.06 860 461.74 858.8 478 C853.94 468.2 850.7 462.6 850.7 450 C850.7 438.21 855.54 429.04 859.5 423.8 Z" fill="#fff"/>
<path d="M859.3 423.81 859.33 424.22 859.36 424.63 859.39 425.04 859.41 425.46 859.44 425.87 859.47 426.29 859.49 426.71 859.52 427.13 859.54 427.56 859.56 427.98 859.58 428.41 859.6 428.84 859.63 429.27 859.64 429.7 859.66 430.14 859.68 430.58 859.7 431.01 859.71 431.45 859.72 431.9 859.73 432.34 859.74 432.78 859.74 433.23 859.74 433.68 859.75 434.13 859.75 434.58 859.74 435.03 859.74 435.48 859.74 435.94 859.73 436.39 859.72 436.85 859.71 437.31 859.7 437.76 859.69 438.22 859.68 438.69 859.66 439.15 859.65 439.61 859.63 440.07 859.61 440.54 859.59 441 859.57 441.47 859.55 441.93 859.53 442.4 859.51 442.87 859.48 443.34 859.46 443.81 859.43 444.28 859.4 444.75 859.38 445.22 859.35 445.69 859.32 446.16 859.29 446.63 859.26 447.1 859.23 447.57 859.2 448.05 859.17 448.52 859.13 448.99 859.1 449.46 859.07 449.94 859.04 450.41 859 450.88 858.97 451.35 858.93 451.83 858.9 452.3 858.87 452.77 858.83 453.24 858.8 453.71 858.76 454.19 858.73 454.66 858.7 455.13 858.66 455.6 858.63 456.07 858.6 456.54 858.56 457.01 858.53 457.48 858.5 457.95 858.47 458.41 858.44 458.88 858.41 459.35 858.37 459.81 858.34 460.28 858.32 460.74 858.29 461.21 858.26 461.67 858.23 462.13 858.21 462.59 858.18 463.06 858.15 463.51 858.13 463.97 858.11 464.43 858.09 464.89 858.06 465.34 858.04 465.8 858.02 466.25 858 466.7 857.97 467.15 857.95 467.6 857.93 468.05 857.9 468.5 857.88 468.94 857.85 469.38 857.83 469.83 857.8 470.27 857.78 470.71 857.75 471.14 857.73 471.58 857.7 472.01 857.67 472.45 857.65 472.88 857.62 473.3 857.59 473.73 857.56 474.16 857.54 474.58 857.51 475 857.48 475.42 857.45 475.84 857.42 476.25 857.39 476.66 857.36 477.07 857.33 477.48 857.3 477.89 L860.3 478.11 860.33 477.7 860.36 477.29 860.39 476.88 860.41 476.46 860.44 476.04 860.47 475.62 860.5 475.2 860.53 474.78 860.56 474.35 860.59 473.93 860.61 473.5 860.64 473.06 860.67 472.63 860.69 472.2 860.72 471.76 860.75 471.32 860.77 470.88 860.8 470.44 860.82 470 860.85 469.55 860.87 469.11 860.9 468.66 860.92 468.21 860.95 467.76 860.97 467.31 860.99 466.85 861.02 466.4 861.04 465.94 861.06 465.49 861.08 465.03 861.1 464.57 861.12 464.11 861.14 463.65 861.16 463.19 861.17 462.72 861.18 462.26 861.19 461.79 861.2 461.32 861.21 460.86 861.22 460.39 861.22 459.92 861.23 459.45 861.23 458.98 861.23 458.51 861.23 458.04 861.23 457.57 861.23 457.09 861.22 456.62 861.22 456.15 861.21 455.67 861.21 455.2 861.2 454.72 861.19 454.25 861.18 453.77 861.17 453.3 861.16 452.82 861.14 452.35 861.13 451.87 861.11 451.4 861.1 450.92 861.08 450.44 861.06 449.97 861.05 449.49 861.03 449.02 861.01 448.54 860.99 448.07 860.97 447.59 860.95 447.12 860.93 446.64 860.9 446.17 860.88 445.7 860.86 445.22 860.84 444.75 860.81 444.28 860.79 443.81 860.76 443.34 860.74 442.87 860.72 442.4 860.69 441.93 860.66 441.46 860.64 441 860.61 440.53 860.59 440.06 860.56 439.6 860.54 439.14 860.51 438.67 860.49 438.21 860.46 437.75 860.43 437.29 860.41 436.84 860.38 436.38 860.36 435.92 860.33 435.47 860.31 435.02 860.28 434.56 860.26 434.11 860.24 433.66 860.21 433.22 860.19 432.77 860.17 432.32 860.15 431.88 860.12 431.44 860.1 431 860.08 430.56 860.06 430.12 860.04 429.69 860.02 429.25 860 428.82 859.98 428.39 859.96 427.96 859.94 427.53 859.91 427.11 859.89 426.69 859.87 426.27 859.84 425.85 859.81 425.43 859.79 425.02 859.76 424.6 859.73 424.19 859.7 423.79Z" fill="#000"/>
<path d="M860.05 477.38 859.93 477.13 859.81 476.89 859.69 476.65 859.57 476.41 859.45 476.17 859.33 475.94 859.21 475.7 859.1 475.47 858.98 475.24 858.86 475.01 858.75 474.78 858.63 474.56 858.52 474.33 858.4 474.11 858.29 473.89 858.18 473.67 858.07 473.45 857.96 473.23 857.85 473.01 857.74 472.8 857.63 472.58 857.52 472.37 857.41 472.16 857.3 471.95 857.2 471.74 857.09 471.53 856.99 471.32 856.89 471.11 856.78 470.91 856.68 470.7 856.58 470.5 856.48 470.29 856.38 470.09 856.28 469.88 856.18 469.68 856.08 469.48 855.99 469.28 855.89 469.08 855.8 468.88 855.7 468.68 855.61 468.48 855.52 468.28 855.43 468.08 855.34 467.88 855.25 467.68 855.16 467.48 855.07 467.28 854.99 467.08 854.9 466.88 854.81 466.69 854.73 466.49 854.65 466.29 854.57 466.09 854.48 465.89 854.4 465.69 854.32 465.49 854.25 465.29 854.17 465.09 854.09 464.88 854.02 464.68 853.94 464.48 853.87 464.28 853.8 464.07 853.73 463.87 853.66 463.66 853.59 463.46 853.52 463.25 853.45 463.04 853.38 462.83 853.32 462.62 853.25 462.41 853.19 462.2 853.13 461.99 853.07 461.77 853.01 461.56 852.95 461.34 852.89 461.13 852.84 460.91 852.78 460.69 852.73 460.46 852.67 460.24 852.62 460.02 852.57 459.79 852.52 459.56 852.47 459.33 852.43 459.1 852.38 458.87 852.33 458.64 852.29 458.4 852.25 458.16 852.21 457.92 852.17 457.68 852.13 457.44 852.09 457.19 852.06 456.95 852.02 456.7 851.99 456.44 851.96 456.19 851.92 455.94 851.9 455.68 851.87 455.42 851.84 455.15 851.81 454.89 851.79 454.62 851.77 454.35 851.75 454.08 851.73 453.81 851.71 453.53 851.69 453.25 851.68 452.97 851.66 452.68 851.65 452.4 851.64 452.11 851.63 451.81 851.62 451.52 851.61 451.22 851.61 450.92 851.6 450.62 851.6 450.31 851.6 450 L849.8 450 849.8 450.32 849.8 450.63 849.81 450.94 849.81 451.25 849.81 451.56 849.82 451.86 849.83 452.16 849.84 452.46 849.85 452.76 849.86 453.05 849.87 453.34 849.88 453.63 849.9 453.92 849.91 454.2 849.93 454.48 849.95 454.76 849.97 455.04 849.99 455.32 850.01 455.59 850.03 455.86 850.05 456.13 850.08 456.4 850.1 456.66 850.13 456.92 850.16 457.18 850.19 457.44 850.22 457.7 850.25 457.96 850.28 458.21 850.32 458.46 850.35 458.71 850.39 458.96 850.42 459.21 850.46 459.45 850.5 459.7 850.54 459.94 850.58 460.18 850.63 460.42 850.67 460.66 850.71 460.9 850.76 461.13 850.81 461.37 850.85 461.6 850.9 461.83 850.95 462.07 851.01 462.3 851.06 462.52 851.11 462.75 851.17 462.98 851.22 463.21 851.28 463.43 851.34 463.65 851.4 463.88 851.46 464.1 851.52 464.32 851.58 464.54 851.64 464.76 851.71 464.98 851.77 465.2 851.84 465.42 851.91 465.64 851.97 465.85 852.04 466.07 852.11 466.28 852.19 466.5 852.26 466.71 852.33 466.93 852.41 467.14 852.48 467.36 852.56 467.57 852.63 467.78 852.71 468 852.79 468.21 852.87 468.42 852.95 468.63 853.04 468.84 853.12 469.06 853.2 469.27 853.29 469.48 853.38 469.69 853.46 469.91 853.55 470.12 853.64 470.33 853.73 470.54 853.82 470.76 853.91 470.97 854 471.18 854.1 471.4 854.19 471.61 854.29 471.82 854.38 472.04 854.48 472.26 854.58 472.47 854.68 472.69 854.78 472.9 854.88 473.12 854.98 473.34 855.08 473.56 855.18 473.78 855.29 474 855.39 474.22 855.5 474.44 855.61 474.66 855.71 474.89 855.82 475.11 855.93 475.34 856.04 475.57 856.15 475.79 856.26 476.02 856.38 476.25 856.49 476.48 856.6 476.72 856.72 476.95 856.83 477.18 856.95 477.42 857.07 477.66 857.19 477.9 857.31 478.14 857.43 478.38 857.55 478.62Z" fill="#000"/>
<path d="M851.6 450 851.6 449.71 851.6 449.42 851.61 449.14 851.61 448.85 851.62 448.57 851.63 448.29 851.64 448.01 851.65 447.73 851.67 447.45 851.68 447.17 851.7 446.89 851.72 446.61 851.74 446.34 851.76 446.06 851.78 445.79 851.81 445.52 851.83 445.25 851.86 444.98 851.89 444.71 851.92 444.44 851.95 444.18 851.98 443.91 852.02 443.64 852.05 443.38 852.09 443.12 852.13 442.86 852.17 442.6 852.21 442.34 852.25 442.08 852.29 441.82 852.34 441.57 852.38 441.31 852.43 441.06 852.48 440.81 852.53 440.55 852.58 440.3 852.63 440.05 852.69 439.81 852.74 439.56 852.8 439.31 852.85 439.07 852.91 438.83 852.97 438.58 853.03 438.34 853.09 438.1 853.15 437.86 853.22 437.62 853.28 437.39 853.35 437.15 853.41 436.92 853.48 436.69 853.55 436.45 853.62 436.22 853.69 435.99 853.76 435.76 853.83 435.54 853.9 435.31 853.98 435.09 854.05 434.86 854.13 434.64 854.2 434.42 854.28 434.2 854.36 433.98 854.44 433.77 854.52 433.55 854.6 433.34 854.68 433.12 854.76 432.91 854.85 432.7 854.93 432.49 855.01 432.28 855.1 432.08 855.18 431.87 855.27 431.67 855.36 431.47 855.44 431.26 855.53 431.06 855.62 430.87 855.71 430.67 855.8 430.47 855.89 430.28 855.98 430.09 856.07 429.9 856.16 429.71 856.26 429.52 856.35 429.33 856.44 429.15 856.53 428.96 856.63 428.78 856.72 428.6 856.82 428.42 856.91 428.24 857.01 428.07 857.1 427.89 857.2 427.72 857.3 427.55 857.39 427.38 857.49 427.21 857.59 427.04 857.69 426.88 857.78 426.71 857.88 426.55 857.98 426.39 858.08 426.23 858.18 426.07 858.28 425.92 858.37 425.76 858.47 425.61 858.57 425.46 858.67 425.31 858.77 425.17 858.87 425.02 858.97 424.88 859.07 424.73 859.17 424.59 859.26 424.46 859.36 424.32 859.46 424.18 859.56 424.05 859.66 423.92 L859.34 423.68 859.24 423.81 859.14 423.95 859.04 424.08 858.94 424.22 858.84 424.36 858.73 424.5 858.63 424.64 858.53 424.78 858.42 424.92 858.32 425.07 858.21 425.22 858.11 425.37 858 425.52 857.9 425.67 857.79 425.82 857.69 425.97 857.58 426.13 857.47 426.29 857.37 426.45 857.26 426.61 857.15 426.77 857.05 426.93 856.94 427.1 856.83 427.26 856.72 427.43 856.62 427.6 856.51 427.77 856.4 427.94 856.29 428.12 856.19 428.29 856.08 428.47 855.97 428.65 855.86 428.83 855.76 429.01 855.65 429.19 855.54 429.38 855.44 429.56 855.33 429.75 855.22 429.94 855.12 430.13 855.01 430.32 854.91 430.51 854.8 430.71 854.7 430.9 854.59 431.1 854.49 431.3 854.39 431.5 854.29 431.7 854.18 431.91 854.08 432.11 853.98 432.32 853.88 432.53 853.78 432.74 853.68 432.95 853.58 433.16 853.49 433.38 853.39 433.59 853.29 433.81 853.2 434.03 853.1 434.25 853.01 434.47 852.91 434.69 852.82 434.91 852.73 435.14 852.64 435.37 852.55 435.6 852.46 435.83 852.37 436.06 852.29 436.29 852.2 436.53 852.12 436.76 852.03 437 851.95 437.24 851.87 437.48 851.79 437.72 851.71 437.96 851.63 438.21 851.56 438.45 851.48 438.7 851.41 438.95 851.33 439.2 851.26 439.45 851.19 439.7 851.12 439.96 851.06 440.22 850.99 440.47 850.93 440.73 850.86 440.99 850.8 441.25 850.74 441.52 850.68 441.78 850.63 442.05 850.57 442.31 850.52 442.58 850.47 442.85 850.42 443.12 850.37 443.39 850.32 443.67 850.28 443.94 850.24 444.22 850.2 444.49 850.16 444.77 850.12 445.05 850.08 445.33 850.05 445.62 850.02 445.9 849.99 446.19 849.96 446.47 849.94 446.76 849.91 447.05 849.89 447.34 849.87 447.63 849.86 447.92 849.84 448.21 849.83 448.51 849.82 448.81 849.81 449.1 849.8 449.4 849.8 449.7 849.8 450Z" fill="#000"/>
</svg>
</body></html>
